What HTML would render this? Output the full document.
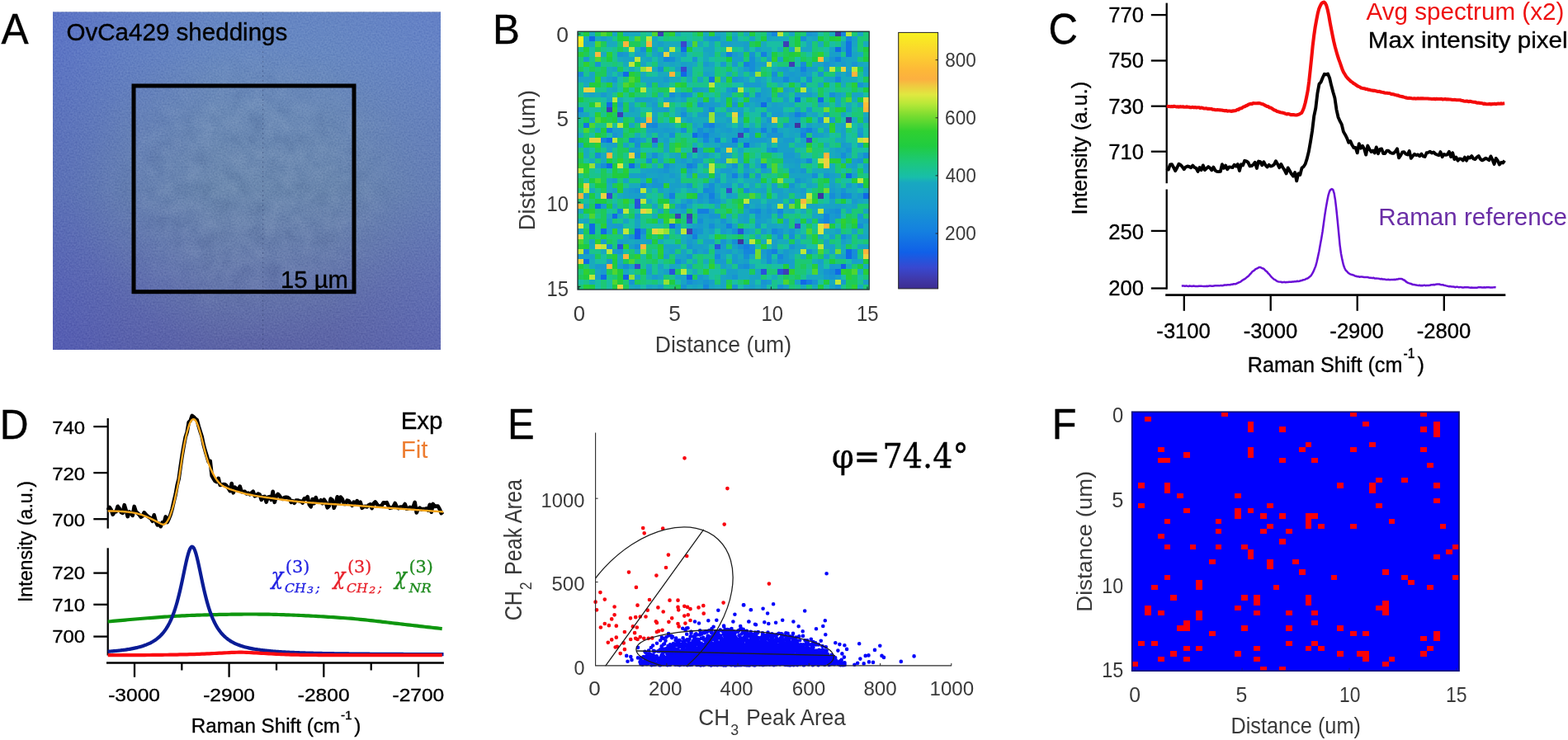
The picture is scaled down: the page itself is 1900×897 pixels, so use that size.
<!DOCTYPE html>
<html lang="en"><head><meta charset="utf-8"><title>Figure: OvCa429 sheddings – BCARS analysis</title>
<style>
html,body{margin:0;padding:0;background:#fff;}
body{width:1900px;height:897px;overflow:hidden;font-family:"Liberation Sans",sans-serif;}
svg{display:block;}
text{white-space:pre;}
</style></head><body>
<svg width="1900" height="897" viewBox="0 0 1900 897" style="filter:blur(0.45px)">
<defs>
<linearGradient id="gA" x1="0" y1="0" x2="0" y2="1">
 <stop offset="0" stop-color="rgb(101,133,195)"/><stop offset="0.12" stop-color="rgb(103,136,193)"/>
 <stop offset="0.3" stop-color="rgb(103,134,183)"/><stop offset="0.53" stop-color="rgb(102,130,173)"/><stop offset="0.78" stop-color="rgb(97,112,170)"/>
 <stop offset="0.95" stop-color="rgb(93,102,167)"/><stop offset="1" stop-color="rgb(91,99,166)"/>
</linearGradient>
<linearGradient id="gAl" x1="0" y1="0" x2="1" y2="0">
 <stop offset="0" stop-color="rgb(72,80,200)" stop-opacity="0.36"/><stop offset="0.03" stop-color="rgb(72,80,200)" stop-opacity="0.33"/>
 <stop offset="0.18" stop-color="rgb(72,80,200)" stop-opacity="0.17"/><stop offset="0.42" stop-color="rgb(72,80,200)" stop-opacity="0"/>
 <stop offset="0.72" stop-color="rgb(95,112,210)" stop-opacity="0"/><stop offset="1" stop-color="rgb(95,112,210)" stop-opacity="0.22"/>
</linearGradient>
<radialGradient id="gAc" cx="0.5" cy="0.53" r="0.5"><stop offset="0" stop-color="rgb(112,142,172)" stop-opacity="0.34"/><stop offset="0.55" stop-color="rgb(112,142,172)" stop-opacity="0.24"/><stop offset="1" stop-color="rgb(112,142,172)" stop-opacity="0"/></radialGradient>
<filter id="nA" x="0" y="0" width="100%" height="100%" color-interpolation-filters="sRGB">
 <feTurbulence type="fractalNoise" baseFrequency="0.5" numOctaves="2" seed="7" result="t"/>
 <feColorMatrix in="t" type="matrix" values="1.0 0 0 0 0.01  1.0 0 0 0 0.01  1.0 0 0 0 0.01  0 0 0 0 1"/>
 <feColorMatrix type="saturate" values="0"/>
</filter>
<filter id="nA2" x="0" y="0" width="100%" height="100%" color-interpolation-filters="sRGB">
 <feTurbulence type="fractalNoise" baseFrequency="0.05" numOctaves="2" seed="3" result="t"/>
 <feColorMatrix in="t" type="matrix" values="1.3 0 0 0 -0.07  1.3 0 0 0 -0.07  1.3 0 0 0 -0.07  0 0 0 0 1"/>
 <feColorMatrix type="saturate" values="0"/>
</filter>
<radialGradient id="gM" cx="0.5" cy="0.5" r="0.5"><stop offset="0.55" stop-color="#fff"/><stop offset="1" stop-color="#000"/></radialGradient>
<mask id="mA"><rect x="110" y="50" width="390" height="350" fill="url(#gM)"/></mask>
<clipPath id="cE"><rect x="721.6" y="524" width="432" height="283.4"/></clipPath>
</defs>
<text transform="translate(1.6 52.9) scale(0.9702 1)" font-size="51.3" fill="#000" font-family='"Liberation Sans", sans-serif' stroke="#000" stroke-width="0.35">A</text>
<text transform="translate(597.05 52.9) scale(0.9728 1)" font-size="50.72" fill="#000" font-family='"Liberation Sans", sans-serif' stroke="#000" stroke-width="0.35">B</text>
<text transform="translate(1270.44 53.19) scale(0.9558 1)" font-size="51.41" fill="#000" font-family='"Liberation Sans", sans-serif' stroke="#000" stroke-width="0.35">C</text>
<text transform="translate(-0.16 531.5) scale(0.9482 1)" font-size="50.87" fill="#000" font-family='"Liberation Sans", sans-serif' stroke="#000" stroke-width="0.35">D</text>
<text transform="translate(614.98 531.5) scale(0.9603 1)" font-size="51.01" fill="#000" font-family='"Liberation Sans", sans-serif' stroke="#000" stroke-width="0.35">E</text>
<text transform="translate(1274.8 531.8) scale(0.9480 1)" font-size="51.45" fill="#000" font-family='"Liberation Sans", sans-serif' stroke="#000" stroke-width="0.35">F</text>
<g id="panelA">
<g style="isolation:isolate">
<rect x="64" y="14.5" width="470" height="409.5" fill="url(#gA)"/>
<rect x="64" y="14.5" width="470" height="409.5" fill="url(#gAl)"/>
<rect x="90" y="40" width="420" height="370" fill="url(#gAc)"/>
<rect x="110" y="50" width="390" height="350" filter="url(#nA2)" style="mix-blend-mode:soft-light" opacity="0.16" mask="url(#mA)"/>
<rect x="64" y="14.5" width="470" height="409.5" filter="url(#nA)" style="mix-blend-mode:soft-light" opacity="0.3"/>
</g>
<line x1="318.6" y1="16" x2="318.6" y2="424" stroke="#27325c" stroke-width="0.9" stroke-dasharray="1.6 4.2" opacity="0.55"/>
<rect x="162" y="104" width="267" height="249.7" fill="none" stroke="#000" stroke-width="5"/>
<text transform="translate(80.47 49.36) scale(1.0280 1)" font-size="28.77" fill="#000" font-family='"Liberation Sans", sans-serif' stroke="#000" stroke-width="0.35">OvCa429 sheddings</text>
<text transform="translate(340.11 349.44) scale(0.9958 1)" font-size="29.33" fill="#000" font-family='"Liberation Sans", sans-serif' stroke="#000" stroke-width="0.35">15 µm</text>
</g>
<g id="panelB" shape-rendering="crispEdges">
<rect x="700" y="38.2" width="353.2" height="312.8" fill="#22b4a0"/>
<g transform="translate(700 38.2) scale(6.9255 6.1333)">
<path fill="#3f34a0" d="M45 0h1v1h-1zM47 17h1v1h-1zM38 18h1v1h-1zM20 23h1v1h-1zM42 32h1v1h-1zM28 41h1v1h-1z"/>
<path fill="#3d3eb6" d="M14 0h1v1h-1zM36 2h1v1h-1zM37 6h1v1h-1zM5 15h1v1h-1zM7 16h1v1h-1zM28 20h1v1h-1zM17 36h1v1h-1zM19 36h1v1h-1zM19 39h1v1h-1zM36 47h1v1h-1z"/>
<path fill="#3847ce" d="M18 2h1v1h-1zM18 7h1v1h-1zM13 21h1v1h-1zM40 21h1v1h-1zM26 31h1v1h-1zM5 32h1v1h-1zM19 37h1v1h-1zM38 38h1v1h-1zM10 46h1v1h-1z"/>
<path fill="#2752da" d="M10 33h1v1h-1zM10 34h1v1h-1zM28 39h1v1h-1zM7 42h1v1h-1zM24 42h1v1h-1zM16 47h1v1h-1zM32 47h1v1h-1zM35 47h1v1h-1z"/>
<path fill="#145ee6" d="M10 39h1v1h-1zM10 40h1v1h-1zM46 46h1v1h-1zM8 48h1v1h-1zM19 48h1v1h-1z"/>
<path fill="#1169e6" d="M2 1h1v1h-1zM18 3h1v1h-1zM45 3h1v1h-1zM8 8h1v1h-1zM18 8h1v1h-1zM38 13h1v1h-1zM42 13h1v1h-1zM5 14h1v1h-1zM32 14h1v1h-1zM20 20h1v1h-1zM5 21h1v1h-1zM27 21h1v1h-1zM29 22h1v1h-1zM5 26h1v1h-1zM9 26h1v1h-1zM47 28h1v1h-1zM50 32h1v1h-1zM3 34h1v1h-1zM6 36h1v1h-1zM2 38h1v1h-1zM16 38h1v1h-1zM2 39h1v1h-1zM4 39h1v1h-1zM47 43h1v1h-1zM47 44h1v1h-1zM1 45h1v1h-1zM45 47h1v1h-1zM4 48h1v1h-1zM39 49h1v1h-1z"/>
<path fill="#1273e3" d="M47 2h1v1h-1zM47 3h1v1h-1zM47 4h1v1h-1zM23 9h1v1h-1zM1 18h1v1h-1z"/>
<path fill="#147ee0" d="M26 4h1v1h-1zM32 4h1v1h-1zM45 5h1v1h-1zM29 6h1v1h-1zM39 7h1v1h-1zM0 15h1v1h-1zM38 16h1v1h-1zM23 18h1v1h-1zM5 19h1v1h-1zM29 19h1v1h-1zM32 19h1v1h-1zM40 19h1v1h-1zM22 20h1v1h-1zM39 20h1v1h-1zM4 21h1v1h-1zM24 21h1v1h-1zM19 26h1v1h-1zM32 26h1v1h-1zM27 28h1v1h-1zM16 32h1v1h-1zM23 32h1v1h-1zM21 35h2v1h-2zM26 38h1v1h-1zM20 40h1v1h-1zM29 42h1v1h-1zM34 43h1v1h-1zM40 49h1v1h-1z"/>
<path fill="#1586dc" d="M34 0h1v1h-1zM46 0h1v1h-1zM47 1h1v1h-1zM15 5h1v1h-1zM36 9h1v1h-1zM45 9h1v1h-1zM23 15h1v1h-1zM13 18h1v1h-1zM22 18h1v1h-1zM34 19h1v1h-1zM9 21h1v1h-1zM22 21h1v1h-1zM34 23h1v1h-1zM40 25h1v1h-1zM29 28h1v1h-1zM11 30h1v1h-1zM22 31h1v1h-1zM46 32h1v1h-1zM7 35h1v1h-1zM31 35h1v1h-1zM35 35h1v1h-1zM43 36h1v1h-1zM43 37h1v1h-1zM34 39h1v1h-1zM1 43h1v1h-1zM29 43h2v1h-2zM24 44h1v1h-1zM35 44h1v1h-1zM22 50h1v1h-1z"/>
<path fill="#168dd7" d="M39 1h1v1h-1zM11 3h1v1h-1zM16 5h1v1h-1zM30 5h1v1h-1zM30 6h1v1h-1zM39 6h1v1h-1zM14 7h1v1h-1zM30 7h1v1h-1zM0 8h1v1h-1zM34 8h1v1h-1zM40 9h1v1h-1zM27 11h1v1h-1zM16 12h1v1h-1zM18 12h1v1h-1zM31 12h1v1h-1zM44 12h1v1h-1zM21 14h1v1h-1zM18 16h1v1h-1zM32 16h1v1h-1zM39 16h1v1h-1zM42 17h1v1h-1zM12 18h1v1h-1zM18 19h1v1h-1zM21 19h1v1h-1zM39 19h1v1h-1zM16 20h1v1h-1zM21 20h1v1h-1zM10 22h1v1h-1zM24 23h1v1h-1zM3 24h1v1h-1zM13 24h1v1h-1zM46 24h1v1h-1zM50 24h1v1h-1zM12 25h1v1h-1zM4 26h1v1h-1zM15 26h1v1h-1zM20 26h1v1h-1zM27 26h1v1h-1zM41 28h1v1h-1zM23 30h1v1h-1zM23 31h1v1h-1zM29 31h1v1h-1zM44 32h1v1h-1zM47 32h1v1h-1zM23 33h1v1h-1zM18 34h1v1h-1zM30 35h1v1h-1zM45 35h1v1h-1zM21 37h1v1h-1zM23 38h1v1h-1zM49 38h1v1h-1zM11 39h1v1h-1zM20 39h1v1h-1zM27 39h1v1h-1zM35 40h1v1h-1zM37 40h1v1h-1zM46 40h1v1h-1zM27 41h1v1h-1zM5 42h1v1h-1zM10 42h1v1h-1zM28 42h1v1h-1zM30 42h1v1h-1zM33 43h1v1h-1zM48 43h1v1h-1zM29 44h1v1h-1zM33 44h1v1h-1zM48 44h1v1h-1zM17 45h1v1h-1zM33 45h1v1h-1zM8 46h1v1h-1zM29 46h1v1h-1zM44 47h1v1h-1zM19 49h1v1h-1z"/>
<path fill="#1794d2" d="M40 0h1v1h-1zM23 1h2v1h-2zM7 4h1v1h-1zM30 4h1v1h-1zM20 5h1v1h-1zM44 5h1v1h-1zM3 6h1v1h-1zM43 6h1v1h-1zM48 6h1v1h-1zM39 8h1v1h-1zM42 8h1v1h-1zM6 9h1v1h-1zM27 9h1v1h-1zM39 10h1v1h-1zM49 10h1v1h-1zM19 12h1v1h-1zM29 12h1v1h-1zM33 13h1v1h-1zM7 14h1v1h-1zM27 14h1v1h-1zM33 17h1v1h-1zM36 18h1v1h-1zM23 19h1v1h-1zM6 20h1v1h-1zM33 20h3v1h-3zM49 20h1v1h-1zM10 21h1v1h-1zM33 23h1v1h-1zM47 23h1v1h-1zM10 24h1v1h-1zM20 25h1v1h-1zM49 25h1v1h-1zM29 26h1v1h-1zM15 27h1v1h-1zM39 27h1v1h-1zM31 28h1v1h-1zM43 28h1v1h-1zM13 29h1v1h-1zM24 29h1v1h-1zM38 29h1v1h-1zM13 30h2v1h-2zM19 30h1v1h-1zM37 30h1v1h-1zM49 30h1v1h-1zM10 31h1v1h-1zM46 31h1v1h-1zM21 32h1v1h-1zM19 33h1v1h-1zM24 33h1v1h-1zM29 34h1v1h-1zM33 35h1v1h-1zM44 35h1v1h-1zM23 36h2v1h-2zM31 36h1v1h-1zM35 36h1v1h-1zM45 36h1v1h-1zM25 37h1v1h-1zM42 37h1v1h-1zM31 38h1v1h-1zM21 39h1v1h-1zM35 39h1v1h-1zM37 39h1v1h-1zM9 40h1v1h-1zM25 41h1v1h-1zM19 42h1v1h-1zM37 42h1v1h-1zM7 43h1v1h-1zM20 43h1v1h-1zM40 43h1v1h-1zM19 44h1v1h-1zM35 45h1v1h-1zM28 46h1v1h-1zM43 47h1v1h-1zM27 48h1v1h-1zM44 48h1v1h-1zM9 49h1v1h-1zM22 49h1v1h-1zM32 49h1v1h-1zM41 49h1v1h-1zM18 50h1v1h-1zM27 50h1v1h-1zM35 50h1v1h-1zM45 50h1v1h-1z"/>
<path fill="#189ace" d="M41 0h1v1h-1zM8 4h1v1h-1zM14 4h1v1h-1zM18 4h1v1h-1zM27 4h1v1h-1zM1 5h1v1h-1zM22 6h1v1h-1zM25 6h1v1h-1zM27 6h1v1h-1zM44 6h1v1h-1zM46 6h1v1h-1zM29 7h1v1h-1zM36 7h1v1h-1zM40 7h1v1h-1zM43 7h1v1h-1zM37 8h1v1h-1zM47 8h1v1h-1zM15 9h1v1h-1zM28 9h1v1h-1zM34 9h1v1h-1zM38 9h1v1h-1zM29 10h3v1h-3zM20 11h1v1h-1zM26 11h1v1h-1zM4 12h1v1h-1zM38 12h1v1h-1zM40 12h1v1h-1zM31 13h1v1h-1zM13 14h1v1h-1zM22 14h2v1h-2zM15 15h1v1h-1zM40 15h1v1h-1zM22 16h1v1h-1zM28 16h1v1h-1zM34 16h2v1h-2zM37 16h1v1h-1zM43 16h1v1h-1zM10 17h1v1h-1zM38 17h1v1h-1zM44 17h1v1h-1zM24 18h1v1h-1zM32 18h1v1h-1zM13 19h1v1h-1zM15 19h1v1h-1zM26 19h1v1h-1zM28 19h1v1h-1zM41 19h1v1h-1zM49 19h1v1h-1zM23 20h1v1h-1zM30 20h1v1h-1zM41 20h1v1h-1zM30 21h3v1h-3zM36 21h2v1h-2zM13 22h1v1h-1zM25 22h3v1h-3zM46 22h1v1h-1zM49 22h1v1h-1zM22 24h1v1h-1zM36 24h2v1h-2zM18 25h1v1h-1zM21 25h1v1h-1zM25 25h1v1h-1zM38 25h1v1h-1zM48 25h1v1h-1zM14 27h1v1h-1zM19 27h1v1h-1zM25 27h2v1h-2zM32 27h1v1h-1zM37 27h1v1h-1zM11 28h1v1h-1zM16 28h1v1h-1zM6 29h1v1h-1zM12 30h1v1h-1zM26 30h1v1h-1zM28 30h1v1h-1zM47 30h1v1h-1zM9 31h1v1h-1zM39 31h1v1h-1zM44 31h1v1h-1zM49 32h1v1h-1zM21 33h1v1h-1zM37 33h1v1h-1zM48 33h1v1h-1zM4 34h1v1h-1zM17 34h1v1h-1zM33 34h1v1h-1zM43 35h1v1h-1zM10 36h1v1h-1zM21 36h1v1h-1zM33 36h1v1h-1zM44 36h1v1h-1zM49 36h1v1h-1zM31 37h1v1h-1zM44 37h1v1h-1zM50 37h1v1h-1zM6 38h2v1h-2zM17 38h1v1h-1zM21 38h1v1h-1zM25 39h1v1h-1zM32 39h1v1h-1zM19 41h1v1h-1zM25 42h1v1h-1zM6 43h1v1h-1zM22 43h1v1h-1zM24 43h1v1h-1zM26 43h1v1h-1zM32 43h1v1h-1zM36 43h1v1h-1zM27 44h1v1h-1zM36 44h1v1h-1zM5 45h1v1h-1zM24 45h2v1h-2zM27 45h1v1h-1zM36 45h1v1h-1zM3 46h2v1h-2zM44 46h1v1h-1zM4 47h1v1h-1zM13 48h1v1h-1zM21 48h1v1h-1zM43 48h1v1h-1zM20 49h1v1h-1zM33 49h1v1h-1zM46 49h1v1h-1zM32 50h1v1h-1z"/>
<path fill="#189fc9" d="M33 0h1v1h-1zM4 1h1v1h-1zM22 1h1v1h-1zM27 1h1v1h-1zM48 1h1v1h-1zM14 2h1v1h-1zM25 2h2v1h-2zM29 2h1v1h-1zM13 3h1v1h-1zM29 3h1v1h-1zM31 3h1v1h-1zM46 3h1v1h-1zM10 4h2v1h-2zM44 4h2v1h-2zM27 5h2v1h-2zM33 5h1v1h-1zM46 5h1v1h-1zM18 6h1v1h-1zM31 6h2v1h-2zM17 7h1v1h-1zM19 7h1v1h-1zM35 7h1v1h-1zM38 7h1v1h-1zM41 7h1v1h-1zM50 7h1v1h-1zM19 8h1v1h-1zM22 8h1v1h-1zM36 8h1v1h-1zM38 8h1v1h-1zM40 8h1v1h-1zM45 8h1v1h-1zM5 9h1v1h-1zM31 9h1v1h-1zM35 9h1v1h-1zM37 9h1v1h-1zM12 10h1v1h-1zM21 11h1v1h-1zM32 11h1v1h-1zM36 11h1v1h-1zM17 12h1v1h-1zM32 12h1v1h-1zM35 12h1v1h-1zM39 12h1v1h-1zM45 12h1v1h-1zM10 13h3v1h-3zM15 13h2v1h-2zM18 13h1v1h-1zM23 13h1v1h-1zM30 13h1v1h-1zM32 13h1v1h-1zM36 13h1v1h-1zM24 14h1v1h-1zM29 14h1v1h-1zM31 14h1v1h-1zM34 14h1v1h-1zM42 14h1v1h-1zM7 15h1v1h-1zM9 15h1v1h-1zM13 15h2v1h-2zM18 15h1v1h-1zM22 15h1v1h-1zM26 15h1v1h-1zM28 15h1v1h-1zM33 15h3v1h-3zM0 16h1v1h-1zM21 16h1v1h-1zM13 17h1v1h-1zM19 17h1v1h-1zM26 17h1v1h-1zM37 17h1v1h-1zM50 17h1v1h-1zM20 18h1v1h-1zM25 18h1v1h-1zM28 18h1v1h-1zM37 18h1v1h-1zM40 18h1v1h-1zM6 19h2v1h-2zM12 19h1v1h-1zM14 19h1v1h-1zM16 19h1v1h-1zM22 19h1v1h-1zM25 19h1v1h-1zM30 19h1v1h-1zM38 19h1v1h-1zM43 19h1v1h-1zM46 19h1v1h-1zM7 20h1v1h-1zM14 20h1v1h-1zM24 20h1v1h-1zM42 20h1v1h-1zM46 20h1v1h-1zM11 21h1v1h-1zM15 21h1v1h-1zM6 22h1v1h-1zM30 22h1v1h-1zM35 22h2v1h-2zM47 22h1v1h-1zM9 23h2v1h-2zM21 23h1v1h-1zM35 23h3v1h-3zM45 23h1v1h-1zM19 24h1v1h-1zM25 24h1v1h-1zM36 25h2v1h-2zM16 26h1v1h-1zM38 26h1v1h-1zM48 26h1v1h-1zM50 26h1v1h-1zM12 27h2v1h-2zM29 27h1v1h-1zM38 27h1v1h-1zM9 28h2v1h-2zM14 28h1v1h-1zM24 28h1v1h-1zM26 28h1v1h-1zM44 28h1v1h-1zM48 28h1v1h-1zM14 29h1v1h-1zM17 29h1v1h-1zM39 29h1v1h-1zM16 30h2v1h-2zM22 30h1v1h-1zM25 30h1v1h-1zM34 30h1v1h-1zM44 30h1v1h-1zM6 31h1v1h-1zM14 31h1v1h-1zM16 31h1v1h-1zM32 31h1v1h-1zM34 31h2v1h-2zM37 31h1v1h-1zM9 32h2v1h-2zM22 32h1v1h-1zM24 32h1v1h-1zM26 32h1v1h-1zM35 32h1v1h-1zM39 32h1v1h-1zM45 32h1v1h-1zM31 34h1v1h-1zM45 34h1v1h-1zM18 35h1v1h-1zM23 35h1v1h-1zM32 35h1v1h-1zM34 35h1v1h-1zM22 36h1v1h-1zM29 36h1v1h-1zM32 36h1v1h-1zM5 37h1v1h-1zM23 37h1v1h-1zM29 37h1v1h-1zM32 37h1v1h-1zM36 37h1v1h-1zM49 37h1v1h-1zM5 38h1v1h-1zM20 38h1v1h-1zM25 38h1v1h-1zM23 39h1v1h-1zM29 39h1v1h-1zM45 39h1v1h-1zM11 40h1v1h-1zM19 40h1v1h-1zM44 40h1v1h-1zM47 40h1v1h-1zM49 40h1v1h-1zM4 41h1v1h-1zM7 41h1v1h-1zM12 41h1v1h-1zM22 41h2v1h-2zM34 41h1v1h-1zM46 41h1v1h-1zM9 42h1v1h-1zM20 42h2v1h-2zM27 42h1v1h-1zM34 42h1v1h-1zM16 43h1v1h-1zM25 43h1v1h-1zM28 43h1v1h-1zM0 44h1v1h-1zM15 44h1v1h-1zM32 44h1v1h-1zM43 44h1v1h-1zM46 44h1v1h-1zM18 45h1v1h-1zM29 45h1v1h-1zM37 45h1v1h-1zM42 45h1v1h-1zM48 45h1v1h-1zM7 46h1v1h-1zM19 46h1v1h-1zM25 46h1v1h-1zM37 46h1v1h-1zM45 46h1v1h-1zM12 47h1v1h-1zM15 47h1v1h-1zM26 47h2v1h-2zM3 48h1v1h-1zM26 48h1v1h-1zM45 48h1v1h-1zM21 49h1v1h-1zM23 49h1v1h-1zM50 49h1v1h-1zM14 50h1v1h-1zM30 50h1v1h-1z"/>
<path fill="#18a4c4" d="M6 0h1v1h-1zM8 0h1v1h-1zM24 0h1v1h-1zM37 0h1v1h-1zM49 0h1v1h-1zM13 1h1v1h-1zM30 1h1v1h-1zM33 1h1v1h-1zM41 1h1v1h-1zM1 2h1v1h-1zM23 2h1v1h-1zM27 2h2v1h-2zM40 2h1v1h-1zM46 2h1v1h-1zM48 2h1v1h-1zM15 3h1v1h-1zM22 3h2v1h-2zM37 3h1v1h-1zM39 3h2v1h-2zM44 3h1v1h-1zM13 4h1v1h-1zM23 4h1v1h-1zM28 4h1v1h-1zM48 4h1v1h-1zM8 5h2v1h-2zM12 5h1v1h-1zM14 5h1v1h-1zM17 5h1v1h-1zM35 5h1v1h-1zM47 5h2v1h-2zM11 6h1v1h-1zM14 6h1v1h-1zM16 6h1v1h-1zM19 6h1v1h-1zM23 6h1v1h-1zM42 6h1v1h-1zM45 6h1v1h-1zM47 6h1v1h-1zM49 6h1v1h-1zM6 7h1v1h-1zM31 7h1v1h-1zM47 7h1v1h-1zM2 8h1v1h-1zM7 8h1v1h-1zM23 8h1v1h-1zM30 8h1v1h-1zM50 8h1v1h-1zM0 9h3v1h-3zM11 9h4v1h-4zM21 9h1v1h-1zM29 9h1v1h-1zM43 9h2v1h-2zM14 10h1v1h-1zM32 10h1v1h-1zM42 10h1v1h-1zM50 10h1v1h-1zM6 11h1v1h-1zM22 11h1v1h-1zM33 11h1v1h-1zM2 12h1v1h-1zM26 12h1v1h-1zM33 12h1v1h-1zM48 12h2v1h-2zM5 13h1v1h-1zM13 13h1v1h-1zM27 13h1v1h-1zM45 13h1v1h-1zM9 14h1v1h-1zM35 14h1v1h-1zM37 14h1v1h-1zM45 14h1v1h-1zM49 14h1v1h-1zM38 15h1v1h-1zM47 15h1v1h-1zM1 16h1v1h-1zM13 16h1v1h-1zM24 16h2v1h-2zM41 16h1v1h-1zM46 16h1v1h-1zM9 18h1v1h-1zM14 18h2v1h-2zM33 18h1v1h-1zM42 18h1v1h-1zM46 18h1v1h-1zM24 19h1v1h-1zM27 19h1v1h-1zM31 19h1v1h-1zM33 19h1v1h-1zM35 19h1v1h-1zM37 19h1v1h-1zM26 20h2v1h-2zM37 20h1v1h-1zM23 21h1v1h-1zM26 21h1v1h-1zM28 21h2v1h-2zM33 21h1v1h-1zM35 21h1v1h-1zM39 21h1v1h-1zM46 21h1v1h-1zM0 22h1v1h-1zM5 22h1v1h-1zM8 22h1v1h-1zM15 22h1v1h-1zM33 22h1v1h-1zM5 23h1v1h-1zM15 23h1v1h-1zM28 23h1v1h-1zM46 23h1v1h-1zM17 24h1v1h-1zM21 24h1v1h-1zM26 24h1v1h-1zM38 24h1v1h-1zM45 24h1v1h-1zM47 24h1v1h-1zM49 24h1v1h-1zM14 25h1v1h-1zM17 25h1v1h-1zM24 25h1v1h-1zM39 25h1v1h-1zM3 26h1v1h-1zM10 26h1v1h-1zM18 26h1v1h-1zM22 26h1v1h-1zM26 26h1v1h-1zM31 26h1v1h-1zM37 26h1v1h-1zM47 26h1v1h-1zM11 27h1v1h-1zM16 27h1v1h-1zM27 27h1v1h-1zM33 27h1v1h-1zM43 27h1v1h-1zM50 27h1v1h-1zM12 28h2v1h-2zM15 28h1v1h-1zM17 28h1v1h-1zM19 28h1v1h-1zM37 28h4v1h-4zM45 28h1v1h-1zM5 29h1v1h-1zM8 29h1v1h-1zM15 29h1v1h-1zM26 29h1v1h-1zM31 29h1v1h-1zM44 29h1v1h-1zM18 30h1v1h-1zM30 30h1v1h-1zM40 30h1v1h-1zM8 31h1v1h-1zM20 31h1v1h-1zM31 31h1v1h-1zM38 31h1v1h-1zM45 31h1v1h-1zM1 32h1v1h-1zM8 32h1v1h-1zM11 32h1v1h-1zM15 32h1v1h-1zM27 32h1v1h-1zM36 32h1v1h-1zM48 32h1v1h-1zM18 33h1v1h-1zM22 33h1v1h-1zM30 33h2v1h-2zM33 33h3v1h-3zM44 33h1v1h-1zM49 33h1v1h-1zM13 34h1v1h-1zM19 34h1v1h-1zM24 34h1v1h-1zM36 34h1v1h-1zM40 34h2v1h-2zM43 34h2v1h-2zM46 34h1v1h-1zM48 34h1v1h-1zM14 35h1v1h-1zM16 35h1v1h-1zM29 35h1v1h-1zM37 35h1v1h-1zM47 35h1v1h-1zM50 35h1v1h-1zM28 36h1v1h-1zM41 36h2v1h-2zM1 37h1v1h-1zM8 37h1v1h-1zM10 37h1v1h-1zM22 37h1v1h-1zM28 37h1v1h-1zM40 37h1v1h-1zM10 38h1v1h-1zM22 38h1v1h-1zM24 38h1v1h-1zM27 38h1v1h-1zM33 38h2v1h-2zM36 38h1v1h-1zM5 39h1v1h-1zM7 39h1v1h-1zM17 39h1v1h-1zM26 39h1v1h-1zM36 39h1v1h-1zM48 39h1v1h-1zM8 40h1v1h-1zM15 40h1v1h-1zM31 40h1v1h-1zM39 40h1v1h-1zM50 40h1v1h-1zM2 41h1v1h-1zM8 41h1v1h-1zM10 41h2v1h-2zM20 41h1v1h-1zM43 41h1v1h-1zM15 42h3v1h-3zM22 42h1v1h-1zM38 42h2v1h-2zM43 42h2v1h-2zM49 42h2v1h-2zM18 43h1v1h-1zM21 43h1v1h-1zM37 43h1v1h-1zM44 43h1v1h-1zM1 44h2v1h-2zM17 44h2v1h-2zM25 44h1v1h-1zM45 44h1v1h-1zM28 45h1v1h-1zM49 45h1v1h-1zM9 46h1v1h-1zM12 46h1v1h-1zM14 46h1v1h-1zM16 46h1v1h-1zM30 46h1v1h-1zM42 46h1v1h-1zM3 47h1v1h-1zM31 47h1v1h-1zM42 47h1v1h-1zM10 48h1v1h-1zM14 48h1v1h-1zM17 48h2v1h-2zM22 48h1v1h-1zM25 48h1v1h-1zM30 48h2v1h-2zM18 49h1v1h-1zM25 49h1v1h-1zM30 49h1v1h-1zM38 49h1v1h-1zM10 50h1v1h-1zM12 50h1v1h-1zM20 50h1v1h-1zM23 50h1v1h-1zM25 50h1v1h-1zM29 50h1v1h-1zM36 50h1v1h-1zM44 50h1v1h-1z"/>
<path fill="#18aabe" d="M2 0h1v1h-1zM9 0h2v1h-2zM17 0h1v1h-1zM22 0h1v1h-1zM25 0h1v1h-1zM27 0h1v1h-1zM29 0h1v1h-1zM44 0h1v1h-1zM1 1h1v1h-1zM3 1h1v1h-1zM5 1h1v1h-1zM25 1h1v1h-1zM34 1h3v1h-3zM40 1h1v1h-1zM2 2h1v1h-1zM5 2h2v1h-2zM13 2h1v1h-1zM15 2h3v1h-3zM19 2h1v1h-1zM21 2h1v1h-1zM32 2h1v1h-1zM42 2h1v1h-1zM50 2h1v1h-1zM10 3h1v1h-1zM32 3h2v1h-2zM35 3h1v1h-1zM48 3h1v1h-1zM4 4h1v1h-1zM16 4h2v1h-2zM22 4h1v1h-1zM25 4h1v1h-1zM33 4h1v1h-1zM49 4h1v1h-1zM7 5h1v1h-1zM11 5h1v1h-1zM22 5h1v1h-1zM31 5h1v1h-1zM43 5h1v1h-1zM8 6h1v1h-1zM15 6h1v1h-1zM17 6h1v1h-1zM20 6h1v1h-1zM41 6h1v1h-1zM50 6h1v1h-1zM5 7h1v1h-1zM9 7h1v1h-1zM13 7h1v1h-1zM22 7h2v1h-2zM28 7h1v1h-1zM34 7h1v1h-1zM37 7h1v1h-1zM5 8h1v1h-1zM11 8h1v1h-1zM14 8h2v1h-2zM26 8h1v1h-1zM28 8h1v1h-1zM46 8h1v1h-1zM4 9h1v1h-1zM16 9h2v1h-2zM19 9h1v1h-1zM25 9h1v1h-1zM32 9h1v1h-1zM46 9h3v1h-3zM1 10h1v1h-1zM6 10h1v1h-1zM15 10h1v1h-1zM35 10h1v1h-1zM46 10h1v1h-1zM5 11h1v1h-1zM37 11h1v1h-1zM40 11h1v1h-1zM1 12h1v1h-1zM3 12h1v1h-1zM5 12h1v1h-1zM14 12h1v1h-1zM25 12h1v1h-1zM36 12h1v1h-1zM41 12h1v1h-1zM46 12h1v1h-1zM7 13h1v1h-1zM17 13h1v1h-1zM21 13h1v1h-1zM25 13h1v1h-1zM48 13h1v1h-1zM12 14h1v1h-1zM25 14h1v1h-1zM30 14h1v1h-1zM33 14h1v1h-1zM36 14h1v1h-1zM43 14h1v1h-1zM47 14h1v1h-1zM10 15h1v1h-1zM17 15h1v1h-1zM27 15h1v1h-1zM30 15h1v1h-1zM8 16h3v1h-3zM17 16h1v1h-1zM19 16h1v1h-1zM36 16h1v1h-1zM40 16h1v1h-1zM50 16h1v1h-1zM2 17h1v1h-1zM7 17h1v1h-1zM11 17h1v1h-1zM18 17h1v1h-1zM20 17h3v1h-3zM24 17h2v1h-2zM28 17h1v1h-1zM32 17h1v1h-1zM48 17h1v1h-1zM16 18h1v1h-1zM21 18h1v1h-1zM26 18h1v1h-1zM30 18h1v1h-1zM34 18h1v1h-1zM41 18h1v1h-1zM43 18h1v1h-1zM45 18h1v1h-1zM49 18h1v1h-1zM3 19h1v1h-1zM17 19h1v1h-1zM20 19h1v1h-1zM36 19h1v1h-1zM45 19h1v1h-1zM0 20h1v1h-1zM10 20h1v1h-1zM12 20h1v1h-1zM15 20h1v1h-1zM25 20h1v1h-1zM32 20h1v1h-1zM36 20h1v1h-1zM38 20h1v1h-1zM43 20h1v1h-1zM14 21h1v1h-1zM21 21h1v1h-1zM45 21h1v1h-1zM4 22h1v1h-1zM20 22h1v1h-1zM22 22h3v1h-3zM31 22h1v1h-1zM38 22h2v1h-2zM43 22h1v1h-1zM1 23h1v1h-1zM25 23h1v1h-1zM44 23h1v1h-1zM1 24h1v1h-1zM4 24h1v1h-1zM12 24h1v1h-1zM14 24h1v1h-1zM16 24h1v1h-1zM23 24h1v1h-1zM28 24h1v1h-1zM44 24h1v1h-1zM2 25h1v1h-1zM4 25h1v1h-1zM19 25h1v1h-1zM28 25h1v1h-1zM31 25h1v1h-1zM46 25h1v1h-1zM13 26h1v1h-1zM17 26h1v1h-1zM36 26h1v1h-1zM44 26h1v1h-1zM17 27h1v1h-1zM20 27h1v1h-1zM24 27h1v1h-1zM30 27h1v1h-1zM41 27h2v1h-2zM44 27h1v1h-1zM48 27h1v1h-1zM21 28h2v1h-2zM28 28h1v1h-1zM11 29h1v1h-1zM16 29h1v1h-1zM23 29h1v1h-1zM27 29h1v1h-1zM29 29h2v1h-2zM40 29h1v1h-1zM5 30h1v1h-1zM9 30h2v1h-2zM24 30h1v1h-1zM32 30h1v1h-1zM38 30h1v1h-1zM41 30h1v1h-1zM45 30h1v1h-1zM48 30h1v1h-1zM2 31h1v1h-1zM5 31h1v1h-1zM12 31h1v1h-1zM15 31h1v1h-1zM17 31h1v1h-1zM19 31h1v1h-1zM24 31h1v1h-1zM30 31h1v1h-1zM36 31h1v1h-1zM47 31h2v1h-2zM50 31h1v1h-1zM7 32h1v1h-1zM32 32h1v1h-1zM38 32h1v1h-1zM12 33h1v1h-1zM16 33h1v1h-1zM20 33h1v1h-1zM25 33h1v1h-1zM50 33h1v1h-1zM1 34h1v1h-1zM6 34h1v1h-1zM30 34h1v1h-1zM32 34h1v1h-1zM34 34h1v1h-1zM42 34h1v1h-1zM47 34h1v1h-1zM0 35h1v1h-1zM17 35h1v1h-1zM36 35h1v1h-1zM39 35h1v1h-1zM41 35h1v1h-1zM5 36h1v1h-1zM7 36h1v1h-1zM13 36h1v1h-1zM26 36h1v1h-1zM0 37h1v1h-1zM14 37h1v1h-1zM24 37h1v1h-1zM26 37h1v1h-1zM33 37h1v1h-1zM38 37h1v1h-1zM19 38h1v1h-1zM35 38h1v1h-1zM50 38h1v1h-1zM0 39h1v1h-1zM22 39h1v1h-1zM30 39h1v1h-1zM33 39h1v1h-1zM38 39h1v1h-1zM43 39h2v1h-2zM50 39h1v1h-1zM18 40h1v1h-1zM21 40h2v1h-2zM34 40h1v1h-1zM42 40h1v1h-1zM9 41h1v1h-1zM14 41h1v1h-1zM18 41h1v1h-1zM26 41h1v1h-1zM29 41h1v1h-1zM32 41h1v1h-1zM35 41h2v1h-2zM38 41h1v1h-1zM47 41h1v1h-1zM2 42h1v1h-1zM46 42h1v1h-1zM4 43h1v1h-1zM10 43h1v1h-1zM15 43h1v1h-1zM27 43h1v1h-1zM35 43h1v1h-1zM38 43h1v1h-1zM41 43h1v1h-1zM46 43h1v1h-1zM7 44h1v1h-1zM28 44h1v1h-1zM30 44h1v1h-1zM37 44h1v1h-1zM39 44h1v1h-1zM2 45h1v1h-1zM7 45h1v1h-1zM20 45h1v1h-1zM22 45h1v1h-1zM32 45h1v1h-1zM34 45h1v1h-1zM41 45h1v1h-1zM2 46h1v1h-1zM17 46h1v1h-1zM26 46h1v1h-1zM47 46h1v1h-1zM50 46h1v1h-1zM8 47h1v1h-1zM14 47h1v1h-1zM20 47h1v1h-1zM28 47h2v1h-2zM49 47h1v1h-1zM12 48h1v1h-1zM28 48h2v1h-2zM34 48h1v1h-1zM40 48h3v1h-3zM2 49h1v1h-1zM44 49h1v1h-1zM9 50h1v1h-1zM13 50h1v1h-1zM19 50h1v1h-1zM21 50h1v1h-1zM24 50h1v1h-1zM31 50h1v1h-1zM39 50h1v1h-1zM41 50h1v1h-1zM49 50h1v1h-1z"/>
<path fill="#19bfa3" d="M12 0h1v1h-1zM18 0h2v1h-2zM42 0h1v1h-1zM9 1h1v1h-1zM14 1h1v1h-1zM19 1h1v1h-1zM28 1h1v1h-1zM46 1h1v1h-1zM22 2h1v1h-1zM33 2h3v1h-3zM39 2h1v1h-1zM44 2h1v1h-1zM2 3h1v1h-1zM5 3h1v1h-1zM17 3h1v1h-1zM20 3h2v1h-2zM24 3h1v1h-1zM28 3h1v1h-1zM30 3h1v1h-1zM34 3h1v1h-1zM43 3h1v1h-1zM2 4h1v1h-1zM9 4h1v1h-1zM19 4h1v1h-1zM31 4h1v1h-1zM40 4h1v1h-1zM13 5h1v1h-1zM18 5h2v1h-2zM21 5h1v1h-1zM23 5h1v1h-1zM38 5h1v1h-1zM12 6h1v1h-1zM24 6h1v1h-1zM34 6h1v1h-1zM38 6h1v1h-1zM8 7h1v1h-1zM10 7h1v1h-1zM16 7h1v1h-1zM27 7h1v1h-1zM6 8h1v1h-1zM13 8h1v1h-1zM17 8h1v1h-1zM41 8h1v1h-1zM7 9h1v1h-1zM30 9h1v1h-1zM33 9h1v1h-1zM39 9h1v1h-1zM49 9h1v1h-1zM19 10h1v1h-1zM24 10h1v1h-1zM27 10h2v1h-2zM36 10h1v1h-1zM44 10h1v1h-1zM7 11h1v1h-1zM9 11h1v1h-1zM12 11h1v1h-1zM17 11h1v1h-1zM25 11h1v1h-1zM29 11h1v1h-1zM31 11h1v1h-1zM41 11h1v1h-1zM44 11h1v1h-1zM12 12h1v1h-1zM20 12h1v1h-1zM23 12h1v1h-1zM43 12h1v1h-1zM50 12h1v1h-1zM4 13h1v1h-1zM8 13h2v1h-2zM14 13h1v1h-1zM24 13h1v1h-1zM28 13h1v1h-1zM37 13h1v1h-1zM39 13h1v1h-1zM17 14h1v1h-1zM40 14h1v1h-1zM48 14h1v1h-1zM2 15h2v1h-2zM11 15h2v1h-2zM24 15h1v1h-1zM29 15h1v1h-1zM31 15h1v1h-1zM36 15h1v1h-1zM2 16h1v1h-1zM16 16h1v1h-1zM20 16h1v1h-1zM30 16h2v1h-2zM33 16h1v1h-1zM42 16h1v1h-1zM47 16h1v1h-1zM15 17h1v1h-1zM30 17h1v1h-1zM41 17h1v1h-1zM46 17h1v1h-1zM6 18h1v1h-1zM27 18h1v1h-1zM39 18h1v1h-1zM48 18h1v1h-1zM48 19h1v1h-1zM50 19h1v1h-1zM2 20h1v1h-1zM5 20h1v1h-1zM18 20h2v1h-2zM29 20h1v1h-1zM44 20h1v1h-1zM47 20h1v1h-1zM50 20h1v1h-1zM16 21h1v1h-1zM25 21h1v1h-1zM38 21h1v1h-1zM42 21h2v1h-2zM47 21h2v1h-2zM32 22h1v1h-1zM34 22h1v1h-1zM48 22h1v1h-1zM2 23h1v1h-1zM11 23h2v1h-2zM18 23h1v1h-1zM27 23h1v1h-1zM29 23h1v1h-1zM32 23h1v1h-1zM39 23h1v1h-1zM43 23h1v1h-1zM49 23h2v1h-2zM15 24h1v1h-1zM20 24h1v1h-1zM24 24h1v1h-1zM31 24h1v1h-1zM35 24h1v1h-1zM40 24h1v1h-1zM1 25h1v1h-1zM10 25h1v1h-1zM30 25h1v1h-1zM41 25h1v1h-1zM21 26h1v1h-1zM41 26h1v1h-1zM49 26h1v1h-1zM3 27h1v1h-1zM5 27h1v1h-1zM9 27h2v1h-2zM21 27h1v1h-1zM46 27h1v1h-1zM25 28h1v1h-1zM42 28h1v1h-1zM1 29h1v1h-1zM25 29h1v1h-1zM28 29h1v1h-1zM33 29h1v1h-1zM36 29h2v1h-2zM46 29h2v1h-2zM21 30h1v1h-1zM27 30h1v1h-1zM29 30h1v1h-1zM39 30h1v1h-1zM18 31h1v1h-1zM21 31h1v1h-1zM25 31h1v1h-1zM27 31h1v1h-1zM40 31h1v1h-1zM49 31h1v1h-1zM3 32h1v1h-1zM13 32h1v1h-1zM25 32h1v1h-1zM34 32h1v1h-1zM43 32h1v1h-1zM1 33h1v1h-1zM6 33h1v1h-1zM13 33h1v1h-1zM17 33h1v1h-1zM32 33h1v1h-1zM43 33h1v1h-1zM47 33h1v1h-1zM9 34h1v1h-1zM20 34h1v1h-1zM22 34h1v1h-1zM5 35h1v1h-1zM10 35h1v1h-1zM20 35h1v1h-1zM38 35h1v1h-1zM1 36h1v1h-1zM30 36h1v1h-1zM39 36h1v1h-1zM46 36h1v1h-1zM9 37h1v1h-1zM27 37h1v1h-1zM34 37h1v1h-1zM8 38h2v1h-2zM12 38h3v1h-3zM30 38h1v1h-1zM32 38h1v1h-1zM39 38h1v1h-1zM41 38h1v1h-1zM45 38h1v1h-1zM24 39h1v1h-1zM39 39h1v1h-1zM23 40h1v1h-1zM29 40h1v1h-1zM43 40h1v1h-1zM15 41h2v1h-2zM23 42h1v1h-1zM31 42h1v1h-1zM33 42h1v1h-1zM36 42h1v1h-1zM40 42h2v1h-2zM8 43h1v1h-1zM13 43h1v1h-1zM19 43h1v1h-1zM4 44h1v1h-1zM11 44h1v1h-1zM26 44h1v1h-1zM34 44h1v1h-1zM3 45h2v1h-2zM14 45h1v1h-1zM30 45h2v1h-2zM47 45h1v1h-1zM15 46h1v1h-1zM22 46h1v1h-1zM31 46h2v1h-2zM34 46h2v1h-2zM43 46h1v1h-1zM9 47h1v1h-1zM19 47h1v1h-1zM23 47h2v1h-2zM40 47h1v1h-1zM23 48h1v1h-1zM33 48h1v1h-1zM46 48h1v1h-1zM49 48h1v1h-1zM0 49h1v1h-1zM3 49h1v1h-1zM5 49h1v1h-1zM14 49h1v1h-1zM17 49h1v1h-1zM27 49h1v1h-1zM31 49h1v1h-1zM35 49h1v1h-1zM42 49h1v1h-1zM3 50h1v1h-1zM5 50h1v1h-1zM11 50h1v1h-1zM28 50h1v1h-1zM33 50h1v1h-1zM43 50h1v1h-1z"/>
<path fill="#1ac48c" d="M11 0h1v1h-1zM31 0h1v1h-1zM36 0h1v1h-1zM6 1h1v1h-1zM16 1h3v1h-3zM20 1h2v1h-2zM29 1h1v1h-1zM31 1h1v1h-1zM11 2h1v1h-1zM24 2h1v1h-1zM45 2h1v1h-1zM0 3h1v1h-1zM4 3h1v1h-1zM6 3h1v1h-1zM8 3h1v1h-1zM14 3h1v1h-1zM25 3h1v1h-1zM27 3h1v1h-1zM42 3h1v1h-1zM6 4h1v1h-1zM12 4h1v1h-1zM20 4h2v1h-2zM43 4h1v1h-1zM46 4h1v1h-1zM2 5h1v1h-1zM6 5h1v1h-1zM24 5h2v1h-2zM32 5h1v1h-1zM4 6h2v1h-2zM7 6h1v1h-1zM21 6h1v1h-1zM26 6h1v1h-1zM28 6h1v1h-1zM1 7h1v1h-1zM20 7h2v1h-2zM25 7h1v1h-1zM33 7h1v1h-1zM1 8h1v1h-1zM12 8h1v1h-1zM20 8h1v1h-1zM25 8h1v1h-1zM29 8h1v1h-1zM49 8h1v1h-1zM18 9h1v1h-1zM22 9h1v1h-1zM41 9h2v1h-2zM0 10h1v1h-1zM7 10h1v1h-1zM11 10h1v1h-1zM16 10h1v1h-1zM20 10h3v1h-3zM25 10h1v1h-1zM34 10h1v1h-1zM38 10h1v1h-1zM40 10h2v1h-2zM0 11h1v1h-1zM3 11h2v1h-2zM24 11h1v1h-1zM43 11h1v1h-1zM46 11h2v1h-2zM49 11h1v1h-1zM0 12h1v1h-1zM6 12h1v1h-1zM8 12h1v1h-1zM22 12h1v1h-1zM30 12h1v1h-1zM37 12h1v1h-1zM2 13h2v1h-2zM35 13h1v1h-1zM43 13h1v1h-1zM0 14h2v1h-2zM4 14h1v1h-1zM10 14h1v1h-1zM20 14h1v1h-1zM38 14h2v1h-2zM44 14h1v1h-1zM46 14h1v1h-1zM1 15h1v1h-1zM16 15h1v1h-1zM20 15h2v1h-2zM25 15h1v1h-1zM32 15h1v1h-1zM37 15h1v1h-1zM39 15h1v1h-1zM41 15h2v1h-2zM48 15h1v1h-1zM4 16h1v1h-1zM14 16h1v1h-1zM26 16h1v1h-1zM0 17h1v1h-1zM35 17h1v1h-1zM39 17h1v1h-1zM3 18h2v1h-2zM17 18h1v1h-1zM29 18h1v1h-1zM31 18h1v1h-1zM50 18h1v1h-1zM0 19h1v1h-1zM42 19h1v1h-1zM11 20h1v1h-1zM13 20h1v1h-1zM45 20h1v1h-1zM48 20h1v1h-1zM12 21h1v1h-1zM19 21h1v1h-1zM44 21h1v1h-1zM9 22h1v1h-1zM21 22h1v1h-1zM28 22h1v1h-1zM37 22h1v1h-1zM41 22h1v1h-1zM44 22h1v1h-1zM4 23h1v1h-1zM6 23h1v1h-1zM13 23h1v1h-1zM19 23h1v1h-1zM30 23h2v1h-2zM38 23h1v1h-1zM48 23h1v1h-1zM2 24h1v1h-1zM6 24h1v1h-1zM8 24h1v1h-1zM27 24h1v1h-1zM34 24h1v1h-1zM39 24h1v1h-1zM42 24h1v1h-1zM48 24h1v1h-1zM11 25h1v1h-1zM22 25h1v1h-1zM8 26h1v1h-1zM25 26h1v1h-1zM28 26h1v1h-1zM30 26h1v1h-1zM35 26h1v1h-1zM39 26h1v1h-1zM2 27h1v1h-1zM28 27h1v1h-1zM31 27h1v1h-1zM36 27h1v1h-1zM40 27h1v1h-1zM0 28h1v1h-1zM2 28h2v1h-2zM18 28h1v1h-1zM32 28h1v1h-1zM34 28h1v1h-1zM50 28h1v1h-1zM21 29h1v1h-1zM41 29h1v1h-1zM2 30h1v1h-1zM8 30h1v1h-1zM31 30h1v1h-1zM33 30h1v1h-1zM43 30h1v1h-1zM46 30h1v1h-1zM3 31h1v1h-1zM13 31h1v1h-1zM6 32h1v1h-1zM12 32h1v1h-1zM17 32h2v1h-2zM26 33h1v1h-1zM36 33h1v1h-1zM42 33h1v1h-1zM21 34h1v1h-1zM23 34h1v1h-1zM26 34h1v1h-1zM6 35h1v1h-1zM13 35h1v1h-1zM27 35h1v1h-1zM46 35h1v1h-1zM3 36h1v1h-1zM8 36h1v1h-1zM11 36h2v1h-2zM18 36h1v1h-1zM34 36h1v1h-1zM37 36h1v1h-1zM40 36h1v1h-1zM7 37h1v1h-1zM11 37h1v1h-1zM20 37h1v1h-1zM1 38h1v1h-1zM3 38h1v1h-1zM11 38h1v1h-1zM18 38h1v1h-1zM29 38h1v1h-1zM3 39h1v1h-1zM16 39h1v1h-1zM41 39h1v1h-1zM47 39h1v1h-1zM17 40h1v1h-1zM26 40h1v1h-1zM32 40h1v1h-1zM38 40h1v1h-1zM21 41h1v1h-1zM24 41h1v1h-1zM39 41h2v1h-2zM45 41h1v1h-1zM49 41h1v1h-1zM18 42h1v1h-1zM35 42h1v1h-1zM45 42h1v1h-1zM48 42h1v1h-1zM2 43h2v1h-2zM43 43h1v1h-1zM13 44h1v1h-1zM20 44h1v1h-1zM22 44h2v1h-2zM38 44h1v1h-1zM41 44h1v1h-1zM44 44h1v1h-1zM49 44h1v1h-1zM11 45h1v1h-1zM19 45h1v1h-1zM43 45h1v1h-1zM11 46h1v1h-1zM13 46h1v1h-1zM18 46h1v1h-1zM24 46h1v1h-1zM27 46h1v1h-1zM33 46h1v1h-1zM40 46h1v1h-1zM13 47h1v1h-1zM21 47h1v1h-1zM5 48h1v1h-1zM16 48h1v1h-1zM24 48h1v1h-1zM35 48h1v1h-1zM39 48h1v1h-1zM1 49h1v1h-1zM12 49h1v1h-1zM34 49h1v1h-1zM49 49h1v1h-1zM15 50h1v1h-1zM34 50h1v1h-1zM38 50h1v1h-1zM46 50h1v1h-1z"/>
<path fill="#1cc875" d="M0 0h1v1h-1zM20 0h1v1h-1zM26 0h1v1h-1zM28 0h1v1h-1zM32 0h1v1h-1zM39 0h1v1h-1zM43 0h1v1h-1zM48 0h1v1h-1zM50 0h1v1h-1zM11 1h1v1h-1zM15 1h1v1h-1zM37 1h1v1h-1zM43 1h1v1h-1zM49 1h2v1h-2zM7 2h1v1h-1zM37 2h1v1h-1zM41 2h1v1h-1zM49 2h1v1h-1zM41 3h1v1h-1zM49 3h1v1h-1zM24 4h1v1h-1zM35 4h1v1h-1zM39 4h1v1h-1zM0 5h1v1h-1zM4 5h1v1h-1zM29 5h1v1h-1zM40 5h1v1h-1zM49 5h1v1h-1zM0 6h1v1h-1zM2 6h1v1h-1zM6 6h1v1h-1zM13 6h1v1h-1zM35 6h2v1h-2zM3 7h1v1h-1zM15 7h1v1h-1zM24 7h1v1h-1zM32 7h1v1h-1zM42 7h1v1h-1zM45 7h1v1h-1zM21 8h1v1h-1zM24 8h1v1h-1zM27 8h1v1h-1zM33 8h1v1h-1zM35 8h1v1h-1zM43 8h2v1h-2zM8 9h1v1h-1zM20 9h1v1h-1zM4 10h1v1h-1zM10 10h1v1h-1zM26 10h1v1h-1zM33 10h1v1h-1zM47 10h1v1h-1zM13 11h1v1h-1zM18 11h1v1h-1zM30 11h1v1h-1zM45 11h1v1h-1zM10 12h2v1h-2zM15 12h1v1h-1zM24 12h1v1h-1zM27 12h1v1h-1zM1 13h1v1h-1zM19 13h2v1h-2zM34 13h1v1h-1zM41 13h1v1h-1zM46 13h1v1h-1zM14 14h1v1h-1zM16 14h1v1h-1zM18 14h1v1h-1zM41 14h1v1h-1zM4 15h1v1h-1zM19 15h1v1h-1zM44 15h1v1h-1zM49 15h1v1h-1zM11 16h1v1h-1zM29 16h1v1h-1zM44 16h2v1h-2zM48 16h2v1h-2zM9 17h1v1h-1zM14 17h1v1h-1zM31 17h1v1h-1zM36 17h1v1h-1zM0 18h1v1h-1zM10 18h1v1h-1zM19 18h1v1h-1zM35 18h1v1h-1zM2 19h1v1h-1zM8 19h1v1h-1zM11 19h1v1h-1zM19 19h1v1h-1zM47 19h1v1h-1zM1 20h1v1h-1zM9 20h1v1h-1zM17 20h1v1h-1zM40 20h1v1h-1zM8 21h1v1h-1zM17 21h1v1h-1zM20 21h1v1h-1zM41 21h1v1h-1zM19 22h1v1h-1zM45 22h1v1h-1zM0 23h1v1h-1zM14 23h1v1h-1zM41 23h2v1h-2zM30 24h1v1h-1zM41 24h1v1h-1zM3 25h1v1h-1zM6 25h1v1h-1zM8 25h1v1h-1zM15 25h1v1h-1zM33 25h1v1h-1zM12 26h1v1h-1zM14 26h1v1h-1zM24 26h1v1h-1zM33 26h1v1h-1zM40 26h1v1h-1zM45 26h1v1h-1zM7 27h1v1h-1zM22 27h1v1h-1zM35 27h1v1h-1zM45 27h1v1h-1zM47 27h1v1h-1zM5 28h1v1h-1zM30 28h1v1h-1zM33 28h1v1h-1zM49 28h1v1h-1zM7 29h1v1h-1zM9 29h2v1h-2zM18 29h3v1h-3zM45 29h1v1h-1zM20 30h1v1h-1zM35 30h1v1h-1zM0 31h1v1h-1zM33 31h1v1h-1zM41 31h1v1h-1zM14 32h1v1h-1zM28 32h2v1h-2zM31 32h1v1h-1zM37 32h1v1h-1zM0 33h1v1h-1zM2 33h1v1h-1zM5 33h1v1h-1zM7 33h1v1h-1zM9 33h1v1h-1zM45 33h1v1h-1zM7 34h1v1h-1zM11 34h2v1h-2zM14 34h1v1h-1zM27 34h1v1h-1zM49 34h2v1h-2zM3 35h1v1h-1zM9 35h1v1h-1zM24 35h2v1h-2zM40 35h1v1h-1zM48 35h2v1h-2zM0 36h1v1h-1zM20 36h1v1h-1zM27 36h1v1h-1zM36 36h1v1h-1zM38 36h1v1h-1zM48 36h1v1h-1zM50 36h1v1h-1zM2 37h1v1h-1zM6 37h1v1h-1zM18 37h1v1h-1zM30 37h1v1h-1zM37 37h1v1h-1zM45 37h1v1h-1zM15 38h1v1h-1zM37 38h1v1h-1zM47 38h1v1h-1zM9 39h1v1h-1zM31 39h1v1h-1zM46 39h1v1h-1zM49 39h1v1h-1zM1 40h1v1h-1zM3 40h1v1h-1zM5 40h3v1h-3zM13 40h1v1h-1zM16 40h1v1h-1zM27 40h1v1h-1zM30 40h1v1h-1zM36 40h1v1h-1zM40 40h1v1h-1zM45 40h1v1h-1zM48 40h1v1h-1zM1 41h1v1h-1zM6 41h1v1h-1zM42 41h1v1h-1zM44 41h1v1h-1zM48 41h1v1h-1zM50 41h1v1h-1zM6 42h1v1h-1zM12 42h2v1h-2zM26 42h1v1h-1zM9 43h1v1h-1zM12 43h1v1h-1zM17 43h1v1h-1zM23 43h1v1h-1zM49 43h1v1h-1zM16 44h1v1h-1zM21 44h1v1h-1zM10 45h1v1h-1zM12 45h1v1h-1zM15 45h1v1h-1zM21 45h1v1h-1zM26 45h1v1h-1zM38 45h3v1h-3zM45 45h2v1h-2zM1 46h1v1h-1zM20 46h2v1h-2zM38 46h1v1h-1zM48 46h1v1h-1zM0 47h1v1h-1zM10 47h1v1h-1zM25 47h1v1h-1zM33 47h2v1h-2zM38 47h2v1h-2zM6 48h1v1h-1zM11 48h1v1h-1zM15 48h1v1h-1zM32 48h1v1h-1zM37 48h1v1h-1zM50 48h1v1h-1zM4 49h1v1h-1zM8 49h1v1h-1zM11 49h1v1h-1zM13 49h1v1h-1zM24 49h1v1h-1zM28 49h1v1h-1zM0 50h1v1h-1zM4 50h1v1h-1zM16 50h1v1h-1zM37 50h1v1h-1zM40 50h1v1h-1zM50 50h1v1h-1z"/>
<path fill="#1eca5a" d="M3 0h1v1h-1zM15 0h1v1h-1zM38 0h1v1h-1zM4 2h1v1h-1zM9 2h2v1h-2zM30 2h1v1h-1zM43 2h1v1h-1zM3 3h1v1h-1zM7 3h1v1h-1zM36 3h1v1h-1zM1 4h1v1h-1zM29 4h1v1h-1zM36 4h1v1h-1zM41 4h1v1h-1zM50 4h1v1h-1zM37 5h1v1h-1zM39 5h1v1h-1zM40 6h1v1h-1zM0 7h1v1h-1zM2 7h1v1h-1zM4 7h1v1h-1zM7 7h1v1h-1zM26 7h1v1h-1zM49 7h1v1h-1zM3 8h2v1h-2zM10 8h1v1h-1zM32 8h1v1h-1zM50 9h1v1h-1zM13 10h1v1h-1zM45 10h1v1h-1zM14 11h2v1h-2zM19 11h1v1h-1zM38 11h1v1h-1zM42 11h1v1h-1zM48 11h1v1h-1zM13 12h1v1h-1zM28 12h1v1h-1zM34 12h1v1h-1zM42 12h1v1h-1zM47 12h1v1h-1zM40 13h1v1h-1zM8 14h1v1h-1zM11 14h1v1h-1zM8 15h1v1h-1zM6 16h1v1h-1zM15 16h1v1h-1zM1 17h1v1h-1zM5 17h1v1h-1zM8 17h1v1h-1zM45 17h1v1h-1zM49 17h1v1h-1zM10 19h1v1h-1zM4 20h1v1h-1zM8 20h1v1h-1zM1 21h1v1h-1zM7 21h1v1h-1zM18 21h1v1h-1zM2 22h1v1h-1zM7 22h1v1h-1zM11 22h2v1h-2zM14 22h1v1h-1zM16 22h1v1h-1zM18 22h1v1h-1zM42 22h1v1h-1zM3 23h1v1h-1zM7 23h2v1h-2zM16 23h1v1h-1zM22 23h1v1h-1zM7 24h1v1h-1zM32 24h2v1h-2zM0 25h1v1h-1zM13 25h1v1h-1zM23 25h1v1h-1zM34 25h2v1h-2zM50 25h1v1h-1zM4 27h1v1h-1zM49 27h1v1h-1zM1 28h1v1h-1zM4 28h1v1h-1zM35 28h1v1h-1zM46 28h1v1h-1zM0 29h1v1h-1zM4 29h1v1h-1zM22 29h1v1h-1zM42 29h1v1h-1zM6 30h1v1h-1zM42 30h1v1h-1zM4 31h1v1h-1zM28 31h1v1h-1zM42 31h1v1h-1zM41 32h1v1h-1zM27 33h1v1h-1zM2 34h1v1h-1zM8 34h1v1h-1zM16 34h1v1h-1zM25 34h1v1h-1zM4 35h1v1h-1zM15 35h1v1h-1zM19 35h1v1h-1zM28 35h1v1h-1zM4 36h1v1h-1zM9 36h1v1h-1zM16 36h1v1h-1zM25 36h1v1h-1zM47 36h1v1h-1zM3 37h2v1h-2zM12 37h1v1h-1zM41 37h1v1h-1zM47 37h1v1h-1zM28 38h1v1h-1zM40 38h1v1h-1zM1 39h1v1h-1zM12 39h1v1h-1zM2 40h1v1h-1zM25 40h1v1h-1zM28 40h1v1h-1zM33 40h1v1h-1zM5 41h1v1h-1zM17 41h1v1h-1zM37 41h1v1h-1zM47 42h1v1h-1zM3 44h1v1h-1zM5 44h1v1h-1zM9 44h1v1h-1zM42 44h1v1h-1zM8 45h1v1h-1zM13 45h1v1h-1zM16 45h1v1h-1zM23 45h1v1h-1zM39 46h1v1h-1zM2 47h1v1h-1zM5 47h1v1h-1zM17 47h1v1h-1zM30 47h1v1h-1zM0 48h1v1h-1zM20 48h1v1h-1zM36 48h1v1h-1zM38 48h1v1h-1zM48 48h1v1h-1zM10 49h1v1h-1zM26 49h1v1h-1zM37 49h1v1h-1zM47 49h2v1h-2zM8 50h1v1h-1zM17 50h1v1h-1zM47 50h1v1h-1z"/>
<path fill="#20cc40" d="M1 0h1v1h-1zM7 0h1v1h-1zM30 0h1v1h-1zM7 1h1v1h-1zM26 1h1v1h-1zM32 1h1v1h-1zM38 1h1v1h-1zM42 1h1v1h-1zM44 1h1v1h-1zM31 2h1v1h-1zM38 2h1v1h-1zM1 3h1v1h-1zM12 3h1v1h-1zM19 3h1v1h-1zM50 3h1v1h-1zM34 4h1v1h-1zM37 4h1v1h-1zM5 5h1v1h-1zM26 5h1v1h-1zM36 5h1v1h-1zM41 5h1v1h-1zM50 5h1v1h-1zM10 6h1v1h-1zM2 10h2v1h-2zM18 10h1v1h-1zM37 10h1v1h-1zM43 10h1v1h-1zM8 11h1v1h-1zM10 11h1v1h-1zM34 11h1v1h-1zM50 11h1v1h-1zM9 12h1v1h-1zM0 13h1v1h-1zM26 13h1v1h-1zM29 13h1v1h-1zM44 13h1v1h-1zM49 13h1v1h-1zM2 14h1v1h-1zM6 14h1v1h-1zM28 14h1v1h-1zM46 15h1v1h-1zM5 16h1v1h-1zM6 17h1v1h-1zM29 17h1v1h-1zM40 17h1v1h-1zM8 18h1v1h-1zM18 18h1v1h-1zM4 19h1v1h-1zM9 19h1v1h-1zM3 20h1v1h-1zM31 20h1v1h-1zM0 21h1v1h-1zM1 22h1v1h-1zM50 22h1v1h-1zM18 24h1v1h-1zM5 25h1v1h-1zM9 25h1v1h-1zM29 25h1v1h-1zM47 25h1v1h-1zM6 26h1v1h-1zM6 27h1v1h-1zM18 27h1v1h-1zM6 28h3v1h-3zM23 28h1v1h-1zM2 29h1v1h-1zM32 29h1v1h-1zM43 29h1v1h-1zM50 29h1v1h-1zM3 30h2v1h-2zM36 30h1v1h-1zM50 30h1v1h-1zM2 32h1v1h-1zM20 32h1v1h-1zM33 32h1v1h-1zM3 33h2v1h-2zM14 33h2v1h-2zM28 33h1v1h-1zM38 33h1v1h-1zM46 33h1v1h-1zM5 34h1v1h-1zM38 34h1v1h-1zM1 35h1v1h-1zM14 36h1v1h-1zM13 37h1v1h-1zM17 37h1v1h-1zM39 37h1v1h-1zM44 38h1v1h-1zM48 38h1v1h-1zM12 40h1v1h-1zM13 41h1v1h-1zM1 42h1v1h-1zM12 44h1v1h-1zM40 44h1v1h-1zM6 45h1v1h-1zM44 45h1v1h-1zM50 45h1v1h-1zM0 46h1v1h-1zM6 46h1v1h-1zM36 46h1v1h-1zM49 46h1v1h-1zM7 47h1v1h-1zM11 47h1v1h-1zM1 48h1v1h-1zM7 48h1v1h-1zM7 49h1v1h-1zM16 49h1v1h-1zM29 49h1v1h-1zM43 49h1v1h-1zM2 50h1v1h-1zM6 50h1v1h-1zM42 50h1v1h-1z"/>
<path fill="#28ce38" d="M5 0h1v1h-1zM21 0h1v1h-1zM23 0h1v1h-1zM8 1h1v1h-1zM45 1h1v1h-1zM0 4h1v1h-1zM38 4h1v1h-1zM9 8h1v1h-1zM10 9h1v1h-1zM26 9h1v1h-1zM5 10h1v1h-1zM48 10h1v1h-1zM21 12h1v1h-1zM22 13h1v1h-1zM19 14h1v1h-1zM26 14h1v1h-1zM45 15h1v1h-1zM4 17h1v1h-1zM16 17h1v1h-1zM44 18h1v1h-1zM40 22h1v1h-1zM23 23h1v1h-1zM11 24h1v1h-1zM29 24h1v1h-1zM16 25h1v1h-1zM44 25h2v1h-2zM1 26h1v1h-1zM11 26h1v1h-1zM42 26h1v1h-1zM46 26h1v1h-1zM8 27h1v1h-1zM12 29h1v1h-1zM34 29h1v1h-1zM48 29h1v1h-1zM7 30h1v1h-1zM15 30h1v1h-1zM7 31h1v1h-1zM19 32h1v1h-1zM2 35h1v1h-1zM26 35h1v1h-1zM15 36h1v1h-1zM35 37h1v1h-1zM4 38h1v1h-1zM46 38h1v1h-1zM4 40h1v1h-1zM14 40h1v1h-1zM24 40h1v1h-1zM41 40h1v1h-1zM31 41h1v1h-1zM41 41h1v1h-1zM0 42h1v1h-1zM14 42h1v1h-1zM32 42h1v1h-1zM6 44h1v1h-1zM14 44h1v1h-1zM41 46h1v1h-1zM22 47h1v1h-1zM47 47h1v1h-1zM50 47h1v1h-1zM47 48h1v1h-1zM1 50h1v1h-1z"/>
<path fill="#2fd031" d="M16 0h1v1h-1zM5 4h1v1h-1zM42 4h1v1h-1zM34 5h1v1h-1zM1 6h1v1h-1zM3 9h1v1h-1zM9 10h1v1h-1zM17 10h1v1h-1zM23 11h1v1h-1zM7 12h1v1h-1zM6 15h1v1h-1zM3 16h1v1h-1zM44 19h1v1h-1zM3 22h1v1h-1zM17 22h1v1h-1zM0 24h1v1h-1zM7 25h1v1h-1zM0 26h1v1h-1zM1 27h1v1h-1zM20 28h1v1h-1zM36 28h1v1h-1zM0 30h1v1h-1zM8 33h1v1h-1zM41 33h1v1h-1zM28 34h1v1h-1zM15 37h1v1h-1zM46 37h1v1h-1zM48 37h1v1h-1zM6 39h1v1h-1zM3 41h1v1h-1zM8 42h1v1h-1zM14 43h1v1h-1zM10 44h1v1h-1zM23 46h1v1h-1zM1 47h1v1h-1zM37 47h1v1h-1zM46 47h1v1h-1zM26 50h1v1h-1zM48 50h1v1h-1z"/>
<path fill="#4fd530" d="M4 0h1v1h-1zM13 0h1v1h-1zM10 1h1v1h-1zM3 2h1v1h-1zM20 2h1v1h-1zM3 5h1v1h-1zM9 9h1v1h-1zM24 9h1v1h-1zM8 10h1v1h-1zM35 11h1v1h-1zM47 13h1v1h-1zM3 17h1v1h-1zM2 18h1v1h-1zM1 19h1v1h-1zM17 23h1v1h-1zM40 23h1v1h-1zM32 25h1v1h-1zM34 26h1v1h-1zM34 27h1v1h-1zM3 29h1v1h-1zM30 32h1v1h-1zM2 36h1v1h-1zM40 39h1v1h-1zM0 41h1v1h-1zM42 43h1v1h-1zM9 45h1v1h-1zM6 47h1v1h-1zM41 47h1v1h-1zM48 47h1v1h-1zM6 49h1v1h-1zM36 49h1v1h-1z"/>
<path fill="#71db30" d="M43 15h1v1h-1zM27 25h1v1h-1zM43 31h1v1h-1zM37 34h1v1h-1zM31 43h1v1h-1zM45 43h1v1h-1zM31 44h1v1h-1z"/>
<path fill="#96e234" d="M38 3h1v1h-1zM11 7h1v1h-1zM31 8h1v1h-1zM3 14h1v1h-1zM23 16h1v1h-1zM23 17h1v1h-1zM5 18h1v1h-1zM26 25h1v1h-1zM2 26h1v1h-1zM35 29h1v1h-1zM40 33h1v1h-1zM16 37h1v1h-1zM15 39h1v1h-1zM11 43h1v1h-1zM9 48h1v1h-1zM15 49h1v1h-1z"/>
<path fill="#bce839" d="M35 0h1v1h-1zM47 0h1v1h-1zM12 1h1v1h-1zM9 3h1v1h-1zM16 3h1v1h-1zM10 5h1v1h-1zM9 6h1v1h-1zM33 6h1v1h-1zM44 7h1v1h-1zM48 7h1v1h-1zM23 10h1v1h-1zM11 11h1v1h-1zM28 11h1v1h-1zM39 11h1v1h-1zM6 13h1v1h-1zM12 16h1v1h-1zM27 17h1v1h-1zM43 17h1v1h-1zM7 18h1v1h-1zM47 18h1v1h-1zM6 21h1v1h-1zM49 21h1v1h-1zM42 25h1v1h-1zM23 26h1v1h-1zM0 27h1v1h-1zM23 27h1v1h-1zM49 29h1v1h-1zM1 31h1v1h-1zM11 31h1v1h-1zM40 32h1v1h-1zM11 33h1v1h-1zM29 33h1v1h-1zM15 34h1v1h-1zM35 34h1v1h-1zM8 35h1v1h-1zM12 35h1v1h-1zM42 35h1v1h-1zM8 39h1v1h-1zM14 39h1v1h-1zM18 39h1v1h-1zM30 41h1v1h-1zM33 41h1v1h-1zM4 42h1v1h-1zM42 42h1v1h-1zM0 43h1v1h-1zM5 43h1v1h-1zM39 43h1v1h-1zM18 47h1v1h-1zM2 48h1v1h-1zM45 49h1v1h-1z"/>
<path fill="#dbe83f" d="M26 3h1v1h-1zM16 11h1v1h-1zM17 17h1v1h-1zM7 26h1v1h-1zM39 34h1v1h-1zM0 38h1v1h-1zM42 38h1v1h-1zM42 39h1v1h-1z"/>
<path fill="#ead340" d="M15 4h1v1h-1zM12 7h1v1h-1zM46 7h1v1h-1zM1 11h2v1h-2zM50 13h1v1h-1zM15 14h1v1h-1zM27 16h1v1h-1zM34 17h1v1h-1zM2 21h2v1h-2zM34 21h1v1h-1zM50 21h1v1h-1zM26 23h1v1h-1zM9 24h1v1h-1zM43 25h1v1h-1zM43 26h1v1h-1zM1 30h1v1h-1zM4 32h1v1h-1zM11 35h1v1h-1zM13 39h1v1h-1zM0 40h1v1h-1zM3 42h1v1h-1zM50 44h1v1h-1zM0 45h1v1h-1zM7 50h1v1h-1z"/>
<path fill="#f8b840" d="M3 4h1v1h-1zM11 18h1v1h-1zM39 33h1v1h-1z"/>
<path fill="#fdb43c" d="M8 2h1v1h-1zM12 2h1v1h-1zM16 8h1v1h-1zM48 8h1v1h-1zM50 15h1v1h-1zM12 17h1v1h-1zM5 24h1v1h-1zM43 24h1v1h-1zM0 32h1v1h-1zM0 34h1v1h-1zM43 38h1v1h-1zM11 42h1v1h-1zM50 43h1v1h-1zM8 44h1v1h-1zM5 46h1v1h-1z"/>
<path fill="#fdbd36" d="M42 5h1v1h-1zM50 14h1v1h-1z"/>
<path fill="#f9ea23" d="M0 2h1v1h-1z"/>
<path fill="#f8f41e" d="M0 1h1v1h-1z"/>
</g>
</g>
<rect x="700" y="38.2" width="353.2" height="312.8" fill="none" stroke="#1c2a30" stroke-width="1.3"/>
<linearGradient id="gCB" x1="0" y1="1" x2="0" y2="0"><stop offset="0.0000" stop-color="#3c2c90"/><stop offset="0.0348" stop-color="#4038a8"/><stop offset="0.0819" stop-color="#3848d0"/><stop offset="0.1414" stop-color="#1060e8"/><stop offset="0.2245" stop-color="#1480e0"/><stop offset="0.3187" stop-color="#1898d0"/><stop offset="0.4141" stop-color="#18a8c0"/><stop offset="0.4355" stop-color="#18beaa"/><stop offset="0.4972" stop-color="#1cc878"/><stop offset="0.5567" stop-color="#20cc40"/><stop offset="0.6150" stop-color="#30d030"/><stop offset="0.6745" stop-color="#78dc30"/><stop offset="0.7217" stop-color="#b8e838"/><stop offset="0.7576" stop-color="#e0e840"/><stop offset="0.7935" stop-color="#f0c840"/><stop offset="0.8171" stop-color="#fcb040"/><stop offset="0.8530" stop-color="#fdb838"/><stop offset="0.9113" stop-color="#fcd030"/><stop offset="0.9944" stop-color="#f8f020"/><stop offset="1.0000" stop-color="#f8f41e"/></linearGradient>
<rect x="1088.7" y="39.4" width="47.9" height="310.5" fill="url(#gCB)" stroke="#222" stroke-width="1"/>
<line x1="1133.6" y1="72.7" x2="1136.6" y2="72.7" stroke="#222" stroke-width="1"/>
<text transform="translate(1145.18 80.87) scale(0.9661 1)" font-size="23.38" fill="#3a3a3a" font-family='"Liberation Sans", sans-serif'>800</text>
<line x1="1133.6" y1="142.8" x2="1136.6" y2="142.8" stroke="#222" stroke-width="1"/>
<text transform="translate(1145.07 150.97) scale(0.9691 1)" font-size="23.38" fill="#3a3a3a" font-family='"Liberation Sans", sans-serif'>600</text>
<line x1="1133.6" y1="212.9" x2="1136.6" y2="212.9" stroke="#222" stroke-width="1"/>
<text transform="translate(1145.76 221.07) scale(0.9511 1)" font-size="23.38" fill="#3a3a3a" font-family='"Liberation Sans", sans-serif'>400</text>
<line x1="1133.6" y1="283" x2="1136.6" y2="283" stroke="#222" stroke-width="1"/>
<text transform="translate(1145.07 291.17) scale(0.9691 1)" font-size="23.38" fill="#3a3a3a" font-family='"Liberation Sans", sans-serif'>200</text>
<line x1="700" y1="41.2" x2="703.5" y2="41.2" stroke="#1c2a30" stroke-width="1"/>
<line x1="700" y1="143.4" x2="703.5" y2="143.4" stroke="#1c2a30" stroke-width="1"/>
<line x1="700" y1="245.3" x2="703.5" y2="245.3" stroke="#1c2a30" stroke-width="1"/>
<line x1="700" y1="347.4" x2="703.5" y2="347.4" stroke="#1c2a30" stroke-width="1"/>
<line x1="701.2" y1="351" x2="701.2" y2="347.5" stroke="#1c2a30" stroke-width="1"/>
<line x1="818" y1="351" x2="818" y2="347.5" stroke="#1c2a30" stroke-width="1"/>
<line x1="934.4" y1="351" x2="934.4" y2="347.5" stroke="#1c2a30" stroke-width="1"/>
<line x1="1051" y1="351" x2="1051" y2="347.5" stroke="#1c2a30" stroke-width="1"/>
<text transform="translate(674.24 50.55) scale(1.0436 1)" font-size="25.35" fill="#3a3a3a" font-family='"Liberation Sans", sans-serif'>0</text>
<text transform="translate(674.56 153.04) scale(1.0152 1)" font-size="25.71" fill="#3a3a3a" font-family='"Liberation Sans", sans-serif'>5</text>
<text transform="translate(662.52 256.35) scale(0.9348 1)" font-size="25.35" fill="#3a3a3a" font-family='"Liberation Sans", sans-serif'>10</text>
<text transform="translate(662.51 359.24) scale(0.9263 1)" font-size="25.71" fill="#3a3a3a" font-family='"Liberation Sans", sans-serif'>15</text>
<text transform="translate(694.77 389.04) scale(0.9997 1)" font-size="25.63" fill="#3a3a3a" font-family='"Liberation Sans", sans-serif'>0</text>
<text transform="translate(810.25 389.04) scale(1.0121 1)" font-size="26" fill="#3a3a3a" font-family='"Liberation Sans", sans-serif'>5</text>
<text transform="translate(922.62 389.04) scale(0.9285 1)" font-size="25.63" fill="#3a3a3a" font-family='"Liberation Sans", sans-serif'>10</text>
<text transform="translate(1037.91 389.04) scale(0.9200 1)" font-size="26" fill="#3a3a3a" font-family='"Liberation Sans", sans-serif'>15</text>
<text transform="translate(793.77 426.77) scale(0.9746 1)" font-size="27.27" fill="#3a3a3a" font-family='"Liberation Sans", sans-serif'>Distance (um)</text>
<text transform="translate(648.14 279.29) rotate(-90) scale(1.0155 1)" font-size="26.95" fill="#3a3a3a" font-family='"Liberation Sans", sans-serif'>Distance (um)</text>
<g id="panelC" fill="none" stroke-linejoin="round" stroke-linecap="butt">
<line x1="1413.7" y1="3.6" x2="1413.7" y2="222.2" stroke="#000" stroke-width="2.3"/>
<line x1="1413.7" y1="229.5" x2="1413.7" y2="350.7" stroke="#000" stroke-width="2.3"/>
<line x1="1412.2" y1="357.6" x2="1824.3" y2="357.6" stroke="#000" stroke-width="2.6"/>
<line x1="1394.8" y1="18.1" x2="1413.7" y2="18.1" stroke="#000" stroke-width="2.3"/>
<line x1="1394.8" y1="73.5" x2="1413.7" y2="73.5" stroke="#000" stroke-width="2.3"/>
<line x1="1394.8" y1="128.7" x2="1413.7" y2="128.7" stroke="#000" stroke-width="2.3"/>
<line x1="1394.8" y1="183.7" x2="1413.7" y2="183.7" stroke="#000" stroke-width="2.3"/>
<line x1="1394.8" y1="279.9" x2="1413.7" y2="279.9" stroke="#000" stroke-width="2.3"/>
<line x1="1394.8" y1="349.5" x2="1413.7" y2="349.5" stroke="#000" stroke-width="2.3"/>
<line x1="1434.8" y1="357.6" x2="1434.8" y2="376.8" stroke="#000" stroke-width="2.3"/>
<line x1="1539.7" y1="357.6" x2="1539.7" y2="376.8" stroke="#000" stroke-width="2.3"/>
<line x1="1644.7" y1="357.6" x2="1644.7" y2="376.8" stroke="#000" stroke-width="2.3"/>
<line x1="1749.8" y1="357.6" x2="1749.8" y2="376.8" stroke="#000" stroke-width="2.3"/>
<path d="M1413.7 128.79 L1415.2 128.93 L1416.7 129.03 L1418.2 129.2 L1419.7 129.12 L1421.2 129.31 L1422.7 128.75 L1424.2 129.12 L1425.7 129.52 L1427.2 129.38 L1428.7 129.62 L1430.2 129.14 L1431.7 129.45 L1433.2 129.36 L1434.7 129.64 L1436.2 129.72 L1437.7 129.39 L1439.2 129.6 L1440.7 129.71 L1442.2 130.22 L1443.7 130.19 L1445.2 129.84 L1446.7 130.37 L1448.2 129.99 L1449.7 130.42 L1451.2 130.18 L1452.7 130.21 L1454.2 130.94 L1455.7 130.61 L1457.2 130.76 L1458.7 131.44 L1460.2 131.52 L1461.7 131.28 L1463.2 131.92 L1464.7 131.79 L1466.2 132.07 L1467.7 131.93 L1469.2 132.65 L1470.7 132.68 L1472.2 133.09 L1473.7 133.26 L1475.2 133.05 L1476.7 133.3 L1478.2 133.36 L1479.7 133.54 L1481.2 133.65 L1482.7 133.97 L1484.2 134.33 L1485.7 134.03 L1487.2 134.6 L1488.7 134.44 L1490.2 134.47 L1491.7 134.87 L1493.2 134.63 L1494.7 134.4 L1496.2 134.24 L1497.7 133.93 L1499.2 132.89 L1500.7 132.87 L1502.2 131.52 L1503.7 131.37 L1505.2 130.74 L1506.7 129.45 L1508.2 129.27 L1509.7 128.29 L1511.2 127.79 L1512.7 126.76 L1514.2 126.2 L1515.7 125.76 L1517.2 125.87 L1518.7 125.01 L1520.2 125.2 L1521.7 125.21 L1523.2 125.22 L1524.7 124.93 L1526.2 125.15 L1527.7 125.57 L1529.2 126.18 L1530.7 126.28 L1532.2 127.39 L1533.7 128.12 L1535.2 128.89 L1536.7 129.05 L1538.2 130.43 L1539.7 130.57 L1541.2 131.49 L1542.7 132.47 L1544.2 133.49 L1545.7 133.86 L1547.2 134.98 L1548.7 135.35 L1550.2 135.72 L1551.7 136.19 L1553.2 136.5 L1554.7 136.8 L1556.2 137.2 L1557.7 137.9 L1559.2 138.39 L1560.7 138.05 L1562.2 138.2 L1563.7 139.09 L1565.2 139.01 L1566.7 139.14 L1568.2 139.17 L1569.7 139.48 L1571.2 139.56 L1572.7 139.05 L1574.2 138.59 L1575.7 137.61 L1577.2 136.9 L1578.7 133.9 L1580.2 129.91 L1581.7 124.5 L1583.2 117.51 L1584.7 109.93 L1586.2 98.71 L1587.7 84.85 L1589.2 70.51 L1590.7 55.22 L1592.2 43.09 L1593.7 32.63 L1595.2 24.28 L1596.7 16.54 L1598.2 10.85 L1599.7 7.16 L1601.2 4.37 L1602.7 3.19 L1604.2 2.5 L1605.7 3.63 L1607.2 6.49 L1608.7 11.76 L1610.2 18.88 L1611.7 27.53 L1613.2 35.43 L1614.7 42.99 L1616.2 50.21 L1617.7 56.46 L1619.2 62.04 L1620.7 67.23 L1622.2 71.75 L1623.7 75.86 L1625.2 80.27 L1626.7 84.65 L1628.2 87.95 L1629.7 90.19 L1631.2 92.67 L1632.7 94.53 L1634.2 96.1 L1635.7 97.5 L1637.2 98.86 L1638.7 99.81 L1640.2 101.17 L1641.7 101.9 L1643.2 103 L1644.7 104.1 L1646.2 104.89 L1647.7 105.39 L1649.2 106.52 L1650.7 106.88 L1652.2 107.31 L1653.7 107.31 L1655.2 108.04 L1656.7 108.15 L1658.2 108.76 L1659.7 108.91 L1661.2 109.43 L1662.7 109.56 L1664.2 109.91 L1665.7 109.84 L1667.2 110.3 L1668.7 110.63 L1670.2 110.96 L1671.7 110.9 L1673.2 111.53 L1674.7 111.82 L1676.2 111.98 L1677.7 112.47 L1679.2 112.73 L1680.7 112.7 L1682.2 112.98 L1683.7 113.01 L1685.2 113.77 L1686.7 114.16 L1688.2 114.18 L1689.7 114.71 L1691.2 115.14 L1692.7 115.58 L1694.2 115.62 L1695.7 116.46 L1697.2 116.71 L1698.7 117.15 L1700.2 117.38 L1701.7 117.91 L1703.2 118.39 L1704.7 118.64 L1706.2 118.99 L1707.7 118.74 L1709.2 119 L1710.7 119.31 L1712.2 119.52 L1713.7 119.25 L1715.2 119.59 L1716.7 119.55 L1718.2 119.15 L1719.7 119.47 L1721.2 119.34 L1722.7 119.26 L1724.2 119.36 L1725.7 119.53 L1727.2 119.47 L1728.7 119.51 L1730.2 119.44 L1731.7 119.78 L1733.2 119.76 L1734.7 119.96 L1736.2 119.98 L1737.7 119.77 L1739.2 120.27 L1740.7 119.68 L1742.2 120 L1743.7 119.95 L1745.2 120.08 L1746.7 119.91 L1748.2 120.47 L1749.7 120.2 L1751.2 120.02 L1752.7 120.48 L1754.2 120.18 L1755.7 120.55 L1757.2 120.47 L1758.7 120.71 L1760.2 121.05 L1761.7 121.04 L1763.2 120.86 L1764.7 121.25 L1766.2 121.25 L1767.7 121.22 L1769.2 121.24 L1770.7 121.76 L1772.2 121.96 L1773.7 122.45 L1775.2 122.68 L1776.7 122.64 L1778.2 122.65 L1779.7 123.23 L1781.2 122.8 L1782.7 123.07 L1784.2 123.59 L1785.7 123.83 L1787.2 123.71 L1788.7 124.27 L1790.2 124.69 L1791.7 124.59 L1793.2 124.89 L1794.7 124.99 L1796.2 125.26 L1797.7 125.91 L1799.2 125.64 L1800.7 126.18 L1802.2 126.25 L1803.7 126.11 L1805.2 125.92 L1806.7 126.44 L1808.2 126.08 L1809.7 125.98 L1811.2 125.85 L1812.7 126.24 L1814.2 125.83 L1815.7 125.62 L1817.2 125.7 L1818.7 125.39 L1820.2 125.67 L1821.7 125.48 L1823.2 125.31" stroke="#f40b0b" stroke-width="4.1"/>
<path d="M1413.7 203.84 L1415.8 205.53 L1417.9 199.4 L1420 199.17 L1422.1 202.95 L1424.2 207.11 L1426.3 203.27 L1428.4 198.71 L1430.5 199.95 L1432.6 202.16 L1434.7 205.2 L1436.8 202.44 L1438.9 201.48 L1441 201.96 L1443.1 203.22 L1445.2 200.63 L1447.3 202.93 L1449.4 203.82 L1451.5 207.97 L1453.6 203.08 L1455.7 206.19 L1457.8 200.42 L1459.9 206.05 L1462 204.06 L1464.1 202.04 L1466.2 203.57 L1468.3 206.28 L1470.4 202.63 L1472.5 206.53 L1474.6 207.89 L1476.7 208.07 L1478.8 207.92 L1480.9 199.25 L1483 203.82 L1485.1 200.62 L1487.2 205.2 L1489.3 202.43 L1491.4 202.65 L1493.5 203.13 L1495.6 199.81 L1497.7 201.62 L1499.8 199.01 L1501.9 207.02 L1504 199.27 L1506.1 200.36 L1508.2 194.8 L1510.3 195.32 L1512.4 196.9 L1514.5 201.43 L1516.6 201.12 L1518.7 199.51 L1520.8 196.69 L1522.9 204 L1525 195.59 L1527.1 196.2 L1529.2 200.32 L1531.3 196.18 L1533.4 200.16 L1535.5 202.54 L1537.6 199.83 L1539.7 201.64 L1541.8 201 L1543.9 199.4 L1546 195.23 L1548.1 198.93 L1550.2 203.15 L1552.3 199.03 L1554.4 202.99 L1556.5 206.11 L1558.6 210.37 L1560.7 203.41 L1562.8 207.02 L1564.9 210.84 L1567 213.42 L1569.1 209.07 L1571.2 219.35 L1573.3 210.35 L1575.4 211.84 L1577.5 203.62 L1579.6 202.02 L1581.7 198.78 L1583.8 192.12 L1585.9 183.53 L1588 171.58 L1590.1 158.48 L1592.2 140.92 L1594.3 131.02 L1596.4 113.12 L1598.5 101.86 L1600.6 99.51 L1602.7 94.29 L1604.8 89.78 L1606.9 90.36 L1609 89.53 L1611.1 94.53 L1613.2 103.58 L1615.3 111.51 L1617.4 118.69 L1619.5 133.06 L1621.6 142.25 L1623.7 146.95 L1625.8 150.85 L1627.9 159.63 L1630 163.22 L1632.1 167.37 L1634.2 172.73 L1636.3 171.14 L1638.4 175.83 L1640.5 179.14 L1642.6 179.03 L1644.7 185.3 L1646.8 174.2 L1648.9 179.67 L1651 176.8 L1653.1 180.54 L1655.2 187.62 L1657.3 176.57 L1659.4 180.89 L1661.5 184.01 L1663.6 182.65 L1665.7 185.42 L1667.8 178.39 L1669.9 186.25 L1672 180.81 L1674.1 180.35 L1676.2 185.97 L1678.3 186.01 L1680.4 182.73 L1682.5 182.77 L1684.6 184.92 L1686.7 185.82 L1688.8 185.72 L1690.9 183.61 L1693 180.36 L1695.1 191.34 L1697.2 188.32 L1699.3 184.42 L1701.4 184.3 L1703.5 186.72 L1705.6 187.49 L1707.7 182.97 L1709.8 191.87 L1711.9 189.06 L1714 186.78 L1716.1 188.13 L1718.2 187.45 L1720.3 189.26 L1722.4 186.64 L1724.5 189.33 L1726.6 190 L1728.7 185.18 L1730.8 184.84 L1732.9 183.79 L1735 185.57 L1737.1 184.43 L1739.2 186.49 L1741.3 187.45 L1743.4 188.26 L1745.5 184.12 L1747.6 190.2 L1749.7 186.95 L1751.8 187.87 L1753.9 187.26 L1756 183.86 L1758.1 190.11 L1760.2 185.27 L1762.3 193.06 L1764.4 190.58 L1766.5 194.7 L1768.6 192.44 L1770.7 192.61 L1772.8 194.41 L1774.9 190.65 L1777 194.71 L1779.1 190.39 L1781.2 191.43 L1783.3 189.13 L1785.4 192.49 L1787.5 193.12 L1789.6 190.49 L1791.7 188.95 L1793.8 192.67 L1795.9 194.37 L1798 193.37 L1800.1 191.72 L1802.2 192.78 L1804.3 194.26 L1806.4 189.4 L1808.5 193.75 L1810.6 199.04 L1812.7 191.99 L1814.8 194.71 L1816.9 199.58 L1819 196.97 L1821.1 197.46 L1823.2 194.66" stroke="#000" stroke-width="3.9"/>
<path d="M1431.8 346.58 L1433.2 346.55 L1434.6 346.44 L1436 346.9 L1437.4 346.42 L1438.8 346.74 L1440.2 347.01 L1441.6 346.55 L1443 346.86 L1444.4 346.92 L1445.8 346.6 L1447.2 346.81 L1448.6 347.02 L1450 346.87 L1451.4 347.03 L1452.8 346.69 L1454.2 346.73 L1455.6 346.65 L1457 346.88 L1458.4 347.11 L1459.8 346.9 L1461.2 346.99 L1462.6 346.73 L1464 346.92 L1465.4 346.5 L1466.8 346.58 L1468.2 346.77 L1469.6 346.75 L1471 346.51 L1472.4 346.25 L1473.8 346.29 L1475.2 346.18 L1476.6 346.14 L1478 346.37 L1479.4 345.91 L1480.8 346.22 L1482.2 346.11 L1483.6 345.5 L1485 345.59 L1486.4 345.54 L1487.8 345.13 L1489.2 345.23 L1490.6 345.35 L1492 344.69 L1493.4 344.76 L1494.8 344.23 L1496.2 344.26 L1497.6 344.16 L1499 343.37 L1500.4 342.77 L1501.8 342.17 L1503.2 341.64 L1504.6 340.4 L1506 339.46 L1507.4 338.72 L1508.8 337.97 L1510.2 336.63 L1511.6 335.5 L1513 334.45 L1514.4 332.74 L1515.8 331.4 L1517.2 329.58 L1518.6 328.55 L1520 327.69 L1521.4 326.2 L1522.8 325.63 L1524.2 324.88 L1525.6 324.08 L1527 323.94 L1528.4 324.64 L1529.8 325.31 L1531.2 325.67 L1532.6 327.12 L1534 328.59 L1535.4 329.61 L1536.8 331.36 L1538.2 332.64 L1539.6 334.45 L1541 336.1 L1542.4 337.34 L1543.8 338.6 L1545.2 339.2 L1546.6 340.2 L1548 341.14 L1549.4 341.41 L1550.8 341.63 L1552.2 341.8 L1553.6 342.28 L1555 342.11 L1556.4 341.82 L1557.8 342.3 L1559.2 341.99 L1560.6 342 L1562 341.79 L1563.4 341.84 L1564.8 341.66 L1566.2 341.4 L1567.6 341.59 L1569 341.11 L1570.4 341.35 L1571.8 340.7 L1573.2 340.95 L1574.6 340.72 L1576 340.24 L1577.4 340.02 L1578.8 339.37 L1580.2 339.25 L1581.6 338.57 L1583 337.84 L1584.4 337.59 L1585.8 336.44 L1587.2 335.33 L1588.6 334.1 L1590 331.77 L1591.4 329.38 L1592.8 325.96 L1594.2 322.63 L1595.6 317.47 L1597 311.11 L1598.4 304.48 L1599.8 296.48 L1601.2 289 L1602.6 280.49 L1604 270.25 L1605.4 260.08 L1606.8 251.36 L1608.2 243.49 L1609.6 236.58 L1611 232 L1612.4 229.79 L1613.8 229.1 L1615.2 229.78 L1616.6 234.1 L1618 242.45 L1619.4 254.31 L1620.8 268.04 L1622.2 282.66 L1623.6 297.35 L1625 307.52 L1626.4 314.65 L1627.8 320.76 L1629.2 324.75 L1630.6 327.52 L1632 328.8 L1633.4 330.51 L1634.8 331.52 L1636.2 332.39 L1637.6 332.83 L1639 333.18 L1640.4 333.68 L1641.8 334.46 L1643.2 334.67 L1644.6 335.27 L1646 335.16 L1647.4 335.73 L1648.8 335.52 L1650.2 335.48 L1651.6 335.66 L1653 335.91 L1654.4 336.07 L1655.8 336.09 L1657.2 336.09 L1658.6 336.41 L1660 336.83 L1661.4 336.72 L1662.8 337.11 L1664.2 336.71 L1665.6 337.43 L1667 337.52 L1668.4 337.47 L1669.8 337.63 L1671.2 337.83 L1672.6 338.25 L1674 337.94 L1675.4 338.47 L1676.8 338.59 L1678.2 338.6 L1679.6 338.98 L1681 339.08 L1682.4 338.77 L1683.8 339.17 L1685.2 339.03 L1686.6 339.04 L1688 339.09 L1689.4 338.68 L1690.8 338.92 L1692.2 338.57 L1693.6 338.59 L1695 337.93 L1696.4 338.11 L1697.8 338.05 L1699.2 338.34 L1700.6 339.27 L1702 339.76 L1703.4 341.15 L1704.8 342.12 L1706.2 342.92 L1707.6 343.39 L1709 343.72 L1710.4 344.24 L1711.8 344.88 L1713.2 344.97 L1714.6 345.19 L1716 345.6 L1717.4 345.84 L1718.8 345.98 L1720.2 345.73 L1721.6 346.2 L1723 345.92 L1724.4 346.15 L1725.8 345.64 L1727.2 346.17 L1728.6 345.9 L1730 346.06 L1731.4 345.99 L1732.8 345.8 L1734.2 345.27 L1735.6 345.3 L1737 345.08 L1738.4 345.22 L1739.8 344.68 L1741.2 344.54 L1742.6 344.38 L1744 344.39 L1745.4 345.01 L1746.8 345.26 L1748.2 345.16 L1749.6 345.72 L1751 345.95 L1752.4 346.38 L1753.8 346.67 L1755.2 347.13 L1756.6 347.11 L1758 347.3 L1759.4 347.6 L1760.8 347.53 L1762.2 347.78 L1763.6 348.18 L1765 347.71 L1766.4 347.85 L1767.8 348.34 L1769.2 347.96 L1770.6 348.13 L1772 348.54 L1773.4 348.42 L1774.8 348.22 L1776.2 348.14 L1777.6 348.29 L1779 348.31 L1780.4 348.62 L1781.8 348.72 L1783.2 348.61 L1784.6 348.68 L1786 348.69 L1787.4 348.65 L1788.8 348.67 L1790.2 348.69 L1791.6 348.16 L1793 348.29 L1794.4 348.25 L1795.8 348.46 L1797.2 348.4 L1798.6 348.31 L1800 348.6 L1801.4 348.34 L1802.8 348.23 L1804.2 348.27 L1805.6 348.38 L1807 348.47 L1808.4 348.44 L1809.8 348.36 L1811.2 348.21 L1812.6 348.34" stroke="#6a0fd6" stroke-width="2.5"/>
</g>
<text transform="translate(1343.22 26.74) scale(1.0000 1)" font-size="25.63" fill="#000" font-family='"Liberation Sans", sans-serif' stroke="#000" stroke-width="0.35">770</text>
<text transform="translate(1343.22 82.14) scale(1.0000 1)" font-size="25.63" fill="#000" font-family='"Liberation Sans", sans-serif' stroke="#000" stroke-width="0.35">750</text>
<text transform="translate(1343.22 137.74) scale(1.0000 1)" font-size="25.63" fill="#000" font-family='"Liberation Sans", sans-serif' stroke="#000" stroke-width="0.35">730</text>
<text transform="translate(1343.22 192.74) scale(1.0000 1)" font-size="25.63" fill="#000" font-family='"Liberation Sans", sans-serif' stroke="#000" stroke-width="0.35">710</text>
<text transform="translate(1343.22 290.34) scale(1.0000 1)" font-size="25.63" fill="#000" font-family='"Liberation Sans", sans-serif' stroke="#000" stroke-width="0.35">250</text>
<text transform="translate(1343.22 358.44) scale(1.0000 1)" font-size="25.63" fill="#000" font-family='"Liberation Sans", sans-serif' stroke="#000" stroke-width="0.35">200</text>
<text transform="translate(1401.35 409.64) scale(0.9993 1)" font-size="25.63" fill="#000" font-family='"Liberation Sans", sans-serif' stroke="#000" stroke-width="0.35">-3100</text>
<text transform="translate(1506.65 409.64) scale(0.9993 1)" font-size="25.63" fill="#000" font-family='"Liberation Sans", sans-serif' stroke="#000" stroke-width="0.35">-3000</text>
<text transform="translate(1611.35 409.64) scale(0.9993 1)" font-size="25.63" fill="#000" font-family='"Liberation Sans", sans-serif' stroke="#000" stroke-width="0.35">-2900</text>
<text transform="translate(1716.65 409.64) scale(0.9993 1)" font-size="25.63" fill="#000" font-family='"Liberation Sans", sans-serif' stroke="#000" stroke-width="0.35">-2800</text>
<text transform="translate(1511.78 450.92) scale(1.0029 1)" font-size="25.13" fill="#000" font-family='"Liberation Sans", sans-serif' stroke="#000" stroke-width="0.35"><tspan x="0" y="0">Raman Shift (cm</tspan><tspan x="188.16" y="-17.3" font-size="15.58">-1</tspan><tspan x="205.21" y="0">)</tspan></text>
<text transform="translate(1317.41 260.4) rotate(-90) scale(0.9940 1)" font-size="25.67" fill="#000" font-family='"Liberation Sans", sans-serif' stroke="#000" stroke-width="0.35">Intensity (a.u.)</text>
<text transform="translate(1655.5 24.28) scale(1.0345 1)" font-size="28.66" fill="#ee1111" font-family='"Liberation Sans", sans-serif'>Avg spectrum (x2)</text>
<text transform="translate(1657.83 58.43) scale(1.0403 1)" font-size="28.45" fill="#000" font-family='"Liberation Sans", sans-serif' stroke="#000" stroke-width="0.35">Max intensity pixel</text>
<text transform="translate(1670.33 272.71) scale(1.0313 1)" font-size="28.71" fill="#6a2ea6" font-family='"Liberation Sans", sans-serif'>Raman reference</text>
<g id="panelD" fill="none" stroke-linejoin="round" stroke-linecap="butt">
<line x1="130.7" y1="507" x2="130.7" y2="640.6" stroke="#000" stroke-width="2.3"/>
<line x1="130.7" y1="664.3" x2="130.7" y2="794.5" stroke="#000" stroke-width="2.3"/>
<line x1="129" y1="803.5" x2="537.9" y2="803.5" stroke="#000" stroke-width="2.6"/>
<line x1="113.3" y1="517.1" x2="130.7" y2="517.1" stroke="#000" stroke-width="2.3"/>
<line x1="113.3" y1="573.1" x2="130.7" y2="573.1" stroke="#000" stroke-width="2.3"/>
<line x1="113.3" y1="629.2" x2="130.7" y2="629.2" stroke="#000" stroke-width="2.3"/>
<line x1="113.3" y1="694.6" x2="130.7" y2="694.6" stroke="#000" stroke-width="2.3"/>
<line x1="113.3" y1="732.8" x2="130.7" y2="732.8" stroke="#000" stroke-width="2.3"/>
<line x1="113.3" y1="771.6" x2="130.7" y2="771.6" stroke="#000" stroke-width="2.3"/>
<line x1="163" y1="803.2" x2="163" y2="820.8" stroke="#000" stroke-width="2.3"/>
<line x1="277.6" y1="803.2" x2="277.6" y2="820.8" stroke="#000" stroke-width="2.3"/>
<line x1="392.3" y1="803.2" x2="392.3" y2="820.8" stroke="#000" stroke-width="2.3"/>
<line x1="507" y1="803.2" x2="507" y2="820.8" stroke="#000" stroke-width="2.3"/>
<line x1="220.3" y1="803.2" x2="220.3" y2="812.5" stroke="#000" stroke-width="2.3"/>
<line x1="335" y1="803.2" x2="335" y2="812.5" stroke="#000" stroke-width="2.3"/>
<line x1="449.7" y1="803.2" x2="449.7" y2="812.5" stroke="#000" stroke-width="2.3"/>
<path d="M130.7 618.46 L132.7 614.93 L134.7 618.03 L136.7 623.65 L138.7 620.49 L140.7 620.23 L142.7 613.79 L144.7 616.43 L146.7 620.87 L148.7 621.84 L150.7 612.18 L152.7 618.57 L154.7 626.15 L156.7 620.45 L158.7 622.04 L160.7 624.8 L162.7 613.9 L164.7 620.1 L166.7 622 L168.7 623.96 L170.7 626.74 L172.7 625.57 L174.7 621.27 L176.7 623.7 L178.7 625.48 L180.7 627.13 L182.7 628.09 L184.7 631.72 L186.7 624.23 L188.7 631.77 L190.7 636.32 L192.7 634.76 L194.7 638.18 L196.7 633.24 L198.7 633.58 L200.7 626.45 L202.7 633.09 L204.7 628.71 L206.7 623.59 L208.7 616.55 L210.7 607.72 L212.7 599.38 L214.7 588.12 L216.7 580.19 L218.7 565.58 L220.7 552.01 L222.7 540.48 L224.7 529.91 L226.7 523.62 L228.7 511.92 L230.7 509.85 L232.7 503.97 L234.7 505.34 L236.7 507.46 L238.7 509.04 L240.7 516.66 L242.7 523.26 L244.7 529.39 L246.7 539.09 L248.7 546.49 L250.7 553 L252.7 559.96 L254.7 558.88 L256.7 576.71 L258.7 580.23 L260.7 583.21 L262.7 584.04 L264.7 579.84 L266.7 588.03 L268.7 587.57 L270.7 587.16 L272.7 587.31 L274.7 589.09 L276.7 591.74 L278.7 595.15 L280.7 586.02 L282.7 597.31 L284.7 590.73 L286.7 592.75 L288.7 593.81 L290.7 589.52 L292.7 596.09 L294.7 596.04 L296.7 595.8 L298.7 598.4 L300.7 597.52 L302.7 599.26 L304.7 597.53 L306.7 595.81 L308.7 601.29 L310.7 600.62 L312.7 598.51 L314.7 599.6 L316.7 605.81 L318.7 602.27 L320.7 601.91 L322.7 608.57 L324.7 602.76 L326.7 602.17 L328.7 605.8 L330.7 595.77 L332.7 608.83 L334.7 601.87 L336.7 598.96 L338.7 600.94 L340.7 603.92 L342.7 604.82 L344.7 603.04 L346.7 602.65 L348.7 602.99 L350.7 604.52 L352.7 608.81 L354.7 607.17 L356.7 609.76 L358.7 606.55 L360.7 606.46 L362.7 607.25 L364.7 607.63 L366.7 609.49 L368.7 604.25 L370.7 604.65 L372.7 602.21 L374.7 611.36 L376.7 614.31 L378.7 605.02 L380.7 610.19 L382.7 603.06 L384.7 608.48 L386.7 608.5 L388.7 606.3 L390.7 610.11 L392.7 605.66 L394.7 608.72 L396.7 615.28 L398.7 613.39 L400.7 604.58 L402.7 606.1 L404.7 615.73 L406.7 610.88 L408.7 602.27 L410.7 610.16 L412.7 602.52 L414.7 604.73 L416.7 610.85 L418.7 611 L420.7 606.54 L422.7 607.26 L424.7 610.53 L426.7 612.86 L428.7 608.58 L430.7 610.92 L432.7 607.04 L434.7 610.56 L436.7 608.79 L438.7 615.81 L440.7 614.02 L442.7 613.74 L444.7 614.42 L446.7 612.39 L448.7 611.34 L450.7 616.1 L452.7 610.37 L454.7 608.32 L456.7 611.12 L458.7 613.7 L460.7 613.44 L462.7 612.56 L464.7 609.31 L466.7 609.81 L468.7 609.19 L470.7 613.66 L472.7 615.92 L474.7 615.29 L476.7 614.11 L478.7 610.01 L480.7 614.17 L482.7 616.06 L484.7 614.51 L486.7 614.65 L488.7 613.94 L490.7 611.05 L492.7 616.74 L494.7 616.18 L496.7 614.94 L498.7 615.87 L500.7 614.22 L502.7 608.82 L504.7 621.41 L506.7 617.22 L508.7 615.58 L510.7 617.56 L512.7 616.92 L514.7 617.21 L516.7 616.3 L518.7 618.59 L520.7 611.8 L522.7 620.71 L524.7 610.91 L526.7 613.9 L528.7 613.61 L530.7 613.61 L532.7 617.07 L534.7 622.14 L536.7 620.34" stroke="#000" stroke-width="4.6"/>
<path d="M130.7 619.4 L132.2 619.43 L133.7 619.46 L135.2 619.48 L136.7 619.51 L138.2 619.55 L139.7 619.59 L141.2 619.64 L142.7 619.7 L144.2 619.77 L145.7 619.85 L147.2 619.95 L148.7 620.06 L150.2 620.18 L151.7 620.31 L153.2 620.44 L154.7 620.59 L156.2 620.76 L157.7 620.96 L159.2 621.18 L160.7 621.42 L162.2 621.68 L163.7 621.97 L165.2 622.29 L166.7 622.65 L168.2 623.05 L169.7 623.49 L171.2 623.96 L172.7 624.47 L174.2 625.01 L175.7 625.57 L177.2 626.17 L178.7 626.81 L180.2 627.48 L181.7 628.16 L183.2 628.87 L184.7 629.62 L186.2 630.39 L187.7 631.15 L189.2 631.92 L190.7 632.69 L192.2 633.47 L193.7 634.26 L195.2 634.99 L196.7 635.63 L198.2 635.77 L199.7 635.19 L201.2 633.97 L202.7 631.95 L204.2 629.49 L205.7 626.17 L207.2 621.91 L208.7 617.26 L210.2 612.06 L211.7 605.87 L213.2 599 L214.7 592.04 L216.2 584.23 L217.7 574.75 L219.2 564.65 L220.7 554.02 L222.2 544.62 L223.7 536.68 L225.2 529.63 L226.7 523.48 L228.2 518.22 L229.7 513.8 L231.2 510.77 L232.7 508.76 L234.2 508.14 L235.7 508.38 L237.2 510.13 L238.7 512.94 L240.2 516.63 L241.7 521.35 L243.2 526.77 L244.7 532.47 L246.2 538.51 L247.7 544.6 L249.2 550.28 L250.7 555.7 L252.2 560.38 L253.7 564.32 L255.2 567.88 L256.7 571.15 L258.2 574.19 L259.7 576.99 L261.2 579.53 L262.7 581.8 L264.2 583.79 L265.7 585.47 L267.2 586.89 L268.7 588.12 L270.2 589.18 L271.7 589.99 L273.2 590.66 L274.7 591.31 L276.2 591.98 L277.7 592.61 L279.2 593.2 L280.7 593.73 L282.2 594.22 L283.7 594.69 L285.2 595.14 L286.7 595.57 L288.2 596 L289.7 596.42 L291.2 596.84 L292.7 597.26 L294.2 597.68 L295.7 598.08 L297.2 598.47 L298.7 598.82 L300.2 599.15 L301.7 599.46 L303.2 599.76 L304.7 600.05 L306.2 600.33 L307.7 600.6 L309.2 600.87 L310.7 601.13 L312.2 601.38 L313.7 601.63 L315.2 601.88 L316.7 602.12 L318.2 602.35 L319.7 602.58 L321.2 602.8 L322.7 603.01 L324.2 603.22 L325.7 603.43 L327.2 603.64 L328.7 603.85 L330.2 604.06 L331.7 604.27 L333.2 604.48 L334.7 604.69 L336.2 604.91 L337.7 605.12 L339.2 605.34 L340.7 605.55 L342.2 605.76 L343.7 605.97 L345.2 606.18 L346.7 606.38 L348.2 606.58 L349.7 606.77 L351.2 606.96 L352.7 607.14 L354.2 607.31 L355.7 607.48 L357.2 607.64 L358.7 607.79 L360.2 607.94 L361.7 608.08 L363.2 608.22 L364.7 608.36 L366.2 608.49 L367.7 608.61 L369.2 608.74 L370.7 608.86 L372.2 608.98 L373.7 609.1 L375.2 609.21 L376.7 609.33 L378.2 609.44 L379.7 609.55 L381.2 609.67 L382.7 609.78 L384.2 609.88 L385.7 609.99 L387.2 610.09 L388.7 610.19 L390.2 610.28 L391.7 610.38 L393.2 610.47 L394.7 610.56 L396.2 610.66 L397.7 610.75 L399.2 610.84 L400.7 610.93 L402.2 611.02 L403.7 611.12 L405.2 611.21 L406.7 611.31 L408.2 611.4 L409.7 611.49 L411.2 611.59 L412.7 611.68 L414.2 611.77 L415.7 611.86 L417.2 611.95 L418.7 612.04 L420.2 612.14 L421.7 612.23 L423.2 612.32 L424.7 612.42 L426.2 612.52 L427.7 612.61 L429.2 612.71 L430.7 612.81 L432.2 612.92 L433.7 613.02 L435.2 613.13 L436.7 613.24 L438.2 613.35 L439.7 613.46 L441.2 613.57 L442.7 613.68 L444.2 613.8 L445.7 613.91 L447.2 614.02 L448.7 614.14 L450.2 614.25 L451.7 614.36 L453.2 614.47 L454.7 614.58 L456.2 614.69 L457.7 614.79 L459.2 614.9 L460.7 615.01 L462.2 615.11 L463.7 615.22 L465.2 615.32 L466.7 615.43 L468.2 615.53 L469.7 615.64 L471.2 615.74 L472.7 615.84 L474.2 615.95 L475.7 616.05 L477.2 616.16 L478.7 616.27 L480.2 616.37 L481.7 616.48 L483.2 616.58 L484.7 616.69 L486.2 616.8 L487.7 616.9 L489.2 617.01 L490.7 617.12 L492.2 617.23 L493.7 617.33 L495.2 617.44 L496.7 617.55 L498.2 617.65 L499.7 617.76 L501.2 617.87 L502.7 617.98 L504.2 618.08 L505.7 618.19 L507.2 618.3 L508.7 618.41 L510.2 618.51 L511.7 618.62 L513.2 618.73 L514.7 618.84 L516.2 618.95 L517.7 619.05 L519.2 619.16 L520.7 619.27 L522.2 619.38 L523.7 619.48 L525.2 619.59 L526.7 619.7 L528.2 619.81 L529.7 619.92 L531.2 620.02 L532.7 620.13 L534.2 620.24 L535.7 620.35 L537.2 620.46" stroke="#f7a81e" stroke-width="2.4"/>
<path d="M130.7 753.5 L133.7 753.22 L136.7 752.94 L139.7 752.66 L142.7 752.38 L145.7 752.09 L148.7 751.82 L151.7 751.54 L154.7 751.27 L157.7 751 L160.7 750.74 L163.7 750.49 L166.7 750.24 L169.7 749.99 L172.7 749.75 L175.7 749.51 L178.7 749.27 L181.7 749.04 L184.7 748.81 L187.7 748.58 L190.7 748.35 L193.7 748.12 L196.7 747.89 L199.7 747.68 L202.7 747.47 L205.7 747.27 L208.7 747.09 L211.7 746.92 L214.7 746.75 L217.7 746.58 L220.7 746.43 L223.7 746.28 L226.7 746.14 L229.7 746.01 L232.7 745.89 L235.7 745.78 L238.7 745.68 L241.7 745.59 L244.7 745.5 L247.7 745.41 L250.7 745.33 L253.7 745.25 L256.7 745.18 L259.7 745.1 L262.7 745.03 L265.7 744.96 L268.7 744.9 L271.7 744.84 L274.7 744.78 L277.7 744.73 L280.7 744.69 L283.7 744.65 L286.7 744.61 L289.7 744.58 L292.7 744.55 L295.7 744.52 L298.7 744.51 L301.7 744.5 L304.7 744.5 L307.7 744.51 L310.7 744.52 L313.7 744.55 L316.7 744.58 L319.7 744.62 L322.7 744.66 L325.7 744.71 L328.7 744.77 L331.7 744.84 L334.7 744.91 L337.7 745 L340.7 745.09 L343.7 745.18 L346.7 745.29 L349.7 745.4 L352.7 745.51 L355.7 745.63 L358.7 745.75 L361.7 745.88 L364.7 746.02 L367.7 746.16 L370.7 746.3 L373.7 746.45 L376.7 746.61 L379.7 746.77 L382.7 746.93 L385.7 747.1 L388.7 747.27 L391.7 747.45 L394.7 747.63 L397.7 747.82 L400.7 748.01 L403.7 748.21 L406.7 748.41 L409.7 748.62 L412.7 748.82 L415.7 749.03 L418.7 749.25 L421.7 749.47 L424.7 749.71 L427.7 749.96 L430.7 750.22 L433.7 750.5 L436.7 750.8 L439.7 751.11 L442.7 751.43 L445.7 751.76 L448.7 752.09 L451.7 752.43 L454.7 752.77 L457.7 753.1 L460.7 753.45 L463.7 753.8 L466.7 754.15 L469.7 754.51 L472.7 754.87 L475.7 755.22 L478.7 755.58 L481.7 755.93 L484.7 756.28 L487.7 756.63 L490.7 756.98 L493.7 757.32 L496.7 757.67 L499.7 758.02 L502.7 758.37 L505.7 758.71 L508.7 759.05 L511.7 759.39 L514.7 759.73 L517.7 760.07 L520.7 760.4 L523.7 760.74 L526.7 761.07 L529.7 761.4 L532.7 761.73 L535.7 762.07" stroke="#0e960e" stroke-width="4.2"/>
<path d="M130.7 789.78 L131.9 789.69 L133.1 789.6 L134.3 789.5 L135.5 789.4 L136.7 789.3 L137.9 789.2 L139.1 789.09 L140.3 788.97 L141.5 788.85 L142.7 788.73 L143.9 788.61 L145.1 788.47 L146.3 788.34 L147.5 788.19 L148.7 788.04 L149.9 787.89 L151.1 787.73 L152.3 787.56 L153.5 787.38 L154.7 787.2 L155.9 787.01 L157.1 786.81 L158.3 786.6 L159.5 786.38 L160.7 786.15 L161.9 785.91 L163.1 785.66 L164.3 785.4 L165.5 785.12 L166.7 784.84 L167.9 784.53 L169.1 784.21 L170.3 783.87 L171.5 783.52 L172.7 783.14 L173.9 782.75 L175.1 782.33 L176.3 781.89 L177.5 781.43 L178.7 780.93 L179.9 780.41 L181.1 779.86 L182.3 779.27 L183.5 778.64 L184.7 777.98 L185.9 777.27 L187.1 776.51 L188.3 775.71 L189.5 774.84 L190.7 773.92 L191.9 772.94 L193.1 771.88 L194.3 770.74 L195.5 769.52 L196.7 768.21 L197.9 766.8 L199.1 765.28 L200.3 763.63 L201.5 761.86 L202.7 759.94 L203.9 757.87 L205.1 755.62 L206.3 753.19 L207.5 750.55 L208.7 747.7 L209.9 744.61 L211.1 741.26 L212.3 737.65 L213.5 733.75 L214.7 729.56 L215.9 725.07 L217.1 720.28 L218.3 715.21 L219.5 709.87 L220.7 704.32 L221.9 698.62 L223.1 692.86 L224.3 687.15 L225.5 681.64 L226.7 676.51 L227.9 671.92 L229.1 668.08 L230.3 665.16 L231.5 663.3 L232.7 662.6 L233.9 663.1 L235.1 664.78 L236.3 667.53 L237.5 671.23 L238.7 675.7 L239.9 680.76 L241.1 686.21 L242.3 691.9 L243.5 697.66 L244.7 703.38 L245.9 708.96 L247.1 714.34 L248.3 719.46 L249.5 724.3 L250.7 728.84 L251.9 733.08 L253.1 737.02 L254.3 740.68 L255.5 744.07 L256.7 747.2 L257.9 750.09 L259.1 752.76 L260.3 755.23 L261.5 757.5 L262.7 759.61 L263.9 761.55 L265.1 763.35 L266.3 765.01 L267.5 766.55 L268.7 767.98 L269.9 769.31 L271.1 770.55 L272.3 771.69 L273.5 772.76 L274.7 773.76 L275.9 774.69 L277.1 775.57 L278.3 776.38 L279.5 777.15 L280.7 777.86 L281.9 778.53 L283.1 779.17 L284.3 779.76 L285.5 780.32 L286.7 780.85 L287.9 781.35 L289.1 781.82 L290.3 782.26 L291.5 782.68 L292.7 783.08 L293.9 783.46 L295.1 783.82 L296.3 784.16 L297.5 784.48 L298.7 784.79 L299.9 785.08 L301.1 785.36 L302.3 785.62 L303.5 785.87 L304.7 786.11 L305.9 786.34 L307.1 786.56 L308.3 786.78 L309.5 786.98 L310.7 787.17 L311.9 787.35 L313.1 787.53 L314.3 787.7 L315.5 787.86 L316.7 788.02 L317.9 788.17 L319.1 788.31 L320.3 788.45 L321.5 788.58 L322.7 788.71 L323.9 788.83 L325.1 788.95 L326.3 789.07 L327.5 789.18 L328.7 789.28 L329.9 789.39 L331.1 789.49 L332.3 789.58 L333.5 789.67 L334.7 789.76 L335.9 789.85 L337.1 789.93 L338.3 790.01 L339.5 790.09 L340.7 790.17 L341.9 790.24 L343.1 790.31 L344.3 790.38 L345.5 790.45 L346.7 790.51 L347.9 790.57 L349.1 790.63 L350.3 790.69 L351.5 790.75 L352.7 790.81 L353.9 790.86 L355.1 790.91 L356.3 790.96 L357.5 791.01 L358.7 791.06 L359.9 791.11 L361.1 791.15 L362.3 791.2 L363.5 791.24 L364.7 791.28 L365.9 791.32 L367.1 791.36 L368.3 791.4 L369.5 791.44 L370.7 791.48 L371.9 791.51 L373.1 791.55 L374.3 791.58 L375.5 791.62 L376.7 791.65 L377.9 791.68 L379.1 791.71 L380.3 791.74 L381.5 791.77 L382.7 791.8 L383.9 791.83 L385.1 791.85 L386.3 791.88 L387.5 791.91 L388.7 791.93 L389.9 791.96 L391.1 791.98 L392.3 792.01 L393.5 792.03 L394.7 792.05 L395.9 792.08 L397.1 792.1 L398.3 792.12 L399.5 792.14 L400.7 792.16 L401.9 792.18 L403.1 792.2 L404.3 792.22 L405.5 792.24 L406.7 792.26 L407.9 792.27 L409.1 792.29 L410.3 792.31 L411.5 792.33 L412.7 792.34 L413.9 792.36 L415.1 792.38 L416.3 792.39 L417.5 792.41 L418.7 792.42 L419.9 792.44 L421.1 792.45 L422.3 792.47 L423.5 792.48 L424.7 792.49 L425.9 792.51 L427.1 792.52 L428.3 792.53 L429.5 792.55 L430.7 792.56 L431.9 792.57 L433.1 792.58 L434.3 792.6 L435.5 792.61 L436.7 792.62 L437.9 792.63 L439.1 792.64 L440.3 792.65 L441.5 792.66 L442.7 792.68 L443.9 792.69 L445.1 792.7 L446.3 792.71 L447.5 792.72 L448.7 792.73 L449.9 792.73 L451.1 792.74 L452.3 792.75 L453.5 792.76 L454.7 792.77 L455.9 792.78 L457.1 792.79 L458.3 792.8 L459.5 792.81 L460.7 792.81 L461.9 792.82 L463.1 792.83 L464.3 792.84 L465.5 792.85 L466.7 792.85 L467.9 792.86 L469.1 792.87 L470.3 792.88 L471.5 792.88 L472.7 792.89 L473.9 792.9 L475.1 792.9 L476.3 792.91 L477.5 792.92 L478.7 792.92 L479.9 792.93 L481.1 792.94 L482.3 792.94 L483.5 792.95 L484.7 792.96 L485.9 792.96 L487.1 792.97 L488.3 792.97 L489.5 792.98 L490.7 792.99 L491.9 792.99 L493.1 793 L494.3 793 L495.5 793.01 L496.7 793.01 L497.9 793.02 L499.1 793.02 L500.3 793.03 L501.5 793.03 L502.7 793.04 L503.9 793.04 L505.1 793.05 L506.3 793.05 L507.5 793.06 L508.7 793.06 L509.9 793.07 L511.1 793.07 L512.3 793.08 L513.5 793.08 L514.7 793.09 L515.9 793.09 L517.1 793.09 L518.3 793.1 L519.5 793.1 L520.7 793.11 L521.9 793.11 L523.1 793.11 L524.3 793.12 L525.5 793.12 L526.7 793.13 L527.9 793.13 L529.1 793.13 L530.3 793.14 L531.5 793.14 L532.7 793.15 L533.9 793.15 L535.1 793.15 L536.3 793.16 L537.5 793.16" stroke="#0a1c96" stroke-width="4.2"/>
<path d="M130.7 794.2 L133.7 794.19 L136.7 794.18 L139.7 794.17 L142.7 794.16 L145.7 794.16 L148.7 794.15 L151.7 794.15 L154.7 794.14 L157.7 794.13 L160.7 794.12 L163.7 794.11 L166.7 794.1 L169.7 794.08 L172.7 794.06 L175.7 794.04 L178.7 794.01 L181.7 793.98 L184.7 793.95 L187.7 793.92 L190.7 793.88 L193.7 793.85 L196.7 793.81 L199.7 793.77 L202.7 793.73 L205.7 793.68 L208.7 793.63 L211.7 793.58 L214.7 793.53 L217.7 793.47 L220.7 793.41 L223.7 793.35 L226.7 793.28 L229.7 793.21 L232.7 793.13 L235.7 793.03 L238.7 792.92 L241.7 792.81 L244.7 792.68 L247.7 792.55 L250.7 792.42 L253.7 792.28 L256.7 792.15 L259.7 792.01 L262.7 791.88 L265.7 791.72 L268.7 791.57 L271.7 791.41 L274.7 791.25 L277.7 791.1 L280.7 790.97 L283.7 790.85 L286.7 790.75 L289.7 790.7 L292.7 790.71 L295.7 790.76 L298.7 790.85 L301.7 790.98 L304.7 791.13 L307.7 791.29 L310.7 791.47 L313.7 791.64 L316.7 791.82 L319.7 791.98 L322.7 792.15 L325.7 792.32 L328.7 792.49 L331.7 792.67 L334.7 792.83 L337.7 792.99 L340.7 793.13 L343.7 793.25 L346.7 793.36 L349.7 793.45 L352.7 793.54 L355.7 793.62 L358.7 793.69 L361.7 793.76 L364.7 793.82 L367.7 793.87 L370.7 793.92 L373.7 793.95 L376.7 793.98 L379.7 794 L382.7 794.01 L385.7 794.03 L388.7 794.04 L391.7 794.05 L394.7 794.06 L397.7 794.07 L400.7 794.08 L403.7 794.09 L406.7 794.1 L409.7 794.1 L412.7 794.11 L415.7 794.12 L418.7 794.12 L421.7 794.13 L424.7 794.13 L427.7 794.14 L430.7 794.14 L433.7 794.15 L436.7 794.15 L439.7 794.15 L442.7 794.16 L445.7 794.16 L448.7 794.16 L451.7 794.16 L454.7 794.17 L457.7 794.17 L460.7 794.17 L463.7 794.17 L466.7 794.17 L469.7 794.17 L472.7 794.17 L475.7 794.17 L478.7 794.17 L481.7 794.17 L484.7 794.17 L487.7 794.17 L490.7 794.17 L493.7 794.17 L496.7 794.17 L499.7 794.18 L502.7 794.18 L505.7 794.18 L508.7 794.18 L511.7 794.18 L514.7 794.18 L517.7 794.18 L520.7 794.18 L523.7 794.19 L526.7 794.19 L529.7 794.19 L532.7 794.19 L535.7 794.2" stroke="#fb0a10" stroke-width="4.2"/>
</g>
<text transform="translate(63.2 525.68) scale(1.0751 1)" font-size="22.25" fill="#000" font-family='"Liberation Sans", sans-serif' stroke="#000" stroke-width="0.35">740</text>
<text transform="translate(63.2 581.88) scale(1.0751 1)" font-size="22.25" fill="#000" font-family='"Liberation Sans", sans-serif' stroke="#000" stroke-width="0.35">720</text>
<text transform="translate(63.2 637.98) scale(1.0751 1)" font-size="22.25" fill="#000" font-family='"Liberation Sans", sans-serif' stroke="#000" stroke-width="0.35">700</text>
<text transform="translate(63.2 702.08) scale(1.0751 1)" font-size="22.25" fill="#000" font-family='"Liberation Sans", sans-serif' stroke="#000" stroke-width="0.35">720</text>
<text transform="translate(63.2 740.68) scale(1.0751 1)" font-size="22.25" fill="#000" font-family='"Liberation Sans", sans-serif' stroke="#000" stroke-width="0.35">710</text>
<text transform="translate(63.2 779.28) scale(1.0751 1)" font-size="22.25" fill="#000" font-family='"Liberation Sans", sans-serif' stroke="#000" stroke-width="0.35">700</text>
<text transform="translate(131.19 849.78) scale(1.1039 1)" font-size="22.25" fill="#000" font-family='"Liberation Sans", sans-serif' stroke="#000" stroke-width="0.35">-3000</text>
<text transform="translate(246.19 849.78) scale(1.1039 1)" font-size="22.25" fill="#000" font-family='"Liberation Sans", sans-serif' stroke="#000" stroke-width="0.35">-2900</text>
<text transform="translate(360.79 849.78) scale(1.1039 1)" font-size="22.25" fill="#000" font-family='"Liberation Sans", sans-serif' stroke="#000" stroke-width="0.35">-2800</text>
<text transform="translate(475.49 849.78) scale(1.1039 1)" font-size="22.25" fill="#000" font-family='"Liberation Sans", sans-serif' stroke="#000" stroke-width="0.35">-2700</text>
<text transform="translate(231.86 887.76) scale(1.0286 1)" font-size="23.53" fill="#000" font-family='"Liberation Sans", sans-serif' stroke="#000" stroke-width="0.35"><tspan x="0" y="0">Raman Shift (cm</tspan><tspan x="176.01" y="-15.5" font-size="15.06">-1</tspan><tspan x="192" y="0">)</tspan></text>
<text transform="translate(38.95 730.09) rotate(-90) scale(0.9655 1)" font-size="24.06" fill="#000" font-family='"Liberation Sans", sans-serif' stroke="#000" stroke-width="0.35">Intensity (a.u.)</text>
<text transform="translate(485.63 520.02) scale(1.0040 1)" font-size="29.44" fill="#000" font-family='"Liberation Sans", sans-serif' stroke="#000" stroke-width="0.35">Exp</text>
<text transform="translate(485.64 554.91) scale(1.0249 1)" font-size="28.84" fill="#ed7d31" font-family='"Liberation Sans", sans-serif'>Fit</text>
<text transform="translate(328.38 707.93) scale(0.9126 1)" font-size="26.97" fill="#2222e2" font-family='"DejaVu Serif", "Liberation Serif", serif' stroke="#2222e2" stroke-width="0.3" font-style="italic">χ</text>
<text transform="translate(345.84 694.45) scale(1.0231 1)" font-size="20.33" fill="#2222e2" font-family='"DejaVu Serif", "Liberation Serif", serif' stroke="#2222e2" stroke-width="0.3">(3)</text>
<text transform="translate(345 718.18) scale(1.0882 1)" font-size="14.34" fill="#2222e2" font-family='"DejaVu Serif", "Liberation Serif", serif' stroke="#2222e2" stroke-width="0.35" font-style="italic"><tspan x="0" y="0">CH</tspan><tspan x="24.88" y="1.3" font-size="11.47">3</tspan><tspan x="34.58" y="0">;</tspan></text>
<text transform="translate(403.48 707.93) scale(0.9126 1)" font-size="26.97" fill="#e8222c" font-family='"DejaVu Serif", "Liberation Serif", serif' stroke="#e8222c" stroke-width="0.3" font-style="italic">χ</text>
<text transform="translate(420.94 694.45) scale(1.0231 1)" font-size="20.33" fill="#e8222c" font-family='"DejaVu Serif", "Liberation Serif", serif' stroke="#e8222c" stroke-width="0.3">(3)</text>
<text transform="translate(420.1 718.18) scale(1.0882 1)" font-size="14.34" fill="#e8222c" font-family='"DejaVu Serif", "Liberation Serif", serif' stroke="#e8222c" stroke-width="0.35" font-style="italic"><tspan x="0" y="0">CH</tspan><tspan x="24.88" y="1.3" font-size="11.47">2</tspan><tspan x="34.58" y="0">;</tspan></text>
<text transform="translate(477.98 707.93) scale(0.9126 1)" font-size="26.97" fill="#1f8b1f" font-family='"DejaVu Serif", "Liberation Serif", serif' stroke="#1f8b1f" stroke-width="0.3" font-style="italic">χ</text>
<text transform="translate(495.44 694.45) scale(1.0231 1)" font-size="20.33" fill="#1f8b1f" font-family='"DejaVu Serif", "Liberation Serif", serif' stroke="#1f8b1f" stroke-width="0.3">(3)</text>
<text transform="translate(495.63 718.18) scale(1.1563 1)" font-size="14.34" fill="#1f8b1f" font-family='"DejaVu Serif", "Liberation Serif", serif' stroke="#1f8b1f" stroke-width="0.35" font-style="italic"><tspan x="0" y="0">NR</tspan></text>
<g id="panelE" fill="none" stroke-linecap="round">
<path d="M902.5 797.6h0M912.5 800.7h0M993.7 796.5h0M913.1 783.8h0M913.3 798.6h0M1001.2 790.2h0M850.4 796.6h0M978.4 788.8h0M802.2 789h0M844.7 797.1h0M961.1 777h0M852 793.5h0M788.5 795h0M845.5 790.2h0M862.9 794.5h0M1003.3 794.9h0M924.2 786.3h0M885.4 793.9h0M899.3 798.6h0M981.2 792.6h0M978.3 778.1h0M853.3 793.7h0M916.3 796.2h0M870.7 797.1h0M959.7 795.2h0M779.3 796.6h0M911.1 805.5h0M1001.3 803.1h0M978.3 797.3h0M870.9 796.7h0M911.2 790.2h0M887.2 795.3h0M910.2 796.4h0M937.7 787.8h0M892.8 800.5h0M907.4 801.7h0M869.4 792h0M902.7 801.3h0M798.3 802.1h0M968.2 805h0M886.1 803.6h0M901.1 785.5h0M945.1 803.8h0M911.3 800.5h0M942 786h0M866.2 789.3h0M971 793.5h0M897.7 784.3h0M929.7 769.3h0M1018.4 803.1h0M810.3 798.5h0M832.5 800.7h0M856.4 765.9h0M972 784.1h0M1023.5 804.8h0M987.3 802.7h0M942.3 784.7h0M897 763.1h0M902.8 799.7h0M879.1 773.3h0M954.6 799h0M847.3 787.1h0M1010.6 800.1h0M913.1 782.1h0M917.2 789.8h0M838.3 785.7h0M977.9 779.7h0M907.6 802.9h0M843.4 801.5h0M883.6 793.6h0M926.2 804.7h0M809.5 783.1h0M791.5 797.4h0M1013.1 803h0M863.1 772h0M910.9 799.1h0M865.3 789h0M902 782h0M846.4 797.5h0M969.7 802.6h0M832.6 805.4h0M1016.3 805.3h0M836.9 786.4h0M848.7 768h0M943.5 775.8h0M872.9 796.6h0M911.8 788.7h0M967.3 798.9h0M916.6 799.1h0M947.2 796.8h0M850.7 785.1h0M784.8 795h0M869.8 792.4h0M912 772.2h0M901.8 772.6h0M933.7 803.4h0M821.7 776.8h0M902.3 801.5h0M847.8 783.4h0M816.5 784.8h0M955.1 799h0M974.6 792.7h0M906.6 789.9h0M897.1 778.1h0M964.7 804.2h0M905.2 778.5h0M876.9 775.6h0M1011 805.3h0M918.7 766.1h0M971.5 796.5h0M938.9 798.9h0M1014.1 802.8h0M926.3 795.6h0M933.9 803h0M868.1 795.3h0M831.5 801.8h0M922.6 802.6h0M927.9 791.5h0M897.7 776.9h0M889.8 769.4h0M813 782.6h0M866 785h0M877.1 794.2h0M842.7 787.6h0M1006.4 797.7h0M957.3 794.5h0M852.3 793.4h0M908.4 800.1h0M891.8 785.9h0M809 789h0M877.5 792.3h0M1002.9 792.8h0M833 786.2h0M807 789.1h0M952 795h0M822.7 776.4h0M982.5 802h0M955.5 787.5h0M966.6 793.1h0M963.8 775.4h0M790.8 801.6h0M822.5 790h0M895.6 801.3h0M831.4 795h0M873.8 776.5h0M945.4 779.6h0M1023.5 803.4h0M1011.4 802.6h0M830.3 776.6h0M911.2 796.1h0M904.6 782.4h0M836.5 794.1h0M837.5 790h0M985.3 799.3h0M861.6 799.2h0M809.1 805h0M910.2 767.9h0M883.6 774.9h0M819.8 782.5h0M866.4 796.3h0M946.1 803.9h0M927.5 801.5h0M991.2 799.6h0M922.6 779.3h0M954.5 794h0M864.4 799.3h0M955.8 801.9h0M875.4 793.9h0M819.5 803.5h0M863.8 798.8h0M897.2 802h0M917.1 795h0M875.9 780.7h0M947.8 795.9h0M897.7 761.6h0M859.8 799.9h0M897.2 776.8h0M843.1 775h0M910.2 796.8h0M828.3 799.9h0M895.5 770.3h0M933.6 804h0M905.8 782h0M861 794h0M862.5 762h0M801.9 772.5h0M938.5 777.4h0M906.6 785.7h0M949.6 802.7h0M874.3 799.9h0M845.2 802.4h0M909.7 802.9h0M893 786.8h0M878.4 786h0M973.6 789.1h0M934.8 783.9h0M821.8 789.9h0M800.6 796.5h0M936.8 803.4h0M852.1 799.9h0M926.6 791.7h0M858.3 795.5h0M862 786h0M820.5 780.5h0M870.2 781.2h0M905.4 800.4h0M880.4 781.5h0M952 775.5h0M998.2 800.2h0M854.9 802.4h0M781.1 804.3h0M851.8 803.7h0M1021.5 804.9h0M896.2 805.7h0M970.1 782.9h0M877.6 803.2h0M941.8 769h0M874.5 797.9h0M1018.3 806.3h0M833.2 800.6h0M970 788.1h0M947.1 792.4h0M847.6 803.9h0M879.6 800.5h0M921.2 798.9h0M948.8 799.1h0M884.3 763.6h0M964 804.2h0M825.1 800.7h0M953.4 786h0M888.5 798.2h0M874.1 792.5h0M838.8 795.3h0M883.2 777.5h0M877.2 759.6h0M874.6 792.3h0M883.8 790.7h0M850.4 804.8h0M873 772.6h0M855.3 800.4h0M867.7 801.5h0M899.5 805.5h0M896.8 793.8h0M885.4 787.8h0M887.7 777.7h0M935 779.5h0M956.3 804.9h0M902 788.2h0M893.9 792h0M823.6 806.2h0M898.2 805h0M821.9 789.1h0M875.3 800.1h0M916 805.3h0M913.7 792.1h0M947.2 804.6h0M863.1 789.6h0M981.3 803.3h0M1008.8 795h0M840.9 779.1h0M937.8 783.6h0M801.6 783.4h0M891.8 779.9h0M913.9 805.5h0M938.2 794.5h0M860.8 774.3h0M957.1 804.7h0M893.1 804.6h0M832.7 804.5h0M932.5 803.7h0M994.9 790.7h0M915.5 768.3h0M794.9 797.9h0M958.4 798.4h0M895.7 778.3h0M872.1 797.9h0M905.1 770.1h0M910.1 773.4h0M930.9 787.7h0M991.4 791.4h0M896.9 800h0M810.6 796.9h0M916.9 773.9h0M872 798.7h0M937.1 776.6h0M968.6 804.8h0M829.6 795.6h0M947 798.5h0M933.6 797.1h0M935.3 794h0M942.4 794.3h0M900.8 784.5h0M1005.8 800h0M980.4 787.4h0M942 781.8h0M956.2 773h0M922.6 797.6h0M948.3 792.5h0M844.8 805.9h0M985.8 793.5h0M902.8 795.1h0M866.5 772h0M957.2 771.4h0M987.1 794.2h0M947.8 798h0M874.7 783.5h0M946.2 800h0M874.1 804.3h0M879.9 771.4h0M941.9 776.7h0M883.6 764.9h0M834.7 791.5h0M906.7 803.3h0M862.3 765.5h0M952 781.8h0M940.5 804h0M828.1 801.5h0M927 791.2h0M928.1 788.5h0M978.7 795.4h0M923.6 786.7h0M967 791.7h0M1010 799.2h0M910.8 789.9h0M953.4 798.9h0M877.4 798h0M952.8 796.4h0M976.3 798.5h0M958.7 802.3h0M945.3 804.8h0M884.6 768.9h0M942.7 804.3h0M885.9 805h0M1003.7 804.5h0M914 790.8h0M928.2 790.5h0M958.4 793.7h0M949.1 777.4h0M872.8 763.6h0M831 781.4h0M903.5 795.8h0M797.2 804.4h0M846.8 775.3h0M880.3 792.3h0M904.4 806.2h0M900.7 805.2h0M940.2 775.2h0M946.4 778.3h0M847.3 779.8h0M894.3 775.6h0M933 801.6h0M875 794.1h0M976.7 799.2h0M897.4 797.7h0M996.6 794.4h0M924.7 800.8h0M912.9 784.3h0M926.3 785.6h0M875.6 797.4h0M939.2 786.4h0M926.4 788.5h0M828.3 792.2h0M820.5 791.4h0M801.2 801.5h0M861.5 782.8h0M931.8 792.8h0M837.5 767.4h0M848.4 780.4h0M927.7 790.8h0M868.2 768.6h0M925.1 796.1h0M803.4 799.6h0M956.4 795h0M896.9 780.6h0M854.1 803.1h0M934.3 795.9h0M907.1 794.9h0M942.8 788h0M876.6 789.4h0M856.2 795.5h0M848.9 800.9h0M851.4 801.9h0M936 782.8h0M939 789h0M882.1 803.2h0M910.8 793.1h0M888.1 790.7h0M973.1 783.6h0M998.9 805.5h0M847.9 800.2h0M961.4 805.1h0M859.7 778h0M941.9 802.8h0M921.4 803.5h0M924.7 798.5h0M874.3 791.9h0M972.7 787.6h0M1003.2 794.9h0M890.9 778.8h0M905.4 778.7h0M902 797h0M851.7 802.4h0M883.1 784.5h0M867.4 788.4h0M925.4 773.3h0M860.6 785.3h0M870.7 789.6h0M871.1 794.7h0M857.6 798.8h0M913.2 787.5h0M969.9 789.1h0M904 775.4h0M912.7 798.1h0M842.4 777.6h0M866.7 805.1h0M905.5 793h0M954.8 781.1h0M889.5 774.8h0M868.5 774.6h0M944.7 803.1h0M787.6 798.7h0M914 790.2h0M920.6 803.3h0M827 783.4h0M940.6 797.6h0M913.7 795.2h0M895.4 794.1h0M969.8 802.3h0M859.1 805.4h0M949.3 786.7h0M817.5 802.4h0M868.3 790.1h0M888.5 790.5h0M867.9 801.3h0M797.5 802.5h0M932.3 776.1h0M789 803.7h0M823.2 802.3h0M847.9 769.5h0M874.2 799.7h0M919.5 796.8h0M869.1 782.6h0M960.4 804h0M920.4 805.8h0M814.4 803h0M891.1 794.6h0M857.6 796.9h0M994.3 801.9h0M959.7 800.2h0M809.9 783.6h0M938.1 790.8h0M810.2 796.7h0M835.1 789h0M959.5 793.3h0M957.6 805.7h0M923.7 800h0M860.3 789.1h0M961.4 795h0M1002.7 803.5h0M917.9 780.5h0M948.3 804.1h0M926.2 791.4h0M983.5 797.8h0M825.2 800.8h0M941.5 804h0M991.6 806.2h0M890.4 805.8h0M915.4 792.5h0M863.2 805.5h0M986.8 798.4h0M821.4 804.8h0M934 790.4h0M865.3 787.8h0M928.1 770.3h0M925.5 800.7h0M872.2 787.7h0M912.1 788.2h0M946.7 768.3h0M933.7 795.9h0M958.5 785.9h0M970.7 784.2h0M834.4 778.2h0M913.6 784.9h0M844.3 778.2h0M837.7 805.5h0M984.9 800.7h0M886.2 798.8h0M807.3 772.4h0M852.1 784.2h0M953.7 795h0M948.2 798.3h0M985.5 778h0M818.6 776h0M885.1 784.2h0M975.7 786.5h0M888.5 779.4h0M851.5 790.6h0M906.5 783.3h0M929.3 804.1h0M923.8 801.2h0M946.9 797.3h0M859.8 804.9h0M919.5 794.6h0M884.1 777.1h0M898.9 800.9h0M1021.4 806.3h0M845 785.8h0M962.3 789.1h0M810.3 799.4h0M891.4 784.9h0M909.4 792.2h0M981.3 790.1h0M903.1 801h0M918 777.5h0M877.3 781.4h0M930.5 787.2h0M904 767.3h0M895.6 792.8h0M813.1 800.6h0M812.5 802.7h0M840.7 800.9h0M780.1 801.3h0M1005.5 802.8h0M973.7 806.2h0M889.6 794.6h0M886.1 806.3h0M894.3 780.1h0M986.5 792.4h0M776.9 805.3h0M839.2 800.3h0M891.2 788.5h0M798.4 802.6h0M923.8 775.2h0M790.6 797.2h0M1003.3 795.7h0M786 803.1h0M974.8 787.3h0M896.9 804.8h0M811.2 802.7h0M869.5 803.9h0M936.4 772.6h0M947.3 770.7h0M863.4 790.1h0M824.6 799.9h0M940.9 769.9h0M848.4 795.7h0M894.9 796.6h0M970.6 787.3h0M923.8 805.9h0M926.5 805.7h0M937.3 788.3h0M870.7 796.5h0M928.5 797.1h0M922.4 784.2h0M810 770.5h0M939.4 789.8h0M958.9 783.1h0M958.4 787.9h0M873.7 786h0M823.8 782.2h0M915.2 785.1h0M917 798.2h0M855.3 776.4h0M870.9 800.9h0M959.2 794.5h0M922.1 805.5h0M784.6 796.3h0M831.7 793.2h0M848.3 796.9h0M920.6 796.7h0M934.1 790.1h0M973.2 798.2h0M879.5 798.1h0M813.6 790.5h0M903.7 799.6h0M863.2 785.3h0M970.2 792.5h0M1005.3 802.4h0M899.2 786.5h0M880.3 798.1h0M1008.1 801h0M881.4 801.1h0M943.1 792.9h0M807.2 786.2h0M1022.4 805.6h0M890.7 794h0M914.7 801.2h0M953.3 792.4h0M921.3 795.2h0M835.9 800.5h0M880.1 792.9h0M954.1 790h0M831.7 792.7h0M861.8 780.3h0M923.3 805.6h0M866.8 797.9h0M894.1 785.7h0M887.3 783h0M936.7 783h0M996.7 803.3h0M876.5 783.8h0M934.2 796.3h0M815.4 798.2h0M836.3 804.6h0M861.4 796.1h0M840.9 794.4h0M919.7 798.4h0M982.4 799.6h0M881.5 777.8h0M848.2 788.2h0M929.5 800.6h0M882.4 780.2h0M848.2 795.4h0M960.7 787.6h0M899.2 798.7h0M840.2 794.1h0M864.5 803.1h0M894 782.4h0M886.5 762h0M995.8 804.9h0M886.7 782.1h0M1006.1 802.4h0M873.4 803.7h0M821.7 795.1h0M835.8 805.6h0M810.1 768h0M926.4 804.6h0M842.9 789.2h0M867.3 781.5h0M812.7 799.9h0M875.4 765h0M985.7 791.8h0M908.3 803.5h0M829.9 794.2h0M915.2 787.1h0M815.7 801.5h0M906.1 776.4h0M891 803h0M1000.4 798.4h0M933.8 801.9h0M901.6 801.1h0M853.7 767.2h0M930.4 791.3h0M814.7 793.9h0M968.3 800.9h0M1007.2 803.6h0M893.3 779.4h0M989.5 788.9h0M885.1 776.9h0M881.1 777.4h0M947.7 800.9h0M822.8 792.8h0M915.5 788.6h0M848.7 788.2h0M930.9 784.2h0M970.4 797.1h0M986.5 801.1h0M913.4 787.5h0M879.6 805.7h0M980.1 795.7h0M947.1 786.8h0M977.6 804.8h0M978.4 787.6h0M921 785.7h0M805.1 780.4h0M834.3 793.8h0M995.9 799.2h0M989.9 799.5h0M886.2 798.4h0M902.5 784.3h0M866.5 778.7h0M945.5 804.4h0M906.5 794.5h0M837.5 779.9h0M825.6 805.5h0M913.4 789h0M949.9 795.2h0M954.6 773.1h0M902.8 771h0M827.5 801.6h0M965.5 799.6h0M891.7 788.4h0M970.1 789.7h0M808.5 803.2h0M802.9 804h0M881.2 793.8h0M799 789.3h0M882 792.6h0M803.8 796.9h0M1014.9 802.4h0M929.8 792.8h0M928.2 801.3h0M949.7 802.6h0M863.2 775.3h0M940.4 792.3h0M808.8 791.3h0M783.9 798.9h0M845.6 786.6h0M876.4 798.7h0M897 803.5h0M917.1 801.6h0M909.7 787.6h0M893.6 801h0M939.3 769.8h0M991.2 788.8h0M913.9 780.6h0M937.3 800.5h0M879.4 800.6h0M808.2 803.1h0M905.5 797.5h0M888.8 798.8h0M892 796.3h0M887.4 794.1h0M783.1 804.9h0M940.8 790.2h0M950.7 795.3h0M841.1 798.3h0M889.7 797h0M837.6 765.8h0M895.9 802.2h0M868.3 793h0M855.7 784.1h0M1004.8 806h0M970.5 803.9h0M892.3 799.7h0M919.1 788.4h0M941.9 802.3h0M921.8 781h0M946.2 792.9h0M850.6 781.8h0M961.2 783.4h0M919.7 795.4h0M791.8 794.2h0M852.4 787.1h0M913.8 780.4h0M883.8 801.5h0M859.6 785.6h0M965.2 787.5h0M1005.4 800.2h0M983.2 786.4h0M881.2 803.7h0M1000.2 799.3h0M852.7 806.3h0M944.2 777.1h0M894.8 795.3h0M998.9 793.1h0M955.5 799.8h0M928.1 782.4h0M962.2 800.9h0M905.4 805.2h0M972.3 804.2h0M850.8 805.4h0M952.2 774.4h0M880.4 801.6h0M859.4 780.6h0M979.3 800h0M953 799.2h0M865.8 805.9h0M873.8 804h0M860.2 771.8h0M876.5 805.5h0M791.1 782.5h0M821.3 805.8h0M880.5 774.9h0M866.8 773.8h0M818.3 801.7h0M806.9 797.2h0M885 790.3h0M863.9 792.9h0M980.5 793.8h0M948.8 793.3h0M878.6 805.6h0M945.7 798.4h0M926.2 788.5h0M902.9 794.7h0M823.1 792.6h0M969.9 802.2h0M896.4 796h0M939 802.3h0M800.2 788.3h0M950.2 802.1h0M949.6 803.6h0M835.9 784.5h0M911.1 780.9h0M892.9 787.9h0M897.3 779.6h0M864 788.1h0M866.7 794.8h0M835.8 788.6h0M856.7 803.3h0M830 804.1h0M954.1 791.2h0M996.7 783.4h0M927.2 790.3h0M909.1 798.6h0M957.7 801.7h0M853.7 798.4h0M889.7 804.9h0M983.6 800.1h0M827.2 786.5h0M817.4 792h0M934.2 781.9h0M904.6 802.6h0M947.6 768.5h0M899.2 798h0M812 786.5h0M849.5 804h0M841.3 797.8h0M934 796.2h0M910.4 771.2h0M867.6 798.4h0M961.4 805.1h0M905 799.7h0M864.3 793.8h0M838.7 805.1h0M962.7 794.4h0M929.9 797.4h0M855.9 804.9h0M837.5 790.9h0M822 795h0M906 806.2h0M861.6 797.3h0M972.1 790.7h0M808.1 804.1h0M832.5 805.2h0M972 801.4h0M880.2 800h0M793.3 789.6h0M893.3 777h0M924.4 797h0M917.7 790.9h0M897.7 805.6h0M962.6 801.2h0M902.1 797.6h0M955.1 794h0M890.7 806.4h0M961.2 791.5h0M969.9 803.9h0M868.8 792.6h0M905.3 796.7h0M819.1 803.6h0M951.4 797h0M852.3 793.8h0M964.8 782.8h0M808.8 806.3h0M879.8 804.3h0M794.3 805.5h0M945.3 805.2h0M1022 805.1h0M971.4 798h0M923.6 799.6h0M977.1 797.3h0M904.4 767.2h0M895 790.8h0M859.3 791.6h0M876.6 785.7h0M938.2 770.3h0M923.8 770.5h0M916 792.9h0M961.2 793.4h0M982.6 794.4h0M854.7 791.8h0M996.3 787.9h0M956.1 782.3h0M888.4 804.2h0M948.4 775.1h0M894.9 786.8h0M864.1 781.7h0M901.9 799.2h0M897.1 796.7h0M935.4 768.3h0M968 801.1h0M886.1 785.7h0M892.2 784.2h0M855.3 801.9h0M934.5 803.2h0M847.1 800.7h0M883.7 803.1h0M837.1 786.6h0M909.6 787.5h0M969.7 790.5h0M839.4 795.9h0M933.3 784.3h0M924.1 805.2h0M857.9 804h0M915.1 793.9h0M828.1 788.5h0M876.6 804.2h0M930.8 782.4h0M907.7 781.7h0M843.6 780.3h0M849 798.2h0M831.7 800.2h0M914.6 777.1h0M859.2 764.3h0M852 801.6h0M892.8 780.7h0M943.9 803.3h0M925.9 798.6h0M921.9 802.9h0M896 804.7h0M894.8 764.2h0M887 801.5h0M924.8 804.8h0M917.6 804.6h0M820.3 796.1h0M852.1 796.6h0M952.8 780.3h0M948.5 785.7h0M843 798.1h0M977.9 784h0M879.1 793.5h0M960.4 774.1h0M929.3 795.8h0M841 788.9h0M857.7 790.9h0M887 772.4h0M893 788h0M936 805.4h0M898.1 806.1h0M965.3 800.8h0M916.1 769.6h0M828.9 805.8h0M930.4 800.1h0M861 798.4h0M933 786.8h0M800.1 787.2h0M987.5 790.5h0M975 804.6h0M828.1 791.5h0M861.2 799.8h0M832.9 797.2h0M939.1 800.7h0M961.2 796.2h0M903.9 781.6h0M869.2 783.7h0M803 799.7h0M916.5 780.6h0M832.3 787.2h0M854.7 776.4h0M823.4 805.4h0M886.8 784.8h0M992.9 802.6h0M891.1 803.1h0M843.5 768.4h0M923.7 798.9h0M818.4 787h0M802 787h0M1012 800.8h0M879.4 778.9h0M867.7 772.9h0M795.8 795.2h0M952.1 804.6h0M914.5 806.2h0M986.8 803.4h0M872 784h0M914.1 801.3h0M964.3 782.7h0M930.4 787.9h0M867.6 771.2h0M897.4 789.3h0M916.9 803.1h0M790.2 802.2h0M936 784.6h0M938.5 788.5h0M894.3 786.7h0M789.9 799.6h0M912.9 783.9h0M952.2 797.6h0M913 788.4h0M917.6 800.7h0M904 805.2h0M901.7 799.5h0M792.4 799.9h0M852.7 791.8h0M970.3 803.2h0M880.6 802.2h0M875.1 799.4h0M996.7 794.8h0M906.8 782.1h0M943.7 796.8h0M897.8 797.9h0M843.7 797.7h0M926.1 794.4h0M921.4 788.6h0M909.1 803.8h0M911.9 795.1h0M855.9 793.6h0M840.9 804.2h0M874.5 773.3h0M857.9 798.7h0M948 785.2h0M809.8 793.8h0M836.8 792.5h0M892.8 804.1h0M913.5 771.6h0M837.7 795.6h0M908.4 794.2h0M803.8 781.2h0M892.1 795.1h0M912.7 786.5h0M1013.9 803.6h0M924.1 797.5h0M806.2 801h0M824.5 800.4h0M913.2 799h0M916.7 794.8h0M974.2 805.9h0M940.6 777.8h0M870.1 792.6h0M872.6 802.3h0M891 777.8h0M989.9 801.8h0M852.7 801.7h0M909.1 771.2h0M896.4 806.1h0M960.2 797.4h0M973.8 793.1h0M780.7 803.8h0M804 795.4h0M872 799.9h0M945.8 804h0M832.1 800.7h0M916.4 771.1h0M955 795.7h0M789.5 806.2h0M952.6 788.1h0M944.2 795.4h0M976.9 777.8h0M878.1 805.8h0M886.3 780.1h0M785.7 802.6h0M987.8 793.7h0M954.6 796.4h0M924.7 789.7h0M909.7 765.8h0M873.5 791.1h0M803.8 801h0M865.3 796.2h0M884.1 791.9h0M840.1 798.2h0M907.3 802.2h0M880 796.1h0M920.8 778.5h0M1007 795.6h0M785 804.7h0M1023.6 805.9h0M824.9 791.5h0M854.1 805.4h0M835.5 804.6h0M828.7 794.8h0M943.5 798.3h0M960.9 803.1h0M887.2 783.8h0M797.9 802.2h0M966.1 806.1h0M865.8 796.6h0M905 797.9h0M985.5 785h0M953.8 804h0M906.8 796.5h0M909.2 787.4h0M978.7 778.3h0M879 801.1h0M979.3 785.9h0M939.1 779.9h0M910.4 785h0M964.4 799.5h0M873.6 790.6h0M854.3 786.9h0M932.6 804.9h0M910.6 791.9h0M871.6 782.8h0M887.2 779.4h0M897.3 790.3h0M858.8 781.2h0M968.8 787.9h0M891 800.9h0M1020.7 805.4h0M793.3 799.3h0M960.7 796.4h0M871.1 803.4h0M952.7 800.8h0M829.7 793.1h0M893.3 790.1h0M845.4 802.9h0M789.6 804.3h0M956.8 798h0M824.5 783.6h0M923.3 799.7h0M907.5 803.3h0M921.2 773.2h0M976.3 800.6h0M855.6 804.9h0M883.8 774.6h0M894.6 796.7h0M821.5 801.9h0M932.9 803.4h0M929.9 794.7h0M991.1 796.5h0M950.9 796.4h0M877.8 793.2h0M857 791.6h0M912.4 788.9h0M888.6 802.6h0M898.1 778.6h0M951.7 798.2h0M909.2 771.2h0M874.7 803.3h0M816.1 780.1h0M868.7 766.9h0M953.4 791.9h0M893.8 785.9h0M897.6 800.4h0M903.2 794.3h0M892.7 795.1h0M897.7 793.8h0M940.7 786.5h0M953.7 792.2h0M991.9 799.4h0M891.9 773.5h0M959.1 787.3h0M807.2 801.9h0M934.2 785.9h0M1002.8 798.7h0M907.8 789.2h0M888.3 765.9h0M934.6 780.9h0M889 805.7h0M959.6 801.6h0M863.8 789.9h0M971.2 800.2h0M855.2 803.7h0M837.7 796.7h0M888.1 780.9h0M905.6 787.7h0M976 796.8h0M969.8 799.5h0M982.7 801.5h0M844.6 806h0M885.7 806h0M992.1 798.8h0M917.6 789.3h0M913.3 806.2h0M921.5 791.9h0M879.4 806.4h0M955.9 797.8h0M904.8 781.7h0M961.5 783.7h0M925.1 777.1h0M949.1 780.3h0M847.1 782.9h0M920.1 790.7h0M921.1 805.1h0M835.6 798.7h0M777.4 801.7h0M862.6 803.8h0M902.4 774.3h0M829.2 781.5h0M897.8 792.7h0M884.2 768.6h0M915.9 798h0M898.7 785h0M1002.5 792.7h0M884.6 772.1h0M881.3 776.7h0M861.7 806.4h0M952.7 800.7h0M904.9 764.9h0M864.2 788.7h0M829.8 798.1h0M877.9 798.2h0M867.8 803.6h0M982.2 790.2h0M801.6 804.9h0M921.2 791.8h0M870.4 803.7h0M808.6 790.2h0M999.5 793.8h0M875.1 777.9h0M799.2 789.5h0M955.1 796.5h0M879.6 795.5h0M894.5 805.1h0M825.9 794.2h0M885.2 803.4h0M793 802.4h0M894.3 765.8h0M927.6 791.7h0M930.9 803.3h0M922.6 784.1h0M920.5 779.8h0M895.6 764.1h0M909.4 776.2h0M839.6 797.6h0M871.7 785h0M964.7 779.3h0M874.6 784.2h0M923 800.4h0M882.2 795h0M942 787.8h0M936.5 779.7h0M873.3 770.7h0M883.1 795.3h0M805.8 789.9h0M833.4 804.8h0M969.2 795.8h0M899 793.6h0M961.1 785.5h0M849.8 773.9h0M987.2 805h0M856.3 786.4h0M951.8 797.6h0M956.2 806.2h0M896.1 799.1h0M880.5 792.7h0M954.1 802.4h0M997 794.4h0M938.7 785.5h0M799.1 806.1h0M873.5 788.3h0M832 805.2h0M944.1 784.1h0M888.9 777h0M818.5 799.1h0M875.2 801.6h0M900.7 797.6h0M860.5 773.3h0M952.4 786.6h0M988.2 779.2h0M889 804.7h0M808.4 793h0M857.1 789.1h0M1016.2 803.8h0M784.1 792.7h0M840.4 771.6h0M856.4 798.9h0M887.8 790.5h0M858.5 801.2h0M983.3 800.3h0M867.3 790.7h0M938.4 784.6h0M992.9 796.2h0M870.8 797.4h0M837.6 793.7h0M909.7 781.7h0M890.5 792.8h0M906.7 771.3h0M895.6 797.9h0M943 792.1h0M828.1 801.8h0M832.7 775.4h0M849 806.4h0M972 798.3h0M918.1 796.3h0M903.9 785.9h0M862.4 779.7h0M975.5 776.2h0M791.7 799.3h0M927.5 772.7h0M789.4 798.2h0M909.4 804.5h0M882.6 773.5h0M925 787.8h0M929 791.6h0M818.9 803.7h0M907.2 801.8h0M889.5 803.7h0M858 772h0M930 801.1h0M965.4 792.6h0M874.9 779.2h0M911.4 794.6h0M950.7 804.6h0M962.6 784.1h0M858.2 790.5h0M867.8 792.7h0M941 804.9h0M840.7 789.9h0M913.4 777.6h0M997.7 803.6h0M887.4 797.8h0M877.6 764.8h0M873.6 794.7h0M897.9 774.9h0M988 789h0M919.9 798.8h0M911.8 804.8h0M880.4 805.4h0M814.6 786.8h0M813.9 803.8h0M890.3 803.7h0M870.2 798.3h0M866.4 774.9h0M860.9 786.7h0M917.3 791.1h0M915.2 781.4h0M922.1 797.2h0M956.3 792.1h0M876.9 802.4h0M1021.8 804.3h0M982.2 786.4h0M867.1 799.5h0M946.2 778.2h0M865.9 803.5h0M921 795.9h0M945.8 786h0M929.7 805.4h0M893.9 774.7h0M926.8 800.3h0M955.4 777.4h0M983.6 803.7h0M800.7 798.1h0M844.1 795.2h0M932.8 791.2h0M943.3 785.2h0M815.4 794.7h0M1013.1 800.6h0M851.7 792.9h0M908.8 789.2h0M953.4 792.3h0M924.7 802.9h0M839.7 777.1h0M922.4 798.4h0M880.7 798.9h0M950.8 781.1h0M864.7 783.6h0M904.6 788.9h0M776.6 800.1h0M923.1 776.3h0M837.6 791.3h0M847.8 781.7h0M962.7 802.4h0M912.4 793.7h0M802.1 793.7h0M951.9 780h0M905.8 785.8h0M926.8 800.9h0M898.8 792h0M869.5 787.8h0M883.9 797.4h0M962.3 796.7h0M852.8 766.7h0M917.1 794.8h0M940.3 798h0M929.3 793.2h0M906.7 802.5h0M880.7 801.9h0M881.4 799.5h0M943.4 794.5h0M1000.2 795.2h0M864.4 803.9h0M967.8 787.7h0M962.7 793.6h0M853.1 775.7h0M934.9 802.8h0M829.1 796.1h0M878.7 782.5h0M1008.8 797.6h0M847.2 805.8h0M910.7 786.6h0M824 804.1h0M872.6 788.1h0M834.9 800h0M881.2 799.3h0M891.6 774.2h0M834.9 775.1h0M860.8 785.3h0M814.1 797.7h0M873.9 803.6h0M840.8 791.1h0M898.5 779.7h0M874.4 795.8h0M975 790.7h0M787.1 802.4h0M976.1 801.1h0M861.7 799.3h0M959.9 795.5h0M836.2 793h0M857.2 802h0M966.5 776.7h0M933 796.1h0M858.2 776.3h0M889.6 799.2h0M916.5 803.8h0M952.4 788.8h0M995.9 794h0M903 800.6h0M870.6 800.7h0M848.2 764.2h0M893.6 795.7h0M870.5 805.7h0M882.3 784.6h0M875.2 794.1h0M894.7 798h0M821.9 800.8h0M880.9 805.2h0M1007.5 800.9h0M895.3 788.3h0M868.1 775.5h0M852.5 774.4h0M872.2 783.1h0M976 802.5h0M1006 804.7h0M947.4 771.5h0M881.6 774.8h0M867.5 769.2h0M837.1 796.7h0M963.1 796.4h0M883 802h0M836 790.4h0M858.1 778h0M960.1 791.5h0M1020.3 804.8h0M891.1 799.7h0M982.8 803.7h0M894.3 790.5h0M976.5 791.8h0M881.5 802.3h0M914.8 806.2h0M923.6 795.6h0M864.6 787.1h0M885.4 785.8h0M913.8 795.8h0M942.9 776.8h0M923.3 797.2h0M837.5 785.9h0M920.8 780.4h0M926.1 787.2h0M914.2 797.2h0M919.9 791.2h0M931.7 802.7h0M949.3 802.8h0M923.9 767.3h0M907.3 799.4h0M894.8 792.1h0M849.2 786.9h0M888.6 791.6h0M887.8 775.6h0M927.2 792.9h0M832.9 806.3h0M930.3 797.5h0M783 801.5h0M873 780.6h0M875.5 802.2h0M901.1 787.9h0M845.2 790h0M794.3 805.1h0M846.7 777.9h0M931.8 796.7h0M815.9 784.1h0M820.6 779.2h0M1007.8 805h0M866.1 788.7h0M925.7 787.5h0M961.8 806.3h0M944.4 800.6h0M867.2 795.1h0M857.3 772.7h0M928.1 793.9h0M912.2 788.5h0M888.1 768.4h0M991.2 803.1h0M873.5 777.2h0M817.2 803.9h0M843.2 768.5h0M872.7 795.7h0M818.1 781.4h0M917.3 792.6h0M844.3 806h0M861.1 791.9h0M941.1 795.3h0M911.3 795.1h0M958.2 778.4h0M887.6 784.5h0M960.5 803.1h0M888.9 804.7h0M792 788.9h0M871.9 792.2h0M965.5 803.3h0M894.9 803.4h0M906.6 804.5h0M862.3 800.2h0M776.8 797.6h0M778.5 802.6h0M864.3 794.9h0M874 800.7h0M850.7 790.2h0M821.2 778.8h0M995.4 804.5h0M885.7 790.2h0M927 794h0M913.2 782.9h0M860.6 803.8h0M966.7 797.7h0M960.4 803.1h0M803.9 797.8h0M779.9 796h0M884 763.9h0M806.5 776.7h0M875.4 792.8h0M960.3 771.2h0M890.8 793.7h0M840.3 792.4h0M937.1 795h0M935.8 792h0M1002.2 795.5h0M841.7 793.4h0M892.3 799.4h0M902.3 783h0M945 775.8h0M831.3 803.4h0M912.4 784.2h0M946.8 793.1h0M843.9 797.9h0M911.8 773.6h0M792.8 805.7h0M788.9 793.9h0M953.3 805.6h0M1008.8 796.8h0M919.4 797.6h0M951.3 798.1h0M882.2 770.5h0M863.3 802.8h0M855.5 795h0M860.6 803.9h0M970.3 799.9h0M852.5 789.1h0M998.7 797.5h0M918.3 766.9h0M834.3 775.7h0M821.3 778h0M973.3 789.8h0M786.1 788.6h0M873.5 785.9h0M879.8 799.2h0M902.7 802.4h0M876.9 778.5h0M898.5 788.2h0M830.3 780.6h0M780.7 802.4h0M839.3 803.9h0M834.5 776.1h0M904.9 804.5h0M904.9 767.3h0M871.5 799h0M943 789h0M943.9 802.2h0M826.6 803.3h0M855.8 799.5h0M962.4 778.9h0M836.4 783.1h0M912.4 805.5h0M854.3 799.2h0M857.1 778.6h0M879.2 784.9h0M867 765.7h0M910.6 777h0M925.6 770.5h0M976.2 804.8h0M919.4 803h0M911.6 788h0M904.6 800.2h0M942 782.5h0M852.5 800.6h0M925.6 795.6h0M903.3 795h0M1011.5 797.2h0M915.2 783.1h0M806.2 801.9h0M856.4 785.6h0M931.9 799.6h0M967.1 803.3h0M881.6 802.4h0M863.6 768.4h0M841.7 790h0M918.7 787h0M949.3 785.7h0M799.3 799h0M913.5 781.7h0M889.8 802.7h0M841.8 771.6h0M861.5 786.2h0M953.9 802.2h0M894 791.9h0M890.6 775.3h0M831.5 797.5h0M873.4 798.4h0M839.9 795.8h0M932.5 800.8h0M897.4 790.3h0M950.8 780.8h0M868.2 793.6h0M911.1 779.1h0M828.7 802.9h0M789.3 804.8h0M913.1 782.4h0M954.2 775.5h0M896.1 789.9h0M836.1 805.9h0M913.3 790.6h0M879.7 799.1h0M911.2 780.3h0M869.6 792h0M866.7 779.5h0M785.5 800.5h0M944.1 791.7h0M990.1 792.2h0M963 799.3h0M840.1 803.2h0M982.6 795.6h0M888.7 789.2h0M926.6 800.7h0M903.6 804.9h0M927.5 782.1h0M917.8 773.8h0M794.8 804.4h0M887.7 783.9h0M816.3 791.6h0M940.6 786.8h0M872.6 794.3h0M877.5 783.3h0M1018.5 804.8h0M951.5 796.6h0M875 775.6h0M908.7 787.1h0M857.6 787.4h0M851.1 787.5h0M779.6 802.9h0M943.3 790.4h0M932.5 789.6h0M973.1 789.7h0M832.2 768.7h0M930.5 790.5h0M878.3 801h0M994.3 793.3h0M890.7 797.6h0M900.7 787.1h0M898 787.8h0M932.2 776.3h0M803.5 773.8h0M917.5 792.4h0M912.4 795.5h0M882.6 785.7h0M885.2 799.2h0M876.7 786.5h0M820.8 804.9h0M827.2 761.7h0M799.6 804.2h0M915.6 794.8h0M941.1 786.3h0M918.6 773h0M805.4 799.2h0M820.2 804.4h0M927.7 802.6h0M839 803.1h0M856.9 785.1h0M890.6 767.3h0M822.5 795.2h0M853.1 795.1h0M926.3 785.4h0M1016.8 804.7h0M881.8 767.6h0M964.8 787.3h0M910.2 800.1h0M927.7 795.1h0M944.1 793.8h0M862.6 802.7h0M927.3 781.6h0M912.6 803.6h0M901.8 793.2h0M918.6 794.5h0M828.9 786.8h0M791.5 793.6h0M782.5 801.8h0M993.4 796.5h0M895.4 793.3h0M945.1 805.5h0M920.1 780.9h0M886.1 804.9h0M974.3 796.9h0M850.5 799.7h0M879.9 796.8h0M924.2 783.1h0M883.5 802.4h0M963.7 799.9h0M937.2 791h0M803.9 803.4h0M941.4 796.9h0M927.8 802.4h0M869.5 798.9h0M947.3 779.8h0M945.6 773.6h0M980.1 803.2h0M947.5 802.2h0M879.2 794.6h0M852.2 772.8h0M917.6 805h0M886.1 766h0M932.4 790.7h0M938 795.8h0M949.4 784.2h0M931.2 792.5h0M905.5 799.3h0M921.1 793.4h0M981.8 794.2h0M954.9 792.1h0M851.4 796.1h0M901.3 796h0M900.4 803.3h0M849.9 793.1h0M961.9 774.3h0M998 798h0M1014.4 803.2h0M869.2 793.5h0M845.5 774.7h0M832.8 786.7h0M962.4 802.4h0M918.7 805.3h0M943.6 784.4h0M901.7 783.5h0M913.2 794.3h0M881.7 794.6h0M925.5 805.1h0M882.7 765.2h0M933.3 805h0M975.8 795.6h0M881.4 777.2h0M814.7 785.3h0M809.8 791.4h0M967.6 798.6h0M972.4 804.7h0M913.4 802.6h0M899.1 804.1h0M782.4 791.1h0M812.7 789.2h0M942.8 793.9h0M881.6 785.1h0M896.8 792.8h0M842.9 779.5h0M878.1 770.5h0M961.8 801.9h0M872.8 770.6h0M875 802.6h0M865.7 785.8h0M816 801.7h0M996.6 790.6h0M872 798.5h0M878 785.3h0M855.1 765.3h0M1004.1 803.4h0M871 797.6h0M950.8 797.3h0M932 805h0M917.3 779.2h0M914.5 788.6h0M913.4 777h0M899.5 800.7h0M955.5 789.5h0M877.2 799.9h0M970.3 804.6h0M931.8 801.6h0M854.4 795.5h0M880.9 771.8h0M942.2 794.6h0M936.5 771.2h0M894.8 784.7h0M840.8 786.7h0M862.8 799h0M911.8 783.6h0M917.8 796.1h0M900.3 765.9h0M920.1 794.5h0M891 783.1h0M815 771.9h0M916.7 768.2h0M897.3 782.6h0M961.1 787.4h0M838.4 788.2h0M938.9 785.9h0M898.3 801.5h0M911 804.7h0M954.9 800h0M935.5 778.7h0M933.1 771.4h0M829.2 791.8h0M838.3 803.9h0M895.6 781.1h0M979.9 805.5h0M1006.8 799.7h0M976.9 787.9h0M886.9 785.7h0M813.7 790.7h0M861.1 783.6h0M888.6 803.1h0M937.3 804.6h0M851.7 804.3h0M856.1 791.9h0M824.1 781.3h0M909.3 802.8h0M955.5 793.4h0M861.4 800.9h0M923.1 793.9h0M934.6 773.4h0M969.2 776.3h0M989.3 789.6h0M908 806.4h0M896.7 802.5h0M882.6 797.6h0M871.4 773.3h0M850.3 768.5h0M836.3 804.5h0M973.2 786h0M808.1 803h0M823.6 800.1h0M885.2 796.7h0M922.6 802h0M861.1 791.7h0M924.3 777.4h0M967.3 782.3h0M1009 801.7h0M930.8 790.5h0M827.6 802.7h0M866 771.2h0M892.6 803.9h0M902.5 796.1h0M967.5 799.4h0M941.5 794h0M776.4 804.9h0M813.6 770.8h0M822.5 805.4h0M954.2 789.1h0M958.1 801.9h0M912.9 790.2h0M821.5 787.1h0M935.1 789.6h0M865.3 789.3h0M899.4 805.3h0M932.4 780h0M929.7 773.9h0M985.4 779.9h0M899.6 794.9h0M875 780.4h0M938 787.9h0M980.5 788.7h0M896.9 772.9h0M900 766.6h0M897.7 802.7h0M889.8 780.4h0M867.9 781.5h0M892.8 797.8h0M858.7 789.5h0M951.6 800.5h0M867.6 780h0M948.5 779h0M803.1 788.4h0M867.6 774h0M904.2 800.6h0M898.5 796.8h0M894.3 800.9h0M961.6 774.6h0M957.9 806.3h0M968.9 803.8h0M929.6 785.3h0M964.8 799.9h0M888.9 786.3h0M833 805.6h0M975.5 799.4h0M959.5 772.5h0M855 779.5h0M865.9 796h0M894.7 788h0M864.3 789.4h0M863.4 799.9h0M954.6 767.7h0M824.4 789.3h0M980.5 798.3h0M787.9 801h0M787.5 792.5h0M943.9 799h0M891 798.5h0M900.2 801.1h0M949.8 791.8h0M855.4 775h0M901 805.1h0M918.1 782.3h0M891.6 799.7h0M959.9 790.5h0M882.4 777h0M881.7 777.5h0M834.5 789.4h0M926.6 800.7h0M921.8 798.1h0M879.8 772.4h0M940.9 773.6h0M907.9 805.5h0M838.8 793.7h0M862.2 788.5h0M853.4 799h0M897.9 778.7h0M854 801.5h0M886.8 802.9h0M934.1 802.7h0M917.8 799.6h0M869.7 784.6h0M842.8 796.4h0M875.1 795.1h0M876.6 794.1h0M932 790.2h0M963.4 777.2h0M946.8 780.7h0M973.6 784.8h0M809.8 786.7h0M789.5 794.4h0M894.2 793.7h0M804.7 801h0M924.9 794h0M841.7 776.4h0M963.3 783h0M942.8 791.4h0M841.4 797.8h0M834.3 804.1h0M849.8 779.9h0M877.2 792.1h0M899.5 773.8h0M964.1 783.9h0M1004.4 803.4h0M964.8 772.6h0M1009.1 798.6h0M922.3 794.1h0M886.6 785.6h0M896 776.5h0M947.5 775h0M889.5 794.8h0M782.1 799.6h0M937.9 781.3h0M830.4 780.9h0M846.7 803.7h0M965.2 803.3h0M861.9 805.6h0M908.4 799.5h0M925 773.8h0M923.3 793.9h0M924.4 779.7h0M956.4 798.9h0M862.9 794.7h0M857.7 776.2h0M980.2 797.1h0M816.1 799.1h0M810.4 801.7h0M869.2 781.9h0M933.3 797.3h0M870.1 799.3h0M901.4 797.9h0M825.4 803.6h0M886.3 801.1h0M832.1 794.6h0M869.7 792.7h0M893.3 800h0M830.1 781.5h0M820.1 779.8h0M963.3 793.3h0M909.2 787h0M906 779.8h0M903.1 783.8h0M908.1 782.5h0M826.1 802.2h0M877.8 802.6h0M906.3 804.9h0M887.6 799.2h0M889.3 804.9h0M1019.7 799.9h0M841.9 797h0M915.5 776.8h0M800.2 776.2h0M975.4 799.3h0M904.2 794.6h0M959.8 789.4h0M913.4 769.1h0M952.5 791h0M946.8 783.7h0M846.9 782.9h0M935.8 785.2h0M919.6 800.7h0M909 799.3h0M863.4 787.3h0M912.2 799h0M920.5 804.7h0M836.6 771.6h0M957.1 798.2h0M983.5 792.2h0M868.7 777h0M879.9 791.8h0M848.5 804.5h0M871.1 781.1h0M1001.7 788.8h0M932.6 805.8h0M933.4 796.9h0M857.7 765.2h0M918.5 795.5h0M978.1 776.2h0M873.3 805.7h0M949.3 805h0M982.8 791.2h0M892.5 791.8h0M878.8 766.9h0M924.3 767.7h0M831.7 782.2h0M945.4 790.7h0M852.4 798.5h0M897 804.2h0M869.5 785.7h0M866.7 804.7h0M911.2 803.5h0M885.9 804.2h0M893.2 786.8h0M849.4 785.5h0M828.8 779.4h0M914.6 799.5h0M907.3 795.2h0M962.3 780.3h0M836.1 790h0M924.4 778.2h0M864.9 788.4h0M934.6 801.6h0M871 779.2h0M887.5 777.5h0M943.9 797.2h0M784 797.5h0M980.2 789.3h0M907 784.7h0M911.6 785.5h0M951.5 793.5h0M840.6 783h0M886.7 785.1h0M884.5 797.6h0M909 781.8h0M921 794h0M841.5 791.3h0M897.2 801.9h0M940.8 805.5h0M891.1 804h0M852.3 782.7h0M898.8 803.5h0M881.8 788.5h0M980.9 802.1h0M823.6 776.2h0M957.3 781h0M814.9 799.7h0M909.5 795.1h0M854.4 795.3h0M892.8 806.1h0M944.3 783.5h0M932.5 790.3h0M913.6 776.2h0M954.3 784.1h0M840.8 793h0M884 794.4h0M874.3 798.3h0M988.6 800.3h0M960.1 805.1h0M797.4 789.4h0M1020.8 803.7h0M789.5 799.1h0M867.2 805.4h0M801.3 801.6h0M959.8 778.6h0M892.3 790.4h0M933.1 789.1h0M885.2 790.2h0M900.1 801.2h0M979.5 795.5h0M826.5 797.1h0M877.9 802.8h0M930.3 787.5h0M868.8 786.9h0M933 788.7h0M903.8 802.3h0M877 806.4h0M865 787.3h0M984 781.8h0M877.9 802h0M865.6 799.5h0M884.2 805.4h0M929.9 772.1h0M933.8 791.3h0M841 775.3h0M871.6 791.5h0M944.5 775.7h0M832 803.9h0M803.1 791.9h0M900.1 802.4h0M958.2 785h0M818.3 805.7h0M816.2 798.6h0M869.1 806.2h0M870.7 798.1h0M869.5 782.5h0M912.1 794.1h0M964.8 786.6h0M943 794.9h0M890.6 802.1h0M861.2 777.5h0M974 800.1h0M913.2 804.2h0M864.1 794.5h0M896 788.8h0M853.9 784.7h0M972.1 788.2h0M900.6 804.1h0M880.4 766.4h0M932.7 770.3h0M923.3 805h0M943.8 767.7h0M834.3 800.3h0M953.7 806h0M851.6 796.2h0M924.4 792.7h0M961 793.3h0M782.1 796h0M848.7 769.1h0M895.5 798.5h0M879.3 799h0M903.5 782.1h0M918.5 795.3h0M953.7 795.3h0M908.9 803.9h0M883.7 773.5h0M901.6 790.6h0M856 791.2h0M870 803.9h0M959.1 796.2h0M1015.3 804.9h0M922.1 796.3h0M901.5 789.1h0M942.3 788.4h0M899.8 777.5h0M920.9 802.3h0M951.7 805.9h0M875 778.4h0M960.4 773.8h0M859.1 805.8h0M902.8 773h0M923.3 795.3h0M915.8 803.1h0M937.1 799.6h0M903.3 799.8h0M879.5 804.5h0M891.6 800.7h0M848 783h0M925.9 796h0M827.6 773.4h0M841.5 798.7h0M873.2 805h0M847.9 794h0M929.9 802.2h0M984.9 806.3h0M856.8 779.2h0M917.9 777.6h0M983.4 797h0M907.2 787.1h0M800.5 803.3h0M856.2 784.4h0M964.5 793h0M915.1 791.4h0M992.9 803.6h0M793.1 800.7h0M974.3 805.8h0M809.9 793.9h0M902.2 791.6h0M911.2 795.8h0M907.4 789.1h0M857.6 794.6h0M903.1 799h0M925.7 797.8h0M812 805.9h0M975.2 798.9h0M983.5 800.6h0M953.4 801.3h0M881.7 785h0M945 784h0M953.2 776.2h0M882.8 789.4h0M830.6 763.9h0M862.1 766.9h0M951.3 775.4h0M877.7 794h0M925.1 782.6h0M881.8 805.3h0M900.9 763.6h0M788.1 794.9h0M968.3 771.2h0M826 802.3h0M907.1 793.4h0M804.4 786.8h0M884 778.2h0M929.5 787.8h0M975.9 792.8h0M983.3 799.4h0M883.1 802.8h0M900.7 777.5h0M886.5 792.9h0M819.5 795h0M880.8 796.4h0M909.3 779.2h0M885.9 791.4h0M887.6 799.6h0M889.4 778.3h0M936.4 795.6h0M921.3 804h0M909.6 801.7h0M929.3 779.8h0M996.4 783.3h0M986 802.3h0M875.6 791h0M864.3 793.2h0M881.9 805h0M956.1 775.4h0M953.8 791h0M913.5 777.4h0M892.3 789.8h0M940.4 792.1h0M917.1 777.5h0M824.5 790h0M1017.2 804.5h0M803 793.3h0M967 797.7h0M809.3 796.8h0M975.7 797.1h0M867.7 802h0M980.2 794h0M903.3 805.1h0M805.2 801.6h0M998.8 788.5h0M966.2 792.6h0M849.9 791.7h0M930.9 790.7h0M828.6 784.4h0M851.1 784.1h0M846.3 803.7h0M857.3 795.5h0M908.1 803.1h0M989.6 798.6h0M924.5 801.7h0M889.1 799.8h0M945.7 793.7h0M973.5 796.9h0M790.9 795.5h0M860.4 803.4h0M976.9 796.4h0M906.4 794.1h0M917.8 794h0M869.5 781.2h0M916.2 773.9h0M861.5 803.1h0M844 791h0M862.9 804.4h0M850.7 798.8h0M865.3 790.3h0M999.3 805.6h0M856.7 792.7h0M881.7 783h0M857.2 799h0M873.5 792.5h0M924.8 806.1h0M904.4 801.1h0M913.8 791.3h0M889 765.2h0M883.6 801.5h0M932.2 795.4h0M851.5 803.1h0M939.2 777.7h0M910.7 770.4h0M989.4 792.5h0M799.1 798h0M849.9 805h0M1006.6 802.1h0M884.9 801.5h0M801.6 794.2h0M878.6 769.5h0M916.8 779.7h0M818.2 798h0M926.4 781.1h0M993.3 791.4h0M1000.8 784.2h0M909.5 798.6h0M807.6 797h0M842.1 802h0M877.6 802.1h0M859.7 784.4h0M917.2 785.3h0M864.7 798.8h0M923.9 798h0M914.3 781.2h0M924.2 793.9h0M929.3 799.9h0M925.5 769.9h0M876.6 768.4h0M905.8 802.6h0M898.8 779.2h0M852.6 785.9h0M877 778h0M978.9 778.8h0M909 792.5h0M778.5 805.7h0M954.9 799.4h0M833.3 789.9h0M865.2 804.6h0M907.1 797h0M933.4 784h0M940.5 792.5h0M973.6 801.5h0M796.5 799.5h0M811.4 783.4h0M873.4 784.4h0M943.7 776.1h0M875.8 799h0M969.5 805.2h0M788.9 785h0M823.4 797.2h0M946.5 788h0M889.5 779.6h0M905.8 794.1h0M906.1 799.6h0M978.1 792.5h0M984.7 797.6h0M902.8 767.7h0M891.8 785h0M852.5 791h0M830 797h0M852 794.4h0M809.8 793.1h0M890.8 771.6h0M911.8 804.4h0M904.3 765.6h0M841.4 776.8h0M890.4 805h0M845.7 790.9h0M971.8 801.2h0M881.1 784.8h0M923.4 782.1h0M983.9 783.5h0M844.9 780.4h0M897.5 796.2h0M845.6 805.4h0M929.1 802.5h0M847.7 787.5h0M877.8 786.8h0M865.4 781.4h0M985.8 790.8h0M968.8 803h0M934.2 798.6h0M844 793.5h0M954 804.2h0M910.8 784.2h0M970.8 803.6h0M831.7 783.1h0M994.8 802h0M899.1 801.3h0M838.4 805.7h0M991.4 799.9h0M828.8 795.6h0M1019.1 803.4h0M929.9 789.6h0M853 786.7h0M871.4 795.4h0M953.2 802.8h0M776.9 802.8h0M919.9 790.4h0M865.7 801.9h0M954.9 805.5h0M858.9 790.3h0M889.5 777.6h0M925.6 798.1h0M855.7 793.9h0M894.2 786h0M988.7 794.9h0M860.3 798.2h0M951.1 802.1h0M882.9 771.5h0M889.1 801h0M932 800.7h0M855.4 787.6h0M885.3 800.9h0M786.9 798.9h0M912.9 791.8h0M927.2 788.1h0M893.1 783.8h0M981.7 788.4h0M981.5 789.3h0M894.8 800.9h0M835.1 795.8h0M938.5 796.6h0M961 767.9h0M970.7 787.5h0M841.3 787.7h0M953 791.6h0M943.1 784.5h0M962.9 799.4h0M836.7 802.1h0M839.2 781.6h0M968.7 784.6h0M949.1 785.4h0M966.8 783.6h0M955.8 803.5h0M849.6 791.7h0M1017.6 801.6h0M957.6 789.7h0M955.9 804.1h0M906.2 777.2h0M922.1 796.2h0M835.5 774.7h0M825 803.6h0M954.7 795.1h0M871.9 799h0M977.2 793.5h0M914.3 798.6h0M851.6 790.2h0M908.7 802.4h0M895.4 775.6h0M888.7 768.1h0M837.4 765.7h0M908.5 795.2h0M805.3 798.3h0M920.5 794.3h0M918.4 779.9h0M809.9 796.1h0M942.4 793.8h0M880.6 792.3h0M877.2 804.9h0M884.1 787.8h0M869.9 801.3h0M927.7 786.5h0M949.5 804.3h0M907.2 786.9h0M836.6 787.4h0M803.3 805.2h0M942.5 799.5h0M916 793.9h0M900.2 804.6h0M938.6 802.6h0M870.7 778.9h0M898.7 787.2h0M917.2 790.5h0M943.7 795.2h0M925.4 774.6h0M904.3 767.4h0M833 792.2h0M894.3 806.1h0M1002.8 801.8h0M878.5 803.2h0M929.6 804.3h0M918.7 802h0M966 803.6h0M918.7 785.1h0M963.1 786.2h0M892.3 797h0M979 789h0M806.1 805.2h0M938.7 777.9h0M929.6 779.6h0M876 792.2h0M868.9 784.4h0M916.6 800.6h0M916.4 782.2h0M881.8 792.5h0M927.6 802.5h0M842 782.9h0M871.4 793.2h0M964.4 799.5h0M880.8 789.2h0M859 794h0M874.6 805.8h0M968.1 792.3h0M1008.7 800h0M929.3 799.4h0M848.8 801h0M893.1 765.5h0M914.5 775.1h0M879.2 783.4h0M828.2 793.9h0M897.7 791.2h0M954.2 804.5h0M929.5 792.5h0M837.8 794.4h0M875.3 785.4h0M893.3 795.7h0M838.1 781.9h0M922.5 804h0M971.3 795.6h0M952.3 767.4h0M942.8 804.5h0M930.9 782.8h0M947.6 800.7h0M888.8 801.7h0M814.1 791.6h0M822.8 801.3h0M996.7 787.9h0M949.3 802h0M930 803h0M911.9 798.4h0M855.8 790.7h0M960.1 783h0M956.9 781.2h0M913.8 787.6h0M934.7 792.1h0M909 801.6h0M851.4 767.3h0M879.8 784.7h0M976.1 801.3h0M884.9 798.7h0M967.7 783.4h0M898.6 768.5h0M914.7 805.3h0M854.6 780.4h0M931 802.7h0M995.9 795.8h0M865 799.8h0M850 798.5h0M938.3 798.2h0M920.7 790.7h0M944.5 782.1h0M833.5 761.2h0M897.1 799.2h0M878.6 790.3h0M906.1 769.4h0M920 777.6h0M802.8 786.5h0M893.2 796.3h0M953.6 800.2h0M961.9 797.5h0M984.9 787.1h0M892.2 796.2h0M843.2 793h0M937.2 785.5h0M992.4 787.9h0M925.8 804.8h0M801.6 802.6h0M855.5 787.8h0M892.9 789.9h0M820.5 802.1h0M927.7 777.4h0M921.4 786.2h0M858.3 778.3h0M796 779.7h0M890.6 771.2h0M819.2 773.6h0M920.1 800.9h0M940 785.6h0M822.8 783.9h0M895.9 804.3h0M902.8 793.8h0M844.3 769.5h0M927.7 788.4h0M923.1 794.6h0M926 796h0M872.9 798.5h0M801.2 803.7h0M898.8 794h0M902.1 796.4h0M941.9 798.9h0M846.6 785h0M981.4 802.5h0M1008.3 799.1h0M922.5 803.8h0M867.3 804h0M937.1 800.9h0M898.3 804.5h0M939.4 778h0M827.7 777.8h0M945 788.8h0M879.1 801.6h0M906.7 779.1h0M929.5 789.3h0M901.2 786.8h0M867.1 782.7h0M835 804.4h0M959.8 794.9h0M1007.7 793.8h0M968.6 801.4h0M917.5 772.5h0M809.7 787.4h0M855.3 800.2h0M890.4 787.6h0M957.2 805.6h0M844.9 788.6h0M814.2 773.1h0M955 802.5h0M932.8 769.6h0M879.6 806.2h0M913.4 798.1h0M948.4 796.6h0M954.6 794.6h0M1022.5 805.8h0M834.4 805.6h0M867.8 793.5h0M874.6 797.6h0M822.1 803.4h0M842.4 769.1h0M900.7 762.9h0M883.6 788.6h0M866.1 771.7h0M941.3 775.7h0M840.6 801.7h0M957 786h0M928.6 789.5h0M955.3 798.5h0M947.9 774.2h0M907.8 804.8h0M881.5 763.1h0M936 792.1h0M987.9 802.6h0M902.9 798.7h0M905.1 797h0M865.4 794.5h0M842 772.5h0M921.8 793.1h0M915.4 798.4h0M867.4 781.2h0M855.1 784.9h0M940.3 795.8h0M877.6 787h0M888.1 794.2h0M918.4 779.1h0M997.4 797.3h0M953 786.9h0M1009.7 803.5h0M876.3 792.5h0M877.3 799.3h0M934.1 805.3h0M902.4 776h0M914.8 787.5h0M812.4 783.9h0M912 785h0M833 803.3h0M1010.4 802.9h0M930 780h0M1009.7 797.2h0M940.1 783.5h0M956.7 800.4h0M881.3 790.7h0M883.5 790.4h0M811.3 792.9h0M904.8 788h0M909.6 802.7h0M910.6 792.9h0M867.1 790.4h0M892.6 803.7h0M902 805.9h0M928.4 805.5h0M943.1 802.9h0M833.7 793.6h0M915.6 782.8h0M832.5 791.8h0M878.6 762.9h0M841.5 801h0M824.1 780.5h0M823.1 801h0M970.7 790.9h0M934.9 792.5h0M900.1 797.6h0M960.9 795.3h0M933.2 783.7h0M957.5 791h0M937.1 797.6h0M947 800.8h0M963 799.5h0M863.2 796.6h0M880.2 766.7h0M930.6 804.6h0M924 779.8h0M870.5 765.8h0M962 786.7h0M842.2 797.8h0M869.9 788.3h0M836.2 801.4h0M856.6 777.7h0M869.8 769.6h0M982.1 787.2h0M833.9 802.9h0M909.9 793h0M900.2 796.5h0M968.6 793.5h0M973.1 795.6h0M984.8 784.3h0M953.2 794.6h0M850.2 790.2h0M905.7 775.6h0M966.3 780.5h0M941.3 782.3h0M899.7 790.7h0M885.7 788.6h0M856.2 782.7h0M923.4 773.3h0M998 791.9h0M943.6 800.5h0M916.9 805.4h0M974.3 806.3h0M878.4 800.3h0M954.7 787.4h0M922.9 797h0M910.7 792.9h0M933.9 801.8h0M882.9 803.7h0M865.4 801.1h0M929.6 787.3h0M936.5 787.6h0M860.4 803.2h0M799.8 787.6h0M962.2 787.1h0M961.9 780.2h0M935.6 776.5h0M936.1 799.2h0M917.8 792.9h0M895.8 802.8h0M945.2 774.5h0M892.5 803.6h0M906.4 794.5h0M888.9 791.9h0M898.9 798.3h0M845.7 790.8h0M966.1 801.3h0M856.2 783.9h0M948 793.7h0M835.6 798.6h0M899.8 804.4h0M920 794.9h0M947.8 797h0M808.5 798.8h0M996.7 799.3h0M907.5 801.5h0M931.1 804h0M878 789.6h0M931.3 797.7h0M854.6 789.7h0M857.7 770.5h0M870.8 785.9h0M804.9 797.5h0M855.9 776.4h0M809.8 798.3h0M894.3 785.8h0M870.7 769.2h0M781.4 789.7h0M862.8 782.1h0M937.8 806.2h0M955.4 800h0M930.3 790.1h0M886.1 801.6h0M900.5 787.1h0M816.3 794.3h0M851.3 805h0M800.2 806.3h0M848.4 790.7h0M905 783.3h0M885.7 785.8h0M930.5 766.5h0M862.4 789.8h0M951.2 770.7h0M915.1 766.5h0M854.1 783.9h0M914.6 806.4h0M851.7 788.4h0M891.5 775.7h0M1012.2 797.4h0M923.3 804.3h0M875.6 793.8h0M979.4 787.6h0M963.5 796.1h0M809.4 788.5h0M868.1 803.3h0M868.5 786.5h0M913 784h0M869.6 782.7h0M895.5 795.3h0M973 770.9h0M879.8 804.8h0M887 800h0M948.3 797.4h0M921.9 793.9h0M991.4 795.2h0M880.1 798.3h0M939.1 800.3h0M913.6 774.4h0M938.6 783.2h0M877.6 777.5h0M922.3 800.8h0M823.7 805h0M928.8 800.2h0M950.9 785.8h0M844.1 794.3h0M888.9 802.8h0M943.8 790.3h0M894.9 792.4h0M937.2 793h0M915.7 775.7h0M913.6 799.6h0M908 768.3h0M970 789.1h0M929.6 793h0M918.2 793.3h0M812 803.9h0M815 803.9h0M818.1 803.9h0M821.1 803.9h0M824.2 803.9h0M827.2 803.9h0M830.3 803.9h0M833.4 803.9h0M836.4 803.9h0M839.5 803.9h0M842.5 803.9h0M845.5 803.9h0M848.6 803.9h0M851.6 803.9h0M854.7 803.9h0M857.8 803.9h0M860.8 803.9h0M863.9 803.9h0M866.9 803.9h0M870 803.9h0M873 803.9h0M876 803.9h0M879.1 803.9h0M882.1 803.9h0M885.2 803.9h0M888.2 803.9h0M891.3 803.9h0M894.4 803.9h0M897.4 803.9h0M900.5 803.9h0M903.5 803.9h0M906.5 803.9h0M909.6 803.9h0M912.6 803.9h0M915.7 803.9h0M918.8 803.9h0M921.8 803.9h0M924.9 803.9h0M927.9 803.9h0M931 803.9h0M934 803.9h0M937 803.9h0M940.1 803.9h0M943.1 803.9h0M946.2 803.9h0M949.2 803.9h0M952.3 803.9h0M955.4 803.9h0M958.4 803.9h0M961.5 803.9h0M964.5 803.9h0M967.5 803.9h0M970.6 803.9h0M973.6 803.9h0M976.7 803.9h0M979.8 803.9h0M982.8 803.9h0M985.9 803.9h0M988.9 803.9h0M992 803.9h0M812 796.4h0M815 796.4h0M818.1 796.4h0M821.1 796.4h0M824.2 796.4h0M827.2 796.4h0M830.3 796.4h0M833.4 796.4h0M836.4 796.4h0M839.5 796.4h0M842.5 796.4h0M845.5 796.4h0M848.6 796.4h0M851.6 796.4h0M854.7 796.4h0M857.8 796.4h0M860.8 796.4h0M863.9 796.4h0M866.9 796.4h0M870 796.4h0M873 796.4h0M876 796.4h0M879.1 796.4h0M882.1 796.4h0M885.2 796.4h0M888.2 796.4h0M891.3 796.4h0M894.4 796.4h0M897.4 796.4h0M900.5 796.4h0M903.5 796.4h0M906.5 796.4h0M909.6 796.4h0M912.6 796.4h0M915.7 796.4h0M918.8 796.4h0M921.8 796.4h0M924.9 796.4h0M927.9 796.4h0M931 796.4h0M934 796.4h0M937 796.4h0M940.1 796.4h0M943.1 796.4h0M946.2 796.4h0M949.2 796.4h0M952.3 796.4h0M955.4 796.4h0M958.4 796.4h0M961.5 796.4h0M964.5 796.4h0M967.5 796.4h0M970.6 796.4h0M973.6 796.4h0M976.7 796.4h0M979.8 796.4h0M982.8 796.4h0M985.9 796.4h0M988.9 796.4h0M992 796.4h0M812 788.9h0M815 788.9h0M818.1 788.9h0M821.1 788.9h0M824.2 788.9h0M827.2 788.9h0M830.3 788.9h0M833.4 788.9h0M836.4 788.9h0M839.5 788.9h0M842.5 788.9h0M845.5 788.9h0M848.6 788.9h0M851.6 788.9h0M854.7 788.9h0M857.8 788.9h0M860.8 788.9h0M863.9 788.9h0M866.9 788.9h0M870 788.9h0M873 788.9h0M876 788.9h0M879.1 788.9h0M882.1 788.9h0M885.2 788.9h0M888.2 788.9h0M891.3 788.9h0M894.4 788.9h0M897.4 788.9h0M900.5 788.9h0M903.5 788.9h0M906.5 788.9h0M909.6 788.9h0M912.6 788.9h0M915.7 788.9h0M918.8 788.9h0M921.8 788.9h0M924.9 788.9h0M927.9 788.9h0M931 788.9h0M934 788.9h0M937 788.9h0M940.1 788.9h0M943.1 788.9h0M946.2 788.9h0M949.2 788.9h0M952.3 788.9h0M955.4 788.9h0M958.4 788.9h0M961.5 788.9h0M964.5 788.9h0M967.5 788.9h0M970.6 788.9h0M973.6 788.9h0M976.7 788.9h0M979.8 788.9h0M982.8 788.9h0M985.9 788.9h0M988.9 788.9h0M992 788.9h0M812 781.4h0M815 781.4h0M818.1 781.4h0M821.1 781.4h0M824.2 781.4h0M827.2 781.4h0M830.3 781.4h0M833.4 781.4h0M836.4 781.4h0M839.5 781.4h0M842.5 781.4h0M845.5 781.4h0M848.6 781.4h0M851.6 781.4h0M854.7 781.4h0M857.8 781.4h0M860.8 781.4h0M863.9 781.4h0M866.9 781.4h0M870 781.4h0M873 781.4h0M876 781.4h0M879.1 781.4h0M882.1 781.4h0M885.2 781.4h0M888.2 781.4h0M891.3 781.4h0M894.4 781.4h0M897.4 781.4h0M900.5 781.4h0M903.5 781.4h0M906.5 781.4h0M909.6 781.4h0M912.6 781.4h0M915.7 781.4h0M918.8 781.4h0M921.8 781.4h0M924.9 781.4h0M927.9 781.4h0M931 781.4h0M934 781.4h0M937 781.4h0M940.1 781.4h0M943.1 781.4h0M946.2 781.4h0M949.2 781.4h0M952.3 781.4h0M955.4 781.4h0M958.4 781.4h0M961.5 781.4h0M964.5 781.4h0M967.5 781.4h0M970.6 781.4h0M973.6 781.4h0M976.7 781.4h0M979.8 781.4h0M982.8 781.4h0M985.9 781.4h0M988.9 781.4h0M992 781.4h0M1001.6 695.3h0M937.1 732.2h0M924.6 737.7h0M910 739.2h0M901.3 733.4h0M930.1 743.5h0M975.2 740.5h0M948.2 751.7h0M961.4 753.5h0M940.1 754.8h0M926.3 754.3h0M931.3 756h0M907.5 753.5h0M915 756.8h0M967.7 759.3h0M972.7 765.3h0M989 762.3h0M997.3 759h0M999.8 752.3h0M1000.3 769.3h0M982.8 774.8h0M994.8 776.8h0M1012.3 779.3h0M1017.4 781.1h0M1023.4 782.3h0M1026.1 786.9h0M1041.2 780.3h0M1066.3 782.8h0M1060 787.9h0M1052.5 794.4h0M1048.7 794.9h0M1042.4 798.6h0M1039.2 803.7h0M1035.4 805.7h0M1046.7 804.4h0M1053 802.4h0M1058 802.9h0M1068.5 794.9h0M1071 796.9h0M1091.8 801.9h0M1107.6 795.4h0M1017.4 804.9h0M1012.9 801.2h0M1020.4 792.4h0M1022.9 796.6h0M1015.4 788.6h0M900.9 733.4h0M909.7 739.2h0M870.3 739.7h0M890.4 744.7h0M858.3 752.3h0M868.3 751.7h0M888.4 753.5h0M907.2 753.5h0M897.2 759h0M916 757.3h0M842 753.5h0M847 755.5h0M877.1 758.5h0M864.6 759.8h0M832 761.5h0M759.2 794.9h0M764.3 796.1h0M765.5 799.9h0M760.5 801.7h0M773 784.9h0M775.5 802.4h0M784.3 804.9h0M773 797.4h0" stroke="#0505fa" stroke-width="4.6"/>
<path d="M727.4 718.1h0M721.6 729.7h0M732.8 726.6h0M723 739.3h0M744.6 735.5h0M744.6 745.3h0M741.2 750.4h0M732.8 756h0M737.9 758.2h0M746.8 758.7h0M727.9 760.5h0M736.8 778.8h0M741.2 775.4h0M746.8 772.7h0M745.7 784.5h0M747.9 783.9h0M756.9 766h0M755.7 779.4h0M756.9 787.2h0M751.7 792.1h0M764 749.3h0M770.2 748.2h0M775.8 747.5h0M782.5 747.5h0M766.9 759.4h0M771.8 760.5h0M769.1 767.2h0M764.2 775h0M770.2 773.8h0M772.5 775h0M775.8 772.1h0M780.3 773.8h0M785.8 773.8h0M790.3 773.4h0M795.9 766h0M798.1 764.9h0M802.6 763.8h0M794.8 753.3h0M795.9 754.9h0M810.4 753.8h0M814.2 749.3h0M821.5 756h0M822.6 759.4h0M830.4 755.6h0M836.5 752h0M829.3 746.6h0M833.8 745.3h0M833.1 735.9h0M836.5 738.2h0M829.3 734.8h0M821.5 735.9h0M822.2 739.3h0M821.5 727.7h0M811.5 727.7h0M803.7 741.5h0M797.4 736.4h0M784.7 739.7h0M787 727h0M772.5 733.7h0M770.9 711.9h0M762 693.6h0M795.4 697.6h0M807 688h0M809.9 672.6h0M832.2 674h0M779.2 640.1h0M780.7 646.3h0M803.2 640.7h0M877.7 635.6h0M846.5 736.4h0M852.3 734.2h0M852.7 743.7h0M876.6 730.6h0M931.9 707.6h0M829.5 555.3h0M881.4 592.1h0" stroke="#f8050f" stroke-width="4.7"/>
<g clip-path="url(#cE)" stroke="#1e1e1e" stroke-width="1.3">
<ellipse cx="789.3" cy="740.9" rx="118.9" ry="77.6" transform="rotate(-47.2 789.3 740.9)"/>
<line x1="733.9" y1="806.9" x2="852.3" y2="642.3"/>
<ellipse cx="890.6" cy="791.7" rx="119.8" ry="27.5" transform="rotate(2.3 890.6 791.7)"/>
<line x1="771.8" y1="789" x2="1011.5" y2="794.6"/>
</g>
<path d="M721.6 524.5V806.9H1153" stroke="#2a2a2a" stroke-width="1.1" stroke-linecap="butt"/>
<path d="M721.6 705.55h3" stroke="#2a2a2a" stroke-width="1" stroke-linecap="butt"/>
<path d="M721.6 604.2h3" stroke="#2a2a2a" stroke-width="1" stroke-linecap="butt"/>
<path d="M807.84 806.9v-3" stroke="#2a2a2a" stroke-width="1" stroke-linecap="butt"/>
<path d="M894.08 806.9v-3" stroke="#2a2a2a" stroke-width="1" stroke-linecap="butt"/>
<path d="M980.32 806.9v-3" stroke="#2a2a2a" stroke-width="1" stroke-linecap="butt"/>
<path d="M1066.56 806.9v-3" stroke="#2a2a2a" stroke-width="1" stroke-linecap="butt"/>
<path d="M1152.8 806.9v-3" stroke="#2a2a2a" stroke-width="1" stroke-linecap="butt"/>
</g>
<text transform="translate(695.47 817.75) scale(0.9521 1)" font-size="24.51" fill="#3a3a3a" font-family='"Liberation Sans", sans-serif'>0</text>
<text transform="translate(668.44 716.25) scale(0.9803 1)" font-size="24.51" fill="#3a3a3a" font-family='"Liberation Sans", sans-serif'>500</text>
<text transform="translate(655.62 615.45) scale(0.9685 1)" font-size="24.51" fill="#3a3a3a" font-family='"Liberation Sans", sans-serif'>1000</text>
<text transform="translate(713.16 843.15) scale(1.0626 1)" font-size="24.51" fill="#3a3a3a" font-family='"Liberation Sans", sans-serif'>0</text>
<text transform="translate(786.09 843.15) scale(0.9891 1)" font-size="24.51" fill="#3a3a3a" font-family='"Liberation Sans", sans-serif'>200</text>
<text transform="translate(872.62 843.15) scale(0.9732 1)" font-size="24.51" fill="#3a3a3a" font-family='"Liberation Sans", sans-serif'>400</text>
<text transform="translate(959.68 843.15) scale(0.9917 1)" font-size="24.51" fill="#3a3a3a" font-family='"Liberation Sans", sans-serif'>600</text>
<text transform="translate(1046.41 843.15) scale(0.9860 1)" font-size="24.51" fill="#3a3a3a" font-family='"Liberation Sans", sans-serif'>800</text>
<text transform="translate(1126.49 843.15) scale(0.9839 1)" font-size="24.51" fill="#3a3a3a" font-family='"Liberation Sans", sans-serif'>1000</text>
<text transform="translate(846.29 878.7) scale(0.9756 1)" font-size="26.81" fill="#3a3a3a" font-family='"Liberation Sans", sans-serif'><tspan x="0" y="0">CH</tspan><tspan x="39.93" y="12" font-size="18.23">3</tspan><tspan x="51.87" y="0"> Peak Area</tspan></text>
<text transform="translate(631.5 752.25) rotate(-90) scale(0.8658 1)" font-size="28.99" fill="#3a3a3a" font-family='"Liberation Sans", sans-serif'><tspan x="0" y="0">CH</tspan><tspan x="43.07" y="12.8" font-size="19.71">2</tspan><tspan x="55.83" y="0"> Peak Area</tspan></text>
<text transform="translate(1007.88 566.9) scale(0.9299 1)" font-size="41.08" fill="#000" font-family='"DejaVu Serif", "Liberation Serif", serif' stroke="#000" stroke-width="0.35"><tspan x="0" y="0">φ=</tspan><tspan x="66.19" y="0">74.4°</tspan></text>
<g id="panelF" shape-rendering="crispEdges">
<rect x="1371.7" y="499.3" width="396.3" height="313.9" fill="#0000fe"/>
<clipPath id="cF"><rect x="1371.7" y="499.3" width="396.3" height="313.9"/></clipPath>
<g clip-path="url(#cF)"><path fill="#fb0007" transform="translate(1371.7 498.9) scale(7.7706 6.1800)" d="M0 49h1v1h-1zM1 14h1v1h-1zM1 18h1v1h-1zM1 45h1v1h-1zM2 1h1v1h-1zM2 38h1v1h-1zM2 39h1v1h-1zM3 34h1v1h-1zM3 45h1v1h-1zM4 7h1v1h-1zM4 9h1v1h-1zM4 24h1v1h-1zM4 39h1v1h-1zM4 48h1v1h-1zM5 9h1v1h-1zM5 14h1v1h-1zM5 15h1v1h-1zM5 21h1v1h-1zM5 26h1v1h-1zM5 32h1v1h-1zM6 36h1v1h-1zM6 47h1v1h-1zM7 16h1v1h-1zM7 42h1v1h-1zM8 8h1v1h-1zM8 19h1v1h-1zM8 41h1v1h-1zM8 42h1v1h-1zM8 46h1v1h-1zM8 48h1v1h-1zM9 26h1v1h-1zM10 33h1v1h-1zM10 34h1v1h-1zM10 39h1v1h-1zM10 40h1v1h-1zM10 46h1v1h-1zM12 29h1v1h-1zM12 43h1v1h-1zM13 21h1v1h-1zM13 23h1v1h-1zM13 26h1v1h-1zM14 0h1v1h-1zM16 16h1v1h-1zM16 19h1v1h-1zM16 20h1v1h-1zM16 38h1v1h-1zM16 47h1v1h-1zM17 26h1v1h-1zM17 36h1v1h-1zM17 42h1v1h-1zM18 2h1v1h-1zM18 3h1v1h-1zM18 7h1v1h-1zM18 8h1v1h-1zM18 19h1v1h-1zM18 27h1v1h-1zM18 28h1v1h-1zM19 36h1v1h-1zM19 37h1v1h-1zM19 39h1v1h-1zM19 46h1v1h-1zM19 48h1v1h-1zM20 20h1v1h-1zM20 23h1v1h-1zM20 50h1v1h-1zM21 18h1v1h-1zM21 22h1v1h-1zM21 29h1v1h-1zM21 30h1v1h-1zM22 34h1v1h-1zM23 3h1v1h-1zM23 9h1v1h-1zM23 20h1v1h-1zM23 25h1v1h-1zM23 50h1v1h-1zM24 23h1v1h-1zM24 39h1v1h-1zM24 42h1v1h-1zM24 45h1v1h-1zM25 29h1v1h-1zM26 7h1v1h-1zM26 31h1v1h-1zM27 6h1v1h-1zM27 20h1v1h-1zM27 21h1v1h-1zM27 22h1v1h-1zM27 36h1v1h-1zM27 37h1v1h-1zM27 46h1v1h-1zM28 9h1v1h-1zM28 20h1v1h-1zM28 39h1v1h-1zM28 41h1v1h-1zM28 45h1v1h-1zM29 22h1v1h-1zM29 46h1v1h-1zM31 32h1v1h-1zM32 14h1v1h-1zM32 42h1v1h-1zM32 47h1v1h-1zM34 0h1v1h-1zM34 7h1v1h-1zM34 22h1v1h-1zM34 43h1v1h-1zM35 47h1v1h-1zM36 2h1v1h-1zM36 43h1v1h-1zM36 47h1v1h-1zM36 48h1v1h-1zM37 6h1v1h-1zM37 14h1v1h-1zM37 15h1v1h-1zM38 13h1v1h-1zM38 18h1v1h-1zM38 38h1v1h-1zM39 31h1v1h-1zM39 37h1v1h-1zM39 38h1v1h-1zM39 39h1v1h-1zM39 49h1v1h-1zM40 21h1v1h-1zM40 48h1v1h-1zM42 13h1v1h-1zM42 32h1v1h-1zM43 33h1v1h-1zM45 0h1v1h-1zM45 3h1v1h-1zM45 7h1v1h-1zM45 44h1v1h-1zM45 47h1v1h-1zM46 10h1v1h-1zM46 34h1v1h-1zM46 46h1v1h-1zM47 2h1v1h-1zM47 3h1v1h-1zM47 4h1v1h-1zM47 14h1v1h-1zM47 17h1v1h-1zM47 28h1v1h-1zM47 43h1v1h-1zM47 44h1v1h-1zM48 22h1v1h-1zM49 27h1v1h-1zM50 26h1v1h-1zM50 32h1v1h-1z"/></g>
</g>
<rect x="1371.7" y="499.3" width="396.3" height="313.9" fill="none" stroke="#0e0e78" stroke-width="1.7"/>
<line x1="1375.3" y1="813.2" x2="1375.3" y2="809.7" stroke="#14148c" stroke-width="1"/>
<line x1="1505" y1="813.2" x2="1505" y2="809.7" stroke="#14148c" stroke-width="1"/>
<line x1="1635" y1="813.2" x2="1635" y2="809.7" stroke="#14148c" stroke-width="1"/>
<line x1="1764.8" y1="813.2" x2="1764.8" y2="809.7" stroke="#14148c" stroke-width="1"/>
<text transform="translate(1348.05 512.35) scale(0.9368 1)" font-size="25.35" fill="#3a3a3a" font-family='"Liberation Sans", sans-serif'>0</text>
<text transform="translate(1347.28 614.84) scale(0.9906 1)" font-size="25.71" fill="#3a3a3a" font-family='"Liberation Sans", sans-serif'>5</text>
<text transform="translate(1335.35 718.55) scale(0.9191 1)" font-size="25.35" fill="#3a3a3a" font-family='"Liberation Sans", sans-serif'>10</text>
<text transform="translate(1335.34 821.44) scale(0.9107 1)" font-size="25.71" fill="#3a3a3a" font-family='"Liberation Sans", sans-serif'>15</text>
<text transform="translate(1368.31 851.05) scale(0.9889 1)" font-size="25.07" fill="#3a3a3a" font-family='"Liberation Sans", sans-serif'>0</text>
<text transform="translate(1497.51 851.05) scale(0.9769 1)" font-size="25.43" fill="#3a3a3a" font-family='"Liberation Sans", sans-serif'>5</text>
<text transform="translate(1623.09 851.05) scale(0.9094 1)" font-size="25.07" fill="#3a3a3a" font-family='"Liberation Sans", sans-serif'>10</text>
<text transform="translate(1751.97 851.05) scale(0.9051 1)" font-size="25.43" fill="#3a3a3a" font-family='"Liberation Sans", sans-serif'>15</text>
<text transform="translate(1491.47 889.12) scale(0.9355 1)" font-size="27.06" fill="#3a3a3a" font-family='"Liberation Sans", sans-serif'>Distance (um)</text>
<text transform="translate(1323.03 741.7) rotate(-90) scale(1.0752 1)" font-size="25.56" fill="#3a3a3a" font-family='"Liberation Sans", sans-serif'>Distance (um)</text>
</svg>
</body></html>
